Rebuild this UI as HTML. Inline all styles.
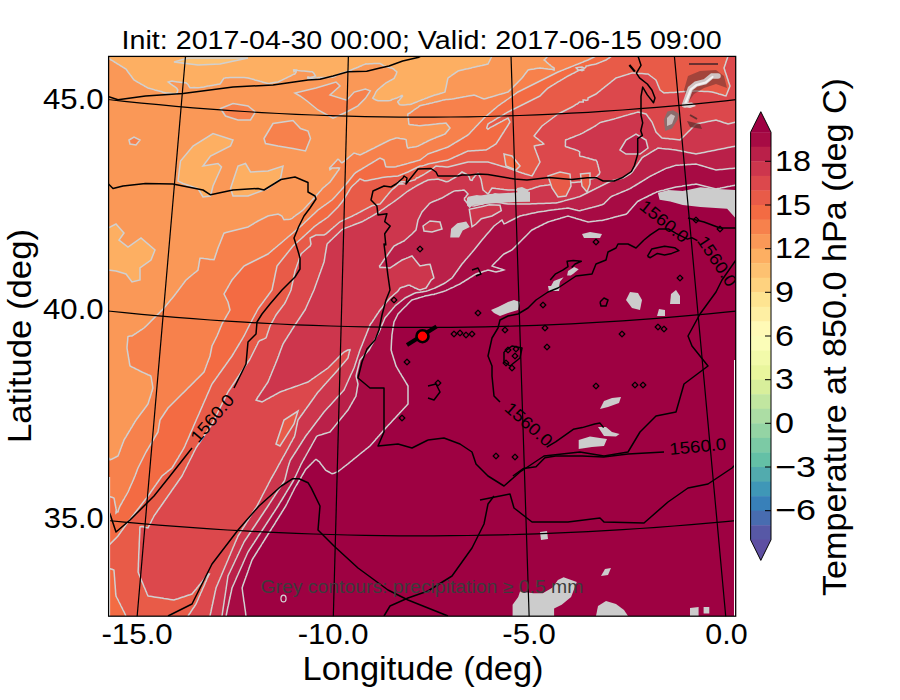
<!DOCTYPE html>
<html><head><meta charset="utf-8"><title>Temperature at 850 hPa</title>
<style>html,body{margin:0;padding:0;background:#fff;width:900px;height:700px;overflow:hidden}svg{display:block}</style>
</head><body>
<svg width="900" height="700" viewBox="0 0 900 700" font-family="Liberation Sans, sans-serif">
<rect width="900" height="700" fill="#fff"/>
<defs><clipPath id="c"><rect x="108" y="56.3" width="627.7" height="559.9"/></clipPath></defs>
<g clip-path="url(#c)">
<g shape-rendering="auto"><path fill="#fdaf62" fill-rule="evenodd" d="M110.0 56.0L112.0 56.0L114.0 56.0L116.0 56.0L118.0 56.0L120.0 56.0L122.0 56.0L124.0 56.0L126.0 56.0L128.0 56.0L130.0 56.0L132.0 56.0L134.0 56.0L136.0 56.0L138.0 56.0L140.0 56.0L142.0 56.0L144.0 56.0L146.0 56.0L148.0 56.0L150.0 56.0L152.0 56.0L154.0 56.0L156.0 56.0L158.0 56.0L160.0 56.0L162.0 56.0L164.0 56.0L166.0 56.0L168.0 56.0L170.0 56.0L172.0 56.0L174.0 56.0L176.0 56.0L178.0 56.0L180.0 56.0L182.0 56.0L184.0 56.0L186.0 56.0L188.0 56.0L190.0 56.0L192.0 56.0L194.0 56.0L196.0 56.0L198.0 56.0L200.0 56.0L202.0 56.0L204.0 56.0L206.0 56.0L208.0 56.0L210.0 56.0L212.0 56.0L214.0 56.0L216.0 56.0L218.0 56.0L220.0 56.0L222.0 56.0L224.0 56.0L226.0 56.0L228.0 56.0L230.0 56.0L232.0 56.0L234.0 56.0L236.0 56.0L238.0 56.0L240.0 56.0L242.0 56.0L244.0 56.0L246.0 56.0L248.0 56.0L250.0 56.0L252.0 56.0L254.0 56.0L256.0 56.0L258.0 56.0L260.0 56.0L262.0 56.0L264.0 56.0L266.0 56.0L268.0 56.0L270.0 56.0L272.0 56.0L274.0 56.0L276.0 56.0L278.0 56.0L280.0 56.0L282.0 56.0L284.0 56.0L286.0 56.0L288.0 56.0L290.0 56.0L292.0 56.0L294.0 56.0L296.0 56.0L298.0 56.0L300.0 56.0L302.0 56.0L304.0 56.0L306.0 56.0L308.0 56.0L310.0 56.0L312.0 56.0L314.0 56.0L316.0 56.0L318.0 56.0L320.0 56.0L322.0 56.0L324.0 56.0L326.0 56.0L328.0 56.0L330.0 56.0L332.0 56.0L334.0 56.0L336.0 56.0L338.0 56.0L340.0 56.0L342.0 56.0L344.0 56.0L346.0 56.0L348.0 56.0L350.0 56.0L352.0 56.0L354.0 56.0L356.0 56.0L358.0 56.0L360.0 56.0L362.0 56.0L364.0 56.0L366.0 56.0L368.0 56.0L370.0 56.0L372.0 56.0L374.0 56.0L376.0 56.0L378.0 56.0L380.0 56.0L382.0 56.0L384.0 56.0L386.0 56.0L388.0 56.0L390.0 56.0L392.0 56.0L394.0 56.0L396.0 56.0L398.0 56.0L400.0 56.0L402.0 56.0L404.0 56.0L406.0 56.0L408.0 56.0L410.0 56.0L412.0 56.0L414.0 56.0L416.0 56.0L418.0 56.0L420.0 56.0L422.0 56.0L424.0 56.0L426.0 56.0L428.0 56.0L430.0 56.0L432.0 56.0L434.0 56.0L436.0 56.0L438.0 56.0L440.0 56.0L442.0 56.0L444.0 56.0L446.0 56.0L448.0 56.0L450.0 56.0L452.0 56.0L454.0 56.0L456.0 56.0L458.0 56.0L460.0 56.0L462.0 56.0L464.0 56.0L466.0 56.0L468.0 56.0L470.0 56.0L472.0 56.0L474.0 56.0L476.0 56.0L478.0 56.0L480.0 56.0L482.0 56.0L484.0 56.0L486.0 56.0L488.0 56.0L490.0 56.0L491.9 56.0L491.0 58.0L490.0 60.0L490.0 60.1L489.0 62.0L488.0 64.0L487.9 64.0L486.0 64.5L484.0 64.9L482.0 65.4L480.0 65.8L479.7 66.0L478.0 66.3L476.0 66.8L474.0 67.2L472.0 67.6L471.2 68.0L470.0 68.2L468.0 68.7L466.0 69.1L464.0 69.5L462.5 70.0L462.0 70.1L460.0 70.5L458.0 71.0L456.7 72.0L456.0 72.4L454.0 73.9L453.9 74.0L452.0 75.2L450.9 76.0L450.0 76.6L448.1 78.0L448.0 78.3L447.5 80.0L447.1 82.0L446.7 84.0L446.3 86.0L446.0 87.6L445.8 88.0L445.4 90.0L445.0 92.0L444.0 92.4L442.0 93.0L440.0 93.5L438.9 94.0L438.0 94.2L436.0 94.8L434.0 95.3L432.3 96.0L432.0 96.0L430.0 96.8L428.0 97.5L427.1 98.0L426.0 98.3L424.0 99.1L422.0 99.7L421.7 100.0L420.0 100.6L418.0 101.4L416.8 102.0L416.0 102.2L414.0 103.0L412.0 103.8L411.7 104.0L410.0 104.5L408.0 104.6L406.0 104.8L404.0 104.9L402.0 105.1L400.0 104.9L399.0 104.0L398.0 102.3L397.7 102.0L398.0 101.2L399.5 100.0L400.0 99.1L401.0 98.0L402.0 96.7L402.5 96.0L402.0 95.4L401.0 96.0L400.0 96.7L398.0 97.4L396.9 98.0L396.0 98.2L394.0 98.9L392.0 99.5L391.5 100.0L390.0 100.4L388.0 100.8L386.0 100.8L384.0 100.8L382.0 100.8L380.0 100.8L378.0 100.8L376.0 100.0L376.0 100.0L374.0 99.0L372.7 98.0L374.0 96.0L374.1 96.0L375.0 94.0L375.9 92.0L376.0 91.8L377.5 90.0L378.0 89.5L379.8 88.0L380.0 87.8L382.0 86.1L382.2 86.0L384.0 84.4L384.6 84.0L386.0 82.9L387.8 82.0L388.0 81.8L390.0 80.7L391.3 80.0L392.0 79.6L394.0 78.4L394.3 78.0L395.2 76.0L396.0 74.6L396.2 74.0L396.9 72.0L396.0 71.1L394.5 70.0L394.0 69.3L392.0 68.1L391.7 68.0L390.0 67.7L388.0 67.1L386.0 66.6L384.0 66.0L384.0 66.0L382.0 64.6L380.9 64.0L380.0 63.4L378.0 63.6L376.0 63.6L374.0 63.6L372.0 63.7L370.0 63.7L368.0 64.0L366.0 63.9L366.0 64.0L364.0 64.6L362.0 65.4L361.1 66.0L360.0 66.3L358.0 67.2L356.1 68.0L356.0 68.0L354.0 68.8L352.0 69.6L351.5 70.0L350.0 70.5L348.0 71.3L346.0 71.6L345.5 72.0L344.0 72.4L342.0 73.0L340.0 73.5L339.5 74.0L338.0 74.7L336.0 75.6L335.6 76.0L334.0 76.7L332.0 77.3L330.0 77.3L328.0 77.4L326.0 77.5L324.0 77.5L322.0 77.6L320.0 77.6L318.0 77.5L317.5 78.0L316.0 78.1L314.0 78.2L312.0 78.2L310.0 78.2L308.0 78.4L307.6 78.0L308.0 76.9L310.0 77.4L312.0 77.1L314.0 76.4L315.5 76.0L314.2 74.0L314.0 73.5L312.5 72.0L312.0 71.8L310.0 71.7L308.0 71.5L306.0 71.3L304.0 71.1L302.0 70.9L300.0 70.7L298.0 70.4L296.0 70.0L296.0 70.0L294.0 69.8L293.6 70.0L294.0 71.5L296.0 70.1L296.2 72.0L296.0 72.3L294.8 74.0L294.0 74.2L292.0 75.2L290.6 76.0L290.0 76.2L288.0 77.1L286.4 78.0L286.0 78.1L284.0 79.1L282.3 80.0L282.0 80.1L280.0 81.0L278.0 82.0L278.0 82.0L276.0 82.3L274.0 82.6L272.0 82.9L270.0 83.2L268.0 83.4L266.0 82.9L264.0 82.4L262.3 82.0L262.0 81.8L260.0 81.3L258.0 80.7L256.0 80.2L254.9 80.0L254.0 79.5L252.0 79.1L250.0 78.5L248.0 78.0L248.0 77.9L246.0 77.7L244.0 77.6L242.0 77.5L240.0 77.5L238.0 77.4L236.0 77.4L234.0 77.4L232.0 77.5L230.0 77.6L228.0 77.7L226.0 77.8L225.1 78.0L224.0 78.1L222.7 80.0L222.0 81.0L221.5 82.0L220.0 84.0L220.0 84.0L218.0 84.3L216.0 84.7L214.0 85.1L212.0 85.4L210.0 85.7L209.3 86.0L208.0 86.1L206.0 86.5L204.0 86.9L202.0 87.2L200.0 87.6L198.0 87.8L196.0 87.7L194.0 87.6L192.0 87.7L190.0 87.8L188.7 86.0L188.0 84.4L187.5 84.0L186.0 82.8L184.0 82.7L182.0 82.5L180.0 82.3L178.0 82.1L177.1 82.0L176.0 81.8L174.0 81.4L172.0 81.1L170.0 81.4L168.2 82.0L170.0 83.4L170.6 84.0L172.0 84.8L173.6 86.0L174.0 86.2L176.0 87.6L176.6 88.0L177.8 90.0L177.4 92.0L176.1 94.0L176.0 94.0L175.6 94.0L174.0 93.5L172.0 93.5L170.0 93.3L168.0 93.1L166.0 93.0L164.0 92.4L162.2 92.0L162.0 91.8L160.0 91.3L158.0 90.8L156.0 90.2L154.9 90.0L154.0 89.6L152.0 89.1L150.0 88.5L148.0 88.0L148.0 88.0L146.0 86.9L144.4 86.0L144.0 85.7L142.0 84.6L140.9 84.0L140.0 83.4L138.0 82.3L137.4 82.0L136.0 81.2L134.0 80.0L134.0 80.0L132.5 78.0L132.0 77.3L131.1 76.0L130.0 74.6L129.6 74.0L128.0 72.0L128.0 72.0L126.7 70.0L126.0 69.1L124.2 68.0L124.0 67.9L122.0 66.6L121.0 66.0L120.0 65.3L118.0 64.2L117.6 64.0L116.0 62.9L114.4 62.0L114.0 61.7L112.0 60.4L111.1 60.0L110.0 59.2L108.0 58.0L108.0 58.0L108.0 56.0Z"/><path fill="#fa9857" fill-rule="evenodd" d="M492.0 56.0L494.0 56.0L496.0 56.0L498.0 56.0L500.0 56.0L502.0 56.0L504.0 56.0L506.0 56.0L508.0 56.0L510.0 56.0L512.0 56.0L514.0 56.0L516.0 56.0L518.0 56.0L520.0 56.0L522.0 56.0L524.0 56.0L526.0 56.0L528.0 56.0L530.0 56.0L532.0 56.0L534.0 56.0L536.0 56.0L538.0 56.0L540.0 56.0L542.0 56.0L544.0 56.0L546.0 56.0L547.9 56.0L546.1 58.0L546.0 58.2L544.1 60.0L546.0 61.4L546.4 62.0L548.0 63.3L548.7 64.0L550.0 64.9L551.1 66.0L552.0 66.7L554.0 67.9L554.1 68.0L554.2 70.0L554.0 70.0L553.8 70.0L552.0 69.3L550.0 69.2L548.0 69.0L546.0 68.7L544.0 68.5L542.0 68.2L540.1 68.0L540.0 67.9L539.9 68.0L538.0 68.3L536.0 68.6L534.0 69.0L532.0 69.3L530.0 69.6L528.3 70.0L528.0 70.1L526.6 72.0L526.0 72.7L525.0 74.0L524.0 75.4L523.6 76.0L522.0 78.0L522.0 78.0L520.1 80.0L520.0 80.1L518.2 82.0L518.0 82.1L516.1 84.0L516.0 84.1L514.1 86.0L514.0 86.1L512.2 88.0L512.0 88.2L510.2 90.0L510.0 90.1L508.0 92.0L508.0 92.0L506.0 92.6L504.0 93.2L502.0 93.7L501.3 94.0L500.0 94.3L498.0 94.9L496.0 95.5L494.4 96.0L494.0 96.1L492.0 96.7L490.0 97.3L488.0 97.8L487.6 98.0L486.0 98.4L484.0 98.9L482.0 98.2L481.4 98.0L480.0 97.4L478.0 96.6L476.5 96.0L476.0 95.8L474.0 95.1L472.0 95.4L470.0 95.7L468.4 96.0L468.0 96.1L466.0 96.5L464.0 96.8L462.0 97.2L460.0 97.6L458.0 97.9L457.3 98.0L456.0 98.3L454.0 98.7L452.0 99.0L450.0 99.2L448.0 99.4L446.0 99.5L444.0 99.9L443.0 100.0L442.0 100.4L440.0 100.9L438.0 101.4L436.0 101.9L435.0 102.0L434.0 102.4L432.0 102.9L430.0 103.3L428.0 103.9L427.0 104.0L426.0 104.4L424.0 104.8L422.0 105.3L420.0 105.8L419.6 106.0L418.0 107.3L416.8 108.0L416.0 108.7L414.0 109.9L413.9 110.0L412.0 111.5L411.1 112.0L410.0 113.0L408.0 113.9L407.9 114.0L407.8 116.0L408.0 117.4L408.4 118.0L408.4 120.0L408.7 122.0L408.8 124.0L410.0 124.7L412.0 124.7L414.0 125.0L416.0 125.2L418.0 125.5L420.0 125.7L422.0 125.5L424.0 125.3L426.0 125.1L428.0 124.9L430.0 124.7L432.0 124.5L434.0 124.3L436.0 124.1L436.4 124.0L438.0 123.8L440.0 123.6L442.0 123.4L444.0 123.2L446.0 123.1L446.8 124.0L448.0 125.4L448.4 126.0L450.0 128.0L448.4 130.0L448.0 130.5L446.7 132.0L446.0 132.9L444.9 134.0L444.0 134.4L442.0 135.2L440.2 136.0L440.0 136.0L438.0 136.8L436.0 137.5L435.3 138.0L434.0 138.4L432.0 139.2L430.1 140.0L430.0 140.0L428.0 141.0L426.2 142.0L426.0 142.1L424.0 143.0L422.3 144.0L422.0 144.1L420.0 145.1L418.3 146.0L418.0 146.1L416.0 146.8L414.0 147.0L412.0 147.3L410.0 147.4L408.7 148.0L408.0 148.1L407.7 148.0L407.0 146.0L406.7 144.0L406.4 142.0L406.2 140.0L406.0 139.6L404.0 139.0L402.0 138.7L400.0 138.5L398.0 138.1L396.0 138.1L394.0 138.8L392.0 139.4L390.0 140.0L390.0 140.0L388.0 141.0L386.1 142.0L386.0 142.0L384.0 143.0L382.1 144.0L382.0 144.0L380.0 145.0L378.1 146.0L378.0 146.0L376.0 147.0L374.1 148.0L374.0 148.1L372.0 149.0L370.1 150.0L370.0 150.0L368.0 151.0L366.2 152.0L366.0 152.1L364.0 153.0L362.1 154.0L362.0 154.0L360.0 154.9L358.0 154.3L356.8 154.0L356.0 153.6L354.0 153.1L352.8 154.0L352.0 154.7L350.5 156.0L350.0 156.3L348.2 158.0L348.0 158.1L346.0 159.7L345.7 160.0L344.0 161.5L343.2 162.0L342.0 162.8L340.8 162.0L340.0 160.9L339.1 160.0L338.0 159.2L337.0 160.0L336.0 161.2L335.2 162.0L334.0 163.4L333.4 164.0L332.0 165.5L331.5 166.0L330.0 167.6L329.6 168.0L330.0 169.7L332.0 168.1L333.3 168.0L334.0 168.0L335.4 168.0L336.0 168.0L336.1 168.0L338.0 167.8L339.5 168.0L338.7 170.0L338.0 170.9L337.1 172.0L336.0 173.8L335.8 174.0L334.3 176.0L334.0 176.5L332.9 178.0L332.0 179.3L331.5 180.0L330.0 182.0L330.0 182.1L328.0 183.8L327.8 184.0L326.0 185.4L325.4 186.0L324.0 187.2L323.0 188.0L322.0 189.1L321.3 190.0L320.0 191.4L319.4 192.0L318.0 193.7L317.7 194.0L316.0 195.9L316.0 196.0L314.1 198.0L314.0 198.1L312.3 200.0L312.0 200.3L310.4 202.0L310.0 202.5L308.5 204.0L308.0 204.6L306.7 206.0L306.0 206.8L304.9 208.0L304.0 209.0L303.0 210.0L302.0 210.8L300.5 212.0L300.0 212.3L298.0 213.9L297.9 214.0L296.0 215.2L295.0 216.0L294.0 216.7L292.5 218.0L292.0 218.4L290.0 219.2L288.0 219.4L286.0 219.6L284.0 219.8L282.9 218.0L282.0 216.1L281.9 216.0L280.0 215.0L278.0 214.0L276.0 214.4L274.0 214.8L272.0 215.2L270.0 215.6L268.1 216.0L268.0 216.0L266.0 217.0L264.1 218.0L264.0 218.0L262.0 219.0L260.1 220.0L260.0 220.0L258.0 221.0L256.4 222.0L256.0 222.2L254.0 223.4L253.1 224.0L252.0 224.6L250.0 225.8L249.8 226.0L248.0 227.0L246.0 227.5L244.0 228.0L244.0 228.0L242.0 228.5L240.0 229.0L238.0 229.5L236.0 230.0L236.0 230.0L234.0 230.5L232.0 231.0L230.0 231.5L228.0 232.0L228.0 232.0L226.0 232.5L224.0 233.2L223.6 234.0L222.8 236.0L222.0 238.0L222.0 238.1L221.2 240.0L220.4 242.0L220.0 243.1L219.6 244.0L218.8 246.0L218.0 248.0L218.0 248.1L217.3 250.0L216.7 252.0L216.0 254.0L216.0 254.0L215.3 256.0L214.7 258.0L214.0 259.8L212.0 259.6L210.0 259.4L208.0 259.1L206.0 258.8L204.0 258.6L202.0 258.3L200.0 258.3L199.7 260.0L199.3 262.0L199.0 264.0L198.7 266.0L198.3 268.0L198.0 270.0L198.0 270.0L196.0 271.8L195.7 272.0L194.0 273.3L193.2 274.0L192.0 275.0L190.8 276.0L190.0 276.7L188.4 278.0L188.0 278.4L186.1 280.0L186.0 280.1L184.5 282.0L184.0 282.7L183.0 284.0L182.0 285.4L181.5 286.0L180.0 288.0L180.0 288.1L178.5 290.0L178.0 290.7L177.0 292.0L176.0 293.4L175.5 294.0L174.0 296.0L174.0 296.1L172.4 298.0L172.0 298.5L170.6 300.0L170.0 300.8L169.0 302.0L168.0 303.2L167.3 304.0L166.0 305.7L165.7 306.0L164.0 308.0L164.0 308.1L162.1 310.0L162.0 310.1L160.1 312.0L160.0 312.2L158.1 314.0L158.0 314.2L156.1 316.0L156.0 316.1L154.1 318.0L154.0 318.1L152.1 320.0L152.0 320.1L150.1 322.0L150.0 322.2L148.1 324.0L148.0 324.2L146.1 326.0L146.0 326.1L144.0 328.0L144.0 328.0L142.0 329.4L141.0 330.0L140.0 330.7L138.1 332.0L138.0 332.0L136.0 333.4L135.0 334.0L134.0 334.7L132.0 336.0L130.0 336.0L130.0 336.0L128.0 336.6L127.8 338.0L127.7 340.0L127.5 342.0L127.3 344.0L127.1 346.0L127.0 348.0L127.3 350.0L127.6 352.0L128.0 354.0L128.0 354.1L128.3 356.0L128.6 358.0L129.0 360.0L129.3 362.0L129.6 364.0L130.0 365.7L130.1 366.0L132.0 367.0L134.0 367.9L134.2 368.0L136.0 369.0L138.0 369.9L138.2 370.0L140.0 371.0L142.0 372.0L142.1 372.0L144.0 372.9L146.0 373.8L146.6 374.0L148.0 374.7L150.0 375.5L150.8 376.0L151.3 378.0L151.6 380.0L151.9 382.0L152.0 382.1L152.3 384.0L152.6 386.0L152.9 388.0L152.3 390.0L152.0 391.5L151.6 392.0L151.1 394.0L150.5 396.0L150.0 397.8L149.8 398.0L149.2 400.0L148.6 402.0L148.0 404.0L148.0 404.0L146.5 406.0L146.0 406.8L145.0 408.0L144.0 409.5L143.5 410.0L142.1 412.0L142.0 412.1L140.5 414.0L140.0 414.8L139.0 416.0L138.0 417.5L137.5 418.0L136.1 420.0L136.0 420.1L134.8 422.0L134.0 423.5L133.6 424.0L132.4 426.0L132.0 426.8L131.2 428.0L130.1 430.0L130.0 430.2L128.8 432.0L128.0 433.5L127.6 434.0L126.4 436.0L126.0 436.8L125.2 438.0L124.0 440.0L124.0 440.1L123.3 442.0L122.5 444.0L122.0 445.5L121.7 446.0L121.0 448.0L120.2 450.0L120.0 450.9L119.5 452.0L118.8 454.0L118.0 456.0L118.0 456.0L116.0 457.0L114.1 458.0L114.0 458.0L112.0 459.0L110.0 459.8L108.8 458.0L108.0 456.7L108.0 456.0L108.0 454.0L108.0 452.0L108.0 450.0L108.0 448.0L108.0 446.0L108.0 444.0L108.0 442.0L108.0 440.0L108.0 438.0L108.0 436.0L108.0 434.0L108.0 432.0L108.0 430.0L108.0 428.0L108.0 426.0L108.0 424.0L108.0 422.0L108.0 420.0L108.0 418.0L108.0 416.0L108.0 414.0L108.0 412.0L108.0 410.0L108.0 408.0L108.0 406.0L108.0 404.0L108.0 402.0L108.0 400.0L108.0 398.0L108.0 396.0L108.0 394.0L108.0 392.0L108.0 390.0L108.0 388.0L108.0 386.0L108.0 384.0L108.0 382.0L108.0 380.0L108.0 378.0L108.0 376.0L108.0 374.0L108.0 372.0L108.0 370.0L108.0 368.0L108.0 366.0L108.0 364.0L108.0 362.0L108.0 360.0L108.0 358.0L108.0 356.0L108.0 354.0L108.0 352.0L108.0 350.0L108.0 348.0L108.0 346.0L108.0 344.0L108.0 342.0L108.0 340.0L108.0 338.0L108.0 336.0L108.0 334.0L108.0 332.0L108.0 330.0L108.0 328.0L108.0 326.0L108.0 324.0L108.0 322.0L108.0 320.0L108.0 318.0L108.0 316.0L108.0 314.0L108.0 312.0L108.0 310.0L108.0 308.0L108.0 306.0L108.0 304.0L108.0 302.0L108.0 300.0L108.0 298.0L108.0 296.0L108.0 294.0L108.0 292.0L108.0 290.0L108.0 288.0L108.0 286.0L108.0 284.0L108.0 282.0L108.0 280.0L108.0 278.0L108.0 276.0L108.0 274.0L108.0 272.0L108.0 270.0L108.0 268.0L108.0 266.0L108.0 264.0L108.0 262.0L108.0 260.0L108.0 258.0L108.0 256.0L108.0 254.0L108.0 252.0L108.0 250.0L108.0 248.0L108.0 246.0L108.0 244.0L108.0 242.0L108.0 240.0L108.0 238.0L108.0 236.0L108.0 234.0L108.0 232.0L108.0 230.0L108.0 228.0L108.0 226.0L108.0 224.0L108.0 222.0L108.0 220.0L108.0 218.0L108.0 216.0L108.0 214.0L108.0 212.0L108.0 210.0L108.0 208.0L108.0 206.0L108.0 204.0L108.0 202.0L108.0 200.0L108.0 198.0L108.0 196.0L108.0 194.0L108.0 192.0L108.0 190.0L108.0 188.0L108.0 186.0L108.0 184.0L108.0 182.0L108.0 180.0L108.0 178.0L108.0 176.0L108.0 174.0L108.0 172.0L108.0 170.0L108.0 168.0L108.0 166.0L108.0 164.0L108.0 162.0L108.0 160.0L108.0 158.0L108.0 156.0L108.0 154.0L108.0 152.0L108.0 150.0L108.0 148.0L108.0 146.0L108.0 144.0L108.0 142.0L108.0 140.0L108.0 138.0L108.0 136.0L108.0 134.0L108.0 132.0L108.0 130.0L108.0 128.0L108.0 126.0L108.0 124.0L108.0 122.0L108.0 120.0L108.0 118.0L108.0 116.0L108.0 114.0L108.0 112.0L108.0 110.0L108.0 108.0L108.0 106.0L108.0 104.0L108.0 102.0L108.0 100.0L108.0 98.0L108.0 96.0L108.0 94.0L108.0 92.0L108.0 90.0L108.0 88.0L108.0 86.0L108.0 84.0L108.0 82.0L108.0 80.0L108.0 78.0L108.0 76.0L108.0 74.0L108.0 72.0L108.0 70.0L108.0 68.0L108.0 66.0L108.0 64.0L108.0 62.0L108.0 60.0L108.0 58.0L110.0 59.2L111.1 60.0L112.0 60.4L114.0 61.7L114.4 62.0L116.0 62.9L117.6 64.0L118.0 64.2L120.0 65.3L121.0 66.0L122.0 66.6L124.0 67.9L124.2 68.0L126.0 69.1L126.7 70.0L128.0 72.0L128.0 72.0L129.6 74.0L130.0 74.6L131.1 76.0L132.0 77.3L132.5 78.0L134.0 80.0L134.0 80.0L136.0 81.2L137.4 82.0L138.0 82.3L140.0 83.4L140.9 84.0L142.0 84.6L144.0 85.7L144.4 86.0L146.0 86.9L148.0 88.0L148.0 88.0L150.0 88.5L152.0 89.1L154.0 89.6L154.9 90.0L156.0 90.2L158.0 90.8L160.0 91.3L162.0 91.8L162.2 92.0L164.0 92.4L166.0 93.0L168.0 93.1L170.0 93.3L172.0 93.5L174.0 93.5L175.6 94.0L176.0 94.0L176.1 94.0L177.4 92.0L177.8 90.0L176.6 88.0L176.0 87.6L174.0 86.2L173.6 86.0L172.0 84.8L170.6 84.0L170.0 83.4L168.2 82.0L170.0 81.4L172.0 81.1L174.0 81.4L176.0 81.8L177.1 82.0L178.0 82.1L180.0 82.3L182.0 82.5L184.0 82.7L186.0 82.8L187.5 84.0L188.0 84.4L188.7 86.0L190.0 87.8L192.0 87.7L194.0 87.6L196.0 87.7L198.0 87.8L200.0 87.6L202.0 87.2L204.0 86.9L206.0 86.5L208.0 86.1L209.3 86.0L210.0 85.7L212.0 85.4L214.0 85.1L216.0 84.7L218.0 84.3L220.0 84.0L220.0 84.0L221.5 82.0L222.0 81.0L222.7 80.0L224.0 78.1L225.1 78.0L226.0 77.8L228.0 77.7L230.0 77.6L232.0 77.5L234.0 77.4L236.0 77.4L238.0 77.4L240.0 77.5L242.0 77.5L244.0 77.6L246.0 77.7L248.0 77.9L248.0 78.0L250.0 78.5L252.0 79.1L254.0 79.5L254.9 80.0L256.0 80.2L258.0 80.7L260.0 81.3L262.0 81.8L262.3 82.0L264.0 82.4L266.0 82.9L268.0 83.4L270.0 83.2L272.0 82.9L274.0 82.6L276.0 82.3L278.0 82.0L278.0 82.0L280.0 81.0L282.0 80.1L282.3 80.0L284.0 79.1L286.0 78.1L286.4 78.0L288.0 77.1L290.0 76.2L290.6 76.0L292.0 75.2L294.0 74.2L294.8 74.0L296.0 72.3L296.2 72.0L296.0 70.1L294.0 71.5L293.6 70.0L294.0 69.8L296.0 70.0L296.0 70.0L298.0 70.4L300.0 70.7L302.0 70.9L304.0 71.1L306.0 71.3L308.0 71.5L310.0 71.7L312.0 71.8L312.5 72.0L314.0 73.5L314.2 74.0L315.5 76.0L314.0 76.4L312.0 77.1L310.0 77.4L308.0 76.9L307.6 78.0L308.0 78.4L310.0 78.2L312.0 78.2L314.0 78.2L316.0 78.1L317.5 78.0L318.0 77.5L320.0 77.6L322.0 77.6L324.0 77.5L326.0 77.5L328.0 77.4L330.0 77.3L332.0 77.3L334.0 76.7L335.6 76.0L336.0 75.6L338.0 74.7L339.5 74.0L340.0 73.5L342.0 73.0L344.0 72.4L345.5 72.0L346.0 71.6L348.0 71.3L350.0 70.5L351.5 70.0L352.0 69.6L354.0 68.8L356.0 68.0L356.1 68.0L358.0 67.2L360.0 66.3L361.1 66.0L362.0 65.4L364.0 64.6L366.0 64.0L366.0 63.9L368.0 64.0L370.0 63.7L372.0 63.7L374.0 63.6L376.0 63.6L378.0 63.6L380.0 63.4L380.9 64.0L382.0 64.6L384.0 66.0L384.0 66.0L386.0 66.6L388.0 67.1L390.0 67.7L391.7 68.0L392.0 68.1L394.0 69.3L394.5 70.0L396.0 71.1L396.9 72.0L396.2 74.0L396.0 74.6L395.2 76.0L394.3 78.0L394.0 78.4L392.0 79.6L391.3 80.0L390.0 80.7L388.0 81.8L387.8 82.0L386.0 82.9L384.6 84.0L384.0 84.4L382.2 86.0L382.0 86.1L380.0 87.8L379.8 88.0L378.0 89.5L377.5 90.0L376.0 91.8L375.9 92.0L375.0 94.0L374.1 96.0L374.0 96.0L372.7 98.0L374.0 99.0L376.0 100.0L376.0 100.0L378.0 100.8L380.0 100.8L382.0 100.8L384.0 100.8L386.0 100.8L388.0 100.8L390.0 100.4L391.5 100.0L392.0 99.5L394.0 98.9L396.0 98.2L396.9 98.0L398.0 97.4L400.0 96.7L401.0 96.0L402.0 95.4L402.5 96.0L402.0 96.7L401.0 98.0L400.0 99.1L399.5 100.0L398.0 101.2L397.7 102.0L398.0 102.3L399.0 104.0L400.0 104.9L402.0 105.1L404.0 104.9L406.0 104.8L408.0 104.6L410.0 104.5L411.7 104.0L412.0 103.8L414.0 103.0L416.0 102.2L416.8 102.0L418.0 101.4L420.0 100.6L421.7 100.0L422.0 99.7L424.0 99.1L426.0 98.3L427.1 98.0L428.0 97.5L430.0 96.8L432.0 96.0L432.3 96.0L434.0 95.3L436.0 94.8L438.0 94.2L438.9 94.0L440.0 93.5L442.0 93.0L444.0 92.4L445.0 92.0L445.4 90.0L445.8 88.0L446.0 87.6L446.3 86.0L446.7 84.0L447.1 82.0L447.5 80.0L448.0 78.3L448.1 78.0L450.0 76.6L450.9 76.0L452.0 75.2L453.9 74.0L454.0 73.9L456.0 72.4L456.7 72.0L458.0 71.0L460.0 70.5L462.0 70.1L462.5 70.0L464.0 69.5L466.0 69.1L468.0 68.7L470.0 68.2L471.2 68.0L472.0 67.6L474.0 67.2L476.0 66.8L478.0 66.3L479.7 66.0L480.0 65.8L482.0 65.4L484.0 64.9L486.0 64.5L487.9 64.0L488.0 64.0L489.0 62.0L490.0 60.1L490.0 60.0L491.0 58.0L491.9 56.0Z"/><path fill="#f7814c" fill-rule="evenodd" d="M548.0 56.0L550.0 56.0L552.0 56.0L554.0 56.0L556.0 56.0L558.0 56.0L560.0 56.0L562.0 56.0L564.0 56.0L566.0 56.0L568.0 56.0L570.0 56.0L572.0 56.0L574.0 56.0L576.0 56.0L578.0 56.0L580.0 56.0L582.0 56.0L584.0 56.0L586.0 56.0L588.0 56.0L590.0 56.0L592.0 56.0L594.0 56.0L595.9 56.0L594.0 57.0L592.1 58.0L592.0 58.0L590.0 59.0L588.0 60.0L588.0 60.0L586.0 60.8L584.0 61.5L583.2 62.0L582.0 62.4L580.0 63.2L578.1 64.0L578.0 64.0L576.0 64.8L574.0 65.6L573.1 66.0L572.0 66.4L570.0 67.2L568.1 68.0L568.0 68.0L566.0 68.8L564.0 69.6L563.1 70.0L562.0 70.4L560.0 71.2L558.0 72.0L558.0 72.0L556.0 73.0L554.0 74.0L553.9 74.0L552.0 75.0L550.0 76.0L550.0 76.0L548.0 77.0L546.0 78.0L546.0 78.0L544.0 79.0L542.0 80.0L542.0 80.0L540.0 81.0L538.0 82.0L538.0 82.0L536.0 83.0L534.0 84.0L534.0 84.0L532.0 85.0L530.0 86.0L530.0 86.0L528.0 87.0L526.0 88.0L526.0 88.0L524.0 89.0L522.0 90.0L521.9 90.0L520.0 91.0L518.0 92.0L518.0 92.0L516.0 93.4L515.1 94.0L514.0 94.8L512.2 96.0L512.0 96.2L510.0 97.6L509.4 98.0L508.0 99.0L506.5 100.0L506.0 100.4L504.0 101.8L503.7 102.0L502.0 103.2L500.8 104.0L500.0 104.6L498.0 106.0L498.0 106.0L496.0 107.7L495.7 108.0L494.0 109.4L493.3 110.0L492.0 111.1L491.0 112.0L490.0 112.9L488.7 114.0L488.0 114.6L486.4 116.0L486.0 116.3L484.1 118.0L484.0 118.1L482.2 120.0L482.0 120.2L480.3 122.0L480.0 122.3L478.4 124.0L478.0 124.5L476.5 126.0L476.0 126.6L474.6 128.0L474.0 128.7L472.7 130.0L472.0 130.8L470.8 132.0L470.0 132.9L469.0 134.0L468.0 135.0L466.4 136.0L466.0 136.2L464.0 137.4L463.0 138.0L462.0 138.6L460.0 139.8L459.7 140.0L458.0 141.0L456.4 142.0L456.0 142.2L454.0 143.4L453.0 144.0L452.0 144.6L450.0 145.8L449.7 146.0L448.0 147.0L446.0 147.7L445.2 148.0L444.0 148.4L442.0 149.1L440.0 149.8L439.4 150.0L438.0 150.5L436.0 151.2L434.0 151.9L433.7 152.0L432.0 152.6L430.0 153.3L428.0 154.0L428.0 154.0L426.0 155.5L425.4 156.0L424.0 157.0L422.7 158.0L422.0 158.5L420.0 160.0L420.0 160.0L418.0 160.6L416.0 161.1L414.0 161.7L413.0 162.0L412.0 162.2L410.0 162.8L408.0 163.4L406.0 163.9L405.8 164.0L404.0 164.5L402.0 165.0L400.0 165.6L398.7 166.0L398.0 166.1L396.0 166.7L394.0 167.0L392.0 167.0L390.0 167.0L388.0 167.0L386.0 166.7L385.6 166.0L385.1 164.0L384.6 162.0L384.0 160.1L384.0 160.0L382.0 159.0L380.0 158.0L378.0 159.2L376.6 160.0L376.0 160.4L374.0 161.6L373.3 162.0L372.0 162.8L370.0 164.0L369.9 164.0L368.0 165.2L366.7 166.0L366.0 166.4L364.0 167.6L363.3 168.0L362.0 168.8L360.0 170.0L360.0 170.0L358.0 171.2L356.7 172.0L356.0 172.4L354.2 174.0L354.0 174.3L352.6 176.0L352.0 176.8L351.0 178.0L350.0 179.3L349.4 180.0L348.0 181.8L347.9 182.0L346.2 184.0L346.0 184.3L344.6 186.0L344.0 186.8L343.0 188.0L342.0 189.1L341.2 190.0L340.0 191.3L339.3 192.0L338.0 193.5L337.5 194.0L336.0 195.7L335.7 196.0L334.0 197.9L333.9 198.0L332.0 200.0L332.0 200.0L330.0 201.4L329.2 202.0L328.0 202.9L326.4 204.0L326.0 204.3L324.0 205.7L323.6 206.0L322.0 207.1L320.8 208.0L320.0 208.6L318.0 210.0L318.0 210.0L316.0 211.9L315.9 212.0L314.0 213.8L313.7 214.0L312.0 215.6L311.6 216.0L310.0 217.5L309.5 218.0L308.0 219.4L307.4 220.0L306.0 221.3L305.2 222.0L304.0 223.2L303.1 224.0L302.0 225.1L301.0 226.0L300.0 226.9L298.6 228.0L298.0 228.6L296.3 230.0L296.0 230.3L294.0 232.0L294.0 232.0L292.0 233.7L291.6 234.0L290.0 235.4L289.2 236.0L288.0 237.0L286.9 238.0L286.0 238.8L284.5 240.0L284.0 240.5L282.2 242.0L282.0 242.2L280.0 243.9L279.9 244.0L278.0 245.5L277.5 246.0L276.0 247.2L275.1 248.0L274.0 248.9L272.7 250.0L272.0 250.6L270.4 252.0L270.0 252.3L268.0 254.0L268.0 254.0L266.0 255.0L264.1 256.0L264.0 256.0L262.0 257.0L260.0 258.0L260.0 258.0L258.0 259.0L256.0 260.0L256.0 260.0L254.0 261.0L252.0 262.0L252.0 262.0L250.0 263.0L248.0 264.0L248.0 264.0L246.0 265.0L244.0 266.0L244.0 266.0L242.3 268.0L242.0 268.3L240.6 270.0L240.0 270.7L238.9 272.0L238.0 273.0L237.1 274.0L236.0 275.3L235.4 276.0L234.0 277.6L233.7 278.0L232.0 280.0L232.0 280.0L230.8 282.0L230.0 283.5L229.7 284.0L228.6 286.0L228.0 287.0L227.4 288.0L226.3 290.0L226.0 290.5L225.1 292.0L224.0 294.0L225.0 296.0L226.0 298.0L226.0 298.0L227.0 300.0L228.0 302.0L228.0 302.0L228.5 304.0L229.0 306.0L229.5 308.0L230.0 310.0L228.9 312.0L228.0 313.6L227.7 314.0L226.6 316.0L226.0 317.0L225.4 318.0L224.3 320.0L224.0 320.6L223.1 322.0L222.0 324.0L222.0 324.0L221.2 326.0L220.3 328.0L220.0 328.9L219.5 330.0L218.7 332.0L218.0 333.7L217.8 334.0L217.0 336.0L216.0 338.0L216.0 338.1L215.0 340.0L214.0 342.0L214.0 342.1L213.0 344.0L212.0 346.0L212.0 346.1L211.6 348.0L211.2 350.0L210.8 352.0L210.4 354.0L210.0 356.0L210.0 356.0L209.3 358.0L208.5 360.0L208.0 361.5L207.7 362.0L207.0 364.0L206.2 366.0L206.0 366.8L205.5 368.0L204.8 370.0L204.0 372.0L204.0 372.0L202.1 374.0L202.0 374.1L200.1 376.0L200.0 376.1L198.1 378.0L198.0 378.1L196.0 380.0L196.0 380.0L194.1 382.0L194.0 382.1L192.1 384.0L192.0 384.1L190.1 386.0L190.0 386.1L188.0 388.0L188.0 388.0L186.1 390.0L186.0 390.1L184.1 392.0L184.0 392.1L182.0 394.0L182.0 394.0L180.0 396.0L180.0 396.0L178.0 398.0L178.0 398.0L176.0 400.0L176.0 400.0L174.0 402.0L174.0 402.0L172.0 404.0L172.0 404.0L170.0 406.0L170.0 406.0L168.0 408.0L168.0 408.0L166.7 410.0L166.0 411.0L165.3 412.0L164.0 414.0L164.0 414.0L162.7 416.0L162.0 417.0L161.3 418.0L160.0 420.0L160.0 420.0L159.7 422.0L159.3 424.0L159.0 426.0L158.7 428.0L158.3 430.0L158.0 431.9L158.0 432.0L156.8 434.0L156.0 435.3L155.6 436.0L154.4 438.0L154.0 438.7L153.2 440.0L152.0 442.0L152.0 442.0L150.8 444.0L150.0 445.3L149.6 446.0L148.4 448.0L148.0 448.7L147.2 450.0L146.0 452.0L146.0 452.0L145.0 454.0L144.0 456.0L144.0 456.0L143.0 458.0L142.0 460.0L142.0 460.0L141.0 462.0L140.0 464.0L140.0 464.0L139.0 466.0L138.0 468.0L138.0 468.0L137.2 470.0L136.5 472.0L136.0 473.4L135.7 474.0L135.0 476.0L134.1 478.0L134.0 478.4L133.3 480.0L132.4 482.0L132.0 483.0L131.5 484.0L130.6 486.0L130.0 487.5L129.7 488.0L128.9 490.0L128.0 492.0L128.0 492.0L126.9 494.0L126.0 495.6L125.7 496.0L124.6 498.0L124.0 499.1L123.4 500.0L122.3 502.0L122.0 502.6L121.2 504.0L120.0 506.0L120.0 506.1L119.2 508.0L118.4 510.0L118.0 511.9L117.0 512.0L116.0 513.0L116.0 512.0L116.0 511.5L116.3 510.0L116.0 508.7L115.9 508.0L115.5 506.0L115.1 504.0L114.7 502.0L114.4 500.0L114.0 498.2L113.9 498.0L112.0 497.3L110.0 496.7L108.0 496.1L108.0 496.0L108.0 494.0L108.0 492.0L108.0 490.0L108.0 488.0L108.0 486.0L108.0 484.0L108.0 482.0L108.0 480.0L108.0 478.0L108.0 476.0L108.0 474.0L108.0 472.0L108.0 470.0L108.0 468.0L108.0 466.0L108.0 464.0L108.0 462.0L108.0 460.0L108.0 458.0L108.0 456.7L108.8 458.0L110.0 459.8L112.0 459.0L114.0 458.0L114.1 458.0L116.0 457.0L118.0 456.0L118.0 456.0L118.8 454.0L119.5 452.0L120.0 450.9L120.2 450.0L121.0 448.0L121.7 446.0L122.0 445.5L122.5 444.0L123.3 442.0L124.0 440.1L124.0 440.0L125.2 438.0L126.0 436.8L126.4 436.0L127.6 434.0L128.0 433.5L128.8 432.0L130.0 430.2L130.1 430.0L131.2 428.0L132.0 426.8L132.4 426.0L133.6 424.0L134.0 423.5L134.8 422.0L136.0 420.1L136.1 420.0L137.5 418.0L138.0 417.5L139.0 416.0L140.0 414.8L140.5 414.0L142.0 412.1L142.1 412.0L143.5 410.0L144.0 409.5L145.0 408.0L146.0 406.8L146.5 406.0L148.0 404.0L148.0 404.0L148.6 402.0L149.2 400.0L149.8 398.0L150.0 397.8L150.5 396.0L151.1 394.0L151.6 392.0L152.0 391.5L152.3 390.0L152.9 388.0L152.6 386.0L152.3 384.0L152.0 382.1L151.9 382.0L151.6 380.0L151.3 378.0L150.8 376.0L150.0 375.5L148.0 374.7L146.6 374.0L146.0 373.8L144.0 372.9L142.1 372.0L142.0 372.0L140.0 371.0L138.2 370.0L138.0 369.9L136.0 369.0L134.2 368.0L134.0 367.9L132.0 367.0L130.1 366.0L130.0 365.7L129.6 364.0L129.3 362.0L129.0 360.0L128.6 358.0L128.3 356.0L128.0 354.1L128.0 354.0L127.6 352.0L127.3 350.0L127.0 348.0L127.1 346.0L127.3 344.0L127.5 342.0L127.7 340.0L127.8 338.0L128.0 336.6L130.0 336.0L130.0 336.0L132.0 336.0L134.0 334.7L135.0 334.0L136.0 333.4L138.0 332.0L138.1 332.0L140.0 330.7L141.0 330.0L142.0 329.4L144.0 328.0L144.0 328.0L146.0 326.1L146.1 326.0L148.0 324.2L148.1 324.0L150.0 322.2L150.1 322.0L152.0 320.1L152.1 320.0L154.0 318.1L154.1 318.0L156.0 316.1L156.1 316.0L158.0 314.2L158.1 314.0L160.0 312.2L160.1 312.0L162.0 310.1L162.1 310.0L164.0 308.1L164.0 308.0L165.7 306.0L166.0 305.7L167.3 304.0L168.0 303.2L169.0 302.0L170.0 300.8L170.6 300.0L172.0 298.5L172.4 298.0L174.0 296.1L174.0 296.0L175.5 294.0L176.0 293.4L177.0 292.0L178.0 290.7L178.5 290.0L180.0 288.1L180.0 288.0L181.5 286.0L182.0 285.4L183.0 284.0L184.0 282.7L184.5 282.0L186.0 280.1L186.1 280.0L188.0 278.4L188.4 278.0L190.0 276.7L190.8 276.0L192.0 275.0L193.2 274.0L194.0 273.3L195.7 272.0L196.0 271.8L198.0 270.0L198.0 270.0L198.3 268.0L198.7 266.0L199.0 264.0L199.3 262.0L199.7 260.0L200.0 258.3L202.0 258.3L204.0 258.6L206.0 258.8L208.0 259.1L210.0 259.4L212.0 259.6L214.0 259.8L214.7 258.0L215.3 256.0L216.0 254.0L216.0 254.0L216.7 252.0L217.3 250.0L218.0 248.1L218.0 248.0L218.8 246.0L219.6 244.0L220.0 243.1L220.4 242.0L221.2 240.0L222.0 238.1L222.0 238.0L222.8 236.0L223.6 234.0L224.0 233.2L226.0 232.5L228.0 232.0L228.0 232.0L230.0 231.5L232.0 231.0L234.0 230.5L236.0 230.0L236.0 230.0L238.0 229.5L240.0 229.0L242.0 228.5L244.0 228.0L244.0 228.0L246.0 227.5L248.0 227.0L249.8 226.0L250.0 225.8L252.0 224.6L253.1 224.0L254.0 223.4L256.0 222.2L256.4 222.0L258.0 221.0L260.0 220.0L260.1 220.0L262.0 219.0L264.0 218.0L264.1 218.0L266.0 217.0L268.0 216.0L268.1 216.0L270.0 215.6L272.0 215.2L274.0 214.8L276.0 214.4L278.0 214.0L280.0 215.0L281.9 216.0L282.0 216.1L282.9 218.0L284.0 219.8L286.0 219.6L288.0 219.4L290.0 219.2L292.0 218.4L292.5 218.0L294.0 216.7L295.0 216.0L296.0 215.2L297.9 214.0L298.0 213.9L300.0 212.3L300.5 212.0L302.0 210.8L303.0 210.0L304.0 209.0L304.9 208.0L306.0 206.8L306.7 206.0L308.0 204.6L308.5 204.0L310.0 202.5L310.4 202.0L312.0 200.3L312.3 200.0L314.0 198.1L314.1 198.0L316.0 196.0L316.0 195.9L317.7 194.0L318.0 193.7L319.4 192.0L320.0 191.4L321.3 190.0L322.0 189.1L323.0 188.0L324.0 187.2L325.4 186.0L326.0 185.4L327.8 184.0L328.0 183.8L330.0 182.1L330.0 182.0L331.5 180.0L332.0 179.3L332.9 178.0L334.0 176.5L334.3 176.0L335.8 174.0L336.0 173.8L337.1 172.0L338.0 170.9L338.7 170.0L339.5 168.0L338.0 167.8L336.1 168.0L336.0 168.0L335.4 168.0L334.0 168.0L333.3 168.0L332.0 168.1L330.0 169.7L329.6 168.0L330.0 167.6L331.5 166.0L332.0 165.5L333.4 164.0L334.0 163.4L335.2 162.0L336.0 161.2L337.0 160.0L338.0 159.2L339.1 160.0L340.0 160.9L340.8 162.0L342.0 162.8L343.2 162.0L344.0 161.5L345.7 160.0L346.0 159.7L348.0 158.1L348.2 158.0L350.0 156.3L350.5 156.0L352.0 154.7L352.8 154.0L354.0 153.1L356.0 153.6L356.8 154.0L358.0 154.3L360.0 154.9L362.0 154.0L362.1 154.0L364.0 153.0L366.0 152.1L366.2 152.0L368.0 151.0L370.0 150.0L370.1 150.0L372.0 149.0L374.0 148.1L374.1 148.0L376.0 147.0L378.0 146.0L378.1 146.0L380.0 145.0L382.0 144.0L382.1 144.0L384.0 143.0L386.0 142.0L386.1 142.0L388.0 141.0L390.0 140.0L390.0 140.0L392.0 139.4L394.0 138.8L396.0 138.1L398.0 138.1L400.0 138.5L402.0 138.7L404.0 139.0L406.0 139.6L406.2 140.0L406.4 142.0L406.7 144.0L407.0 146.0L407.7 148.0L408.0 148.1L408.7 148.0L410.0 147.4L412.0 147.3L414.0 147.0L416.0 146.8L418.0 146.1L418.3 146.0L420.0 145.1L422.0 144.1L422.3 144.0L424.0 143.0L426.0 142.1L426.2 142.0L428.0 141.0L430.0 140.0L430.1 140.0L432.0 139.2L434.0 138.4L435.3 138.0L436.0 137.5L438.0 136.8L440.0 136.0L440.2 136.0L442.0 135.2L444.0 134.4L444.9 134.0L446.0 132.9L446.7 132.0L448.0 130.5L448.4 130.0L450.0 128.0L448.4 126.0L448.0 125.4L446.8 124.0L446.0 123.1L444.0 123.2L442.0 123.4L440.0 123.6L438.0 123.8L436.4 124.0L436.0 124.1L434.0 124.3L432.0 124.5L430.0 124.7L428.0 124.9L426.0 125.1L424.0 125.3L422.0 125.5L420.0 125.7L418.0 125.5L416.0 125.2L414.0 125.0L412.0 124.7L410.0 124.7L408.8 124.0L408.7 122.0L408.4 120.0L408.4 118.0L408.0 117.4L407.8 116.0L407.9 114.0L408.0 113.9L410.0 113.0L411.1 112.0L412.0 111.5L413.9 110.0L414.0 109.9L416.0 108.7L416.8 108.0L418.0 107.3L419.6 106.0L420.0 105.8L422.0 105.3L424.0 104.8L426.0 104.4L427.0 104.0L428.0 103.9L430.0 103.3L432.0 102.9L434.0 102.4L435.0 102.0L436.0 101.9L438.0 101.4L440.0 100.9L442.0 100.4L443.0 100.0L444.0 99.9L446.0 99.5L448.0 99.4L450.0 99.2L452.0 99.0L454.0 98.7L456.0 98.3L457.3 98.0L458.0 97.9L460.0 97.6L462.0 97.2L464.0 96.8L466.0 96.5L468.0 96.1L468.4 96.0L470.0 95.7L472.0 95.4L474.0 95.1L476.0 95.8L476.5 96.0L478.0 96.6L480.0 97.4L481.4 98.0L482.0 98.2L484.0 98.9L486.0 98.4L487.6 98.0L488.0 97.8L490.0 97.3L492.0 96.7L494.0 96.1L494.4 96.0L496.0 95.5L498.0 94.9L500.0 94.3L501.3 94.0L502.0 93.7L504.0 93.2L506.0 92.6L508.0 92.0L508.0 92.0L510.0 90.1L510.2 90.0L512.0 88.2L512.2 88.0L514.0 86.1L514.1 86.0L516.0 84.1L516.1 84.0L518.0 82.1L518.2 82.0L520.0 80.1L520.1 80.0L522.0 78.0L522.0 78.0L523.6 76.0L524.0 75.4L525.0 74.0L526.0 72.7L526.6 72.0L528.0 70.1L528.3 70.0L530.0 69.6L532.0 69.3L534.0 69.0L536.0 68.6L538.0 68.3L539.9 68.0L540.0 67.9L540.1 68.0L542.0 68.2L544.0 68.5L546.0 68.7L548.0 69.0L550.0 69.2L552.0 69.3L553.8 70.0L554.0 70.0L554.2 70.0L554.1 68.0L554.0 67.9L552.0 66.7L551.1 66.0L550.0 64.9L548.7 64.0L548.0 63.3L546.4 62.0L546.0 61.4L544.1 60.0L546.0 58.2L546.1 58.0L547.9 56.0Z"/><path fill="#f36b43" fill-rule="evenodd" d="M594.0 57.0L595.9 56.0L596.0 56.0L598.0 56.0L600.0 56.0L602.0 56.0L604.0 56.0L606.0 56.0L608.0 56.0L610.0 56.0L611.9 56.0L610.0 57.4L609.1 58.0L608.0 58.7L606.0 60.0L606.0 60.0L604.0 60.8L602.0 61.6L601.0 62.0L600.0 62.4L598.0 63.2L596.0 64.0L595.9 64.0L594.0 64.4L592.0 64.8L590.0 65.2L588.0 65.8L586.2 66.0L586.0 66.8L585.0 68.0L584.0 68.5L583.9 68.0L582.0 67.0L580.0 67.2L578.0 67.6L576.2 68.0L578.0 69.8L580.0 70.0L582.0 69.0L583.7 70.0L582.0 70.8L580.0 70.1L578.0 70.8L576.0 71.9L575.9 72.0L574.0 73.0L572.0 73.9L571.8 74.0L570.0 75.0L568.0 76.0L567.9 76.0L566.0 77.2L564.6 78.0L564.0 78.4L562.0 79.6L561.2 80.0L560.0 80.8L558.0 81.9L557.9 82.0L556.0 83.2L554.6 84.0L554.0 84.4L552.0 85.6L551.3 86.0L550.0 86.8L548.0 88.0L548.0 88.0L546.0 89.9L545.9 90.0L544.0 91.9L543.9 92.0L542.0 93.9L541.9 94.0L540.0 96.0L539.9 96.0L538.0 97.0L536.0 98.0L535.9 98.0L534.0 99.0L532.0 100.0L531.9 100.0L530.0 101.0L528.0 102.0L528.0 102.0L526.0 103.0L524.0 104.0L523.9 104.0L522.0 105.0L520.0 106.0L519.9 106.0L518.0 107.0L516.0 108.0L515.9 108.0L514.0 109.0L512.0 109.9L511.8 110.0L510.0 111.0L508.0 112.0L507.9 112.0L506.0 113.2L504.5 114.0L504.0 114.4L502.0 115.6L501.2 116.0L500.0 116.8L498.0 117.9L497.7 118.0L496.0 119.2L494.5 120.0L494.0 120.4L492.0 121.6L491.2 122.0L490.0 122.7L488.0 124.0L488.0 124.0L487.3 126.0L486.7 128.0L488.0 129.2L489.6 128.0L490.0 127.7L492.0 126.7L493.3 126.0L494.0 125.6L496.0 124.5L496.9 124.0L498.0 123.4L500.0 122.4L500.6 122.0L502.0 121.3L504.0 120.2L504.2 120.0L506.0 119.1L508.0 118.1L509.0 120.0L510.0 122.0L508.7 124.0L508.0 125.3L507.5 126.0L506.2 128.0L506.0 128.5L504.9 130.0L504.0 131.6L503.7 132.0L502.4 134.0L502.0 134.7L501.1 136.0L500.0 137.9L499.9 138.0L498.6 140.0L498.0 140.9L497.3 142.0L496.0 144.0L496.0 144.0L494.0 145.2L492.8 146.0L492.0 146.4L490.0 147.6L489.5 148.0L488.0 148.8L486.0 150.0L485.8 150.0L484.0 150.1L482.0 150.2L480.0 150.3L478.0 150.4L476.0 150.5L474.0 150.7L472.0 150.8L470.0 150.9L468.0 151.0L466.0 151.9L465.8 152.0L464.0 152.8L462.0 153.7L461.4 154.0L460.0 154.6L458.0 155.5L456.9 156.0L456.0 156.4L454.0 157.3L452.5 158.0L452.0 158.2L450.0 159.1L448.0 160.0L448.0 160.0L446.0 160.4L444.0 160.8L442.0 161.2L440.0 161.6L438.0 162.0L438.0 162.0L436.0 162.4L434.0 162.8L432.0 163.2L430.0 163.6L428.0 164.0L428.0 164.0L426.0 164.7L424.0 165.4L422.0 165.9L420.3 166.0L420.0 166.0L418.0 167.0L416.0 168.0L416.0 168.0L414.0 169.0L412.0 170.0L412.0 170.0L410.0 171.0L408.0 172.0L408.0 172.0L406.0 172.8L404.0 173.6L403.0 174.0L402.0 174.4L400.0 175.2L398.0 176.0L397.9 176.0L396.0 176.2L394.0 176.3L392.0 176.5L390.0 176.7L388.0 176.8L386.0 177.0L384.0 177.2L382.0 177.6L380.1 178.0L380.0 178.0L378.0 178.4L376.0 178.8L374.0 179.2L372.0 179.6L370.0 180.0L369.8 180.0L368.0 180.4L366.0 180.8L364.0 180.8L362.9 180.0L362.0 179.7L360.0 178.9L358.8 180.0L358.0 180.9L356.7 182.0L356.0 182.7L354.6 184.0L354.0 184.5L352.4 186.0L352.0 186.4L350.7 188.0L350.0 189.1L349.5 190.0L348.3 192.0L348.0 192.4L347.1 194.0L346.0 195.7L345.8 196.0L344.6 198.0L344.0 199.0L343.4 200.0L342.0 202.0L342.0 202.0L340.4 204.0L340.0 204.5L338.8 206.0L338.0 207.0L337.0 208.0L336.0 209.0L335.0 210.0L334.0 211.0L333.0 212.0L332.0 213.0L331.0 214.0L330.0 215.0L329.0 216.0L328.0 217.0L326.6 218.0L326.0 218.4L324.0 219.8L323.7 220.0L322.0 221.2L320.8 222.0L320.0 222.5L318.0 223.9L317.9 224.0L316.0 225.3L315.1 226.0L314.0 226.9L312.8 228.0L312.0 228.7L310.7 230.0L310.0 230.6L308.5 232.0L308.0 232.4L306.3 234.0L306.0 234.3L304.1 236.0L304.0 236.1L302.0 237.9L301.9 238.0L300.0 239.7L299.7 240.0L298.0 241.5L297.4 242.0L296.0 243.3L295.2 244.0L294.0 245.1L293.0 246.0L292.0 247.2L291.4 248.0L290.0 249.7L289.8 250.0L288.2 252.0L288.0 252.2L286.6 254.0L286.0 254.8L285.0 256.0L284.0 257.3L283.4 258.0L282.0 259.7L281.8 260.0L280.2 262.0L280.0 262.2L278.6 264.0L278.0 264.7L277.0 266.0L276.6 268.0L276.2 270.0L276.0 270.8L275.7 272.0L275.3 274.0L274.9 276.0L274.5 278.0L274.1 280.0L274.0 280.5L273.7 282.0L273.2 284.0L272.8 286.0L272.4 288.0L272.0 290.0L272.0 290.0L270.5 292.0L270.0 292.8L269.0 294.0L268.0 295.5L267.6 296.0L266.1 298.0L266.0 298.2L264.6 300.0L264.0 300.9L263.2 302.0L262.0 303.6L261.7 304.0L260.2 306.0L260.0 306.3L258.7 308.0L258.0 309.1L257.5 310.0L256.4 312.0L256.0 312.8L255.3 314.0L254.3 316.0L254.0 316.5L253.2 318.0L252.1 320.0L252.0 320.3L251.1 322.0L250.0 324.0L250.0 324.0L249.0 326.0L248.0 328.0L248.0 328.0L247.0 330.0L246.0 332.0L246.0 332.0L245.0 334.0L244.0 336.0L244.0 336.0L242.8 338.0L242.0 339.4L241.6 340.0L240.4 342.0L240.0 342.7L239.2 344.0L238.0 346.0L238.0 346.1L236.8 348.0L236.0 349.4L235.6 350.0L234.4 352.0L234.0 352.7L233.2 354.0L232.0 356.0L232.0 356.0L230.6 358.0L230.0 358.8L229.1 360.0L228.0 361.6L227.7 362.0L226.3 364.0L226.0 364.4L224.9 366.0L224.0 367.2L223.4 368.0L222.0 370.0L222.0 370.0L220.6 372.0L220.0 372.8L219.1 374.0L218.0 375.6L217.7 376.0L216.3 378.0L216.0 378.4L214.9 380.0L214.0 381.2L213.4 382.0L212.0 384.0L212.0 384.0L211.1 386.0L210.2 388.0L210.0 388.6L209.4 390.0L208.5 392.0L208.0 393.2L207.6 394.0L206.7 396.0L206.0 397.7L205.9 398.0L205.0 400.0L204.1 402.0L204.0 402.3L203.2 404.0L202.4 406.0L202.0 406.9L201.5 408.0L200.6 410.0L200.0 411.5L199.7 412.0L198.9 414.0L198.0 416.0L198.0 416.0L197.1 418.0L196.2 420.0L196.0 420.6L195.4 422.0L194.5 424.0L194.0 425.2L193.6 426.0L192.8 428.0L192.0 429.8L191.9 430.0L191.0 432.0L190.1 434.0L190.0 434.4L189.3 436.0L188.4 438.0L188.0 439.0L187.5 440.0L186.6 442.0L186.0 443.5L185.7 444.0L184.9 446.0L184.0 448.0L184.0 448.0L182.8 450.0L182.0 451.4L181.6 452.0L180.4 454.0L180.0 454.7L179.2 456.0L178.1 458.0L178.0 458.1L176.8 460.0L176.0 461.4L175.6 462.0L174.4 464.0L174.0 464.7L173.2 466.0L172.0 468.0L172.0 468.0L170.0 469.6L169.5 470.0L168.0 471.2L167.0 472.0L166.0 472.8L164.5 474.0L164.0 474.4L162.0 476.0L162.0 476.0L160.6 478.0L160.0 478.9L159.2 480.0L158.0 481.7L157.8 482.0L156.4 484.0L156.0 484.6L155.0 486.0L154.0 487.4L153.6 488.0L152.2 490.0L152.0 490.3L150.8 492.0L150.0 493.2L149.4 494.0L148.0 496.0L148.0 496.0L146.5 498.0L146.0 498.6L144.9 500.0L144.0 501.2L143.4 502.0L142.0 503.8L141.9 504.0L140.3 506.0L140.0 506.4L138.8 508.0L138.0 509.0L137.2 510.0L136.0 511.6L135.7 512.0L134.2 514.0L134.0 514.2L132.6 516.0L132.0 516.8L131.1 518.0L130.0 519.4L129.5 520.0L128.0 522.0L128.0 522.0L126.6 524.0L126.0 524.8L125.1 526.0L124.0 527.6L123.7 528.0L122.3 530.0L122.0 530.4L120.8 532.0L120.0 533.3L119.4 534.0L118.0 536.0L118.0 536.0L116.1 538.0L116.0 538.1L114.1 540.0L114.0 540.1L112.1 542.0L112.0 542.1L110.1 544.0L110.0 544.1L108.0 546.0L108.0 544.0L108.0 542.0L108.0 540.0L108.0 538.0L108.0 536.0L108.0 534.0L108.0 532.0L108.0 530.0L108.0 528.0L108.0 526.0L108.0 524.0L108.0 522.0L108.0 520.0L108.0 518.0L108.0 516.0L108.0 514.0L108.0 512.0L108.0 510.0L108.0 508.0L108.0 506.0L108.0 504.0L108.0 502.0L108.0 500.0L108.0 498.0L108.0 496.1L110.0 496.7L112.0 497.3L113.9 498.0L114.0 498.2L114.4 500.0L114.7 502.0L115.1 504.0L115.5 506.0L115.9 508.0L116.0 508.7L116.3 510.0L116.0 511.5L116.0 512.0L116.0 513.0L117.0 512.0L118.0 511.9L118.4 510.0L119.2 508.0L120.0 506.1L120.0 506.0L121.2 504.0L122.0 502.6L122.3 502.0L123.4 500.0L124.0 499.1L124.6 498.0L125.7 496.0L126.0 495.6L126.9 494.0L128.0 492.0L128.0 492.0L128.9 490.0L129.7 488.0L130.0 487.5L130.6 486.0L131.5 484.0L132.0 483.0L132.4 482.0L133.3 480.0L134.0 478.4L134.1 478.0L135.0 476.0L135.7 474.0L136.0 473.4L136.5 472.0L137.2 470.0L138.0 468.0L138.0 468.0L139.0 466.0L140.0 464.0L140.0 464.0L141.0 462.0L142.0 460.0L142.0 460.0L143.0 458.0L144.0 456.0L144.0 456.0L145.0 454.0L146.0 452.0L146.0 452.0L147.2 450.0L148.0 448.7L148.4 448.0L149.6 446.0L150.0 445.3L150.8 444.0L152.0 442.0L152.0 442.0L153.2 440.0L154.0 438.7L154.4 438.0L155.6 436.0L156.0 435.3L156.8 434.0L158.0 432.0L158.0 431.9L158.3 430.0L158.7 428.0L159.0 426.0L159.3 424.0L159.7 422.0L160.0 420.0L160.0 420.0L161.3 418.0L162.0 417.0L162.7 416.0L164.0 414.0L164.0 414.0L165.3 412.0L166.0 411.0L166.7 410.0L168.0 408.0L168.0 408.0L170.0 406.0L170.0 406.0L172.0 404.0L172.0 404.0L174.0 402.0L174.0 402.0L176.0 400.0L176.0 400.0L178.0 398.0L178.0 398.0L180.0 396.0L180.0 396.0L182.0 394.0L182.0 394.0L184.0 392.1L184.1 392.0L186.0 390.1L186.1 390.0L188.0 388.0L188.0 388.0L190.0 386.1L190.1 386.0L192.0 384.1L192.1 384.0L194.0 382.1L194.1 382.0L196.0 380.0L196.0 380.0L198.0 378.1L198.1 378.0L200.0 376.1L200.1 376.0L202.0 374.1L202.1 374.0L204.0 372.0L204.0 372.0L204.8 370.0L205.5 368.0L206.0 366.8L206.2 366.0L207.0 364.0L207.7 362.0L208.0 361.5L208.5 360.0L209.3 358.0L210.0 356.0L210.0 356.0L210.4 354.0L210.8 352.0L211.2 350.0L211.6 348.0L212.0 346.1L212.0 346.0L213.0 344.0L214.0 342.1L214.0 342.0L215.0 340.0L216.0 338.1L216.0 338.0L217.0 336.0L217.8 334.0L218.0 333.7L218.7 332.0L219.5 330.0L220.0 328.9L220.3 328.0L221.2 326.0L222.0 324.0L222.0 324.0L223.1 322.0L224.0 320.6L224.3 320.0L225.4 318.0L226.0 317.0L226.6 316.0L227.7 314.0L228.0 313.6L228.9 312.0L230.0 310.0L229.5 308.0L229.0 306.0L228.5 304.0L228.0 302.0L228.0 302.0L227.0 300.0L226.0 298.0L226.0 298.0L225.0 296.0L224.0 294.0L225.1 292.0L226.0 290.5L226.3 290.0L227.4 288.0L228.0 287.0L228.6 286.0L229.7 284.0L230.0 283.5L230.8 282.0L232.0 280.0L232.0 280.0L233.7 278.0L234.0 277.6L235.4 276.0L236.0 275.3L237.1 274.0L238.0 273.0L238.9 272.0L240.0 270.7L240.6 270.0L242.0 268.3L242.3 268.0L244.0 266.0L244.0 266.0L246.0 265.0L248.0 264.0L248.0 264.0L250.0 263.0L252.0 262.0L252.0 262.0L254.0 261.0L256.0 260.0L256.0 260.0L258.0 259.0L260.0 258.0L260.0 258.0L262.0 257.0L264.0 256.0L264.1 256.0L266.0 255.0L268.0 254.0L268.0 254.0L270.0 252.3L270.4 252.0L272.0 250.6L272.7 250.0L274.0 248.9L275.1 248.0L276.0 247.2L277.5 246.0L278.0 245.5L279.9 244.0L280.0 243.9L282.0 242.2L282.2 242.0L284.0 240.5L284.5 240.0L286.0 238.8L286.9 238.0L288.0 237.0L289.2 236.0L290.0 235.4L291.6 234.0L292.0 233.7L294.0 232.0L294.0 232.0L296.0 230.3L296.3 230.0L298.0 228.6L298.6 228.0L300.0 226.9L301.0 226.0L302.0 225.1L303.1 224.0L304.0 223.2L305.2 222.0L306.0 221.3L307.4 220.0L308.0 219.4L309.5 218.0L310.0 217.5L311.6 216.0L312.0 215.6L313.7 214.0L314.0 213.8L315.9 212.0L316.0 211.9L318.0 210.0L318.0 210.0L320.0 208.6L320.8 208.0L322.0 207.1L323.6 206.0L324.0 205.7L326.0 204.3L326.4 204.0L328.0 202.9L329.2 202.0L330.0 201.4L332.0 200.0L332.0 200.0L333.9 198.0L334.0 197.9L335.7 196.0L336.0 195.7L337.5 194.0L338.0 193.5L339.3 192.0L340.0 191.3L341.2 190.0L342.0 189.1L343.0 188.0L344.0 186.8L344.6 186.0L346.0 184.3L346.2 184.0L347.9 182.0L348.0 181.8L349.4 180.0L350.0 179.3L351.0 178.0L352.0 176.8L352.6 176.0L354.0 174.3L354.2 174.0L356.0 172.4L356.7 172.0L358.0 171.2L360.0 170.0L360.0 170.0L362.0 168.8L363.3 168.0L364.0 167.6L366.0 166.4L366.7 166.0L368.0 165.2L369.9 164.0L370.0 164.0L372.0 162.8L373.3 162.0L374.0 161.6L376.0 160.4L376.6 160.0L378.0 159.2L380.0 158.0L382.0 159.0L384.0 160.0L384.0 160.1L384.6 162.0L385.1 164.0L385.6 166.0L386.0 166.7L388.0 167.0L390.0 167.0L392.0 167.0L394.0 167.0L396.0 166.7L398.0 166.1L398.7 166.0L400.0 165.6L402.0 165.0L404.0 164.5L405.8 164.0L406.0 163.9L408.0 163.4L410.0 162.8L412.0 162.2L413.0 162.0L414.0 161.7L416.0 161.1L418.0 160.6L420.0 160.0L420.0 160.0L422.0 158.5L422.7 158.0L424.0 157.0L425.4 156.0L426.0 155.5L428.0 154.0L428.0 154.0L430.0 153.3L432.0 152.6L433.7 152.0L434.0 151.9L436.0 151.2L438.0 150.5L439.4 150.0L440.0 149.8L442.0 149.1L444.0 148.4L445.2 148.0L446.0 147.7L448.0 147.0L449.7 146.0L450.0 145.8L452.0 144.6L453.0 144.0L454.0 143.4L456.0 142.2L456.4 142.0L458.0 141.0L459.7 140.0L460.0 139.8L462.0 138.6L463.0 138.0L464.0 137.4L466.0 136.2L466.4 136.0L468.0 135.0L469.0 134.0L470.0 132.9L470.8 132.0L472.0 130.8L472.7 130.0L474.0 128.7L474.6 128.0L476.0 126.6L476.5 126.0L478.0 124.5L478.4 124.0L480.0 122.3L480.3 122.0L482.0 120.2L482.2 120.0L484.0 118.1L484.1 118.0L486.0 116.3L486.4 116.0L488.0 114.6L488.7 114.0L490.0 112.9L491.0 112.0L492.0 111.1L493.3 110.0L494.0 109.4L495.7 108.0L496.0 107.7L498.0 106.0L498.0 106.0L500.0 104.6L500.8 104.0L502.0 103.2L503.7 102.0L504.0 101.8L506.0 100.4L506.5 100.0L508.0 99.0L509.4 98.0L510.0 97.6L512.0 96.2L512.2 96.0L514.0 94.8L515.1 94.0L516.0 93.4L518.0 92.0L518.0 92.0L520.0 91.0L521.9 90.0L522.0 90.0L524.0 89.0L526.0 88.0L526.0 88.0L528.0 87.0L530.0 86.0L530.0 86.0L532.0 85.0L534.0 84.0L534.0 84.0L536.0 83.0L538.0 82.0L538.0 82.0L540.0 81.0L542.0 80.0L542.0 80.0L544.0 79.0L546.0 78.0L546.0 78.0L548.0 77.0L550.0 76.0L550.0 76.0L552.0 75.0L553.9 74.0L554.0 74.0L556.0 73.0L558.0 72.0L558.0 72.0L560.0 71.2L562.0 70.4L563.1 70.0L564.0 69.6L566.0 68.8L568.0 68.0L568.1 68.0L570.0 67.2L572.0 66.4L573.1 66.0L574.0 65.6L576.0 64.8L578.0 64.0L578.1 64.0L580.0 63.2L582.0 62.4L583.2 62.0L584.0 61.5L586.0 60.8L588.0 60.0L588.0 60.0L590.0 59.0L592.0 58.0L592.1 58.0ZM110.0 568.7L112.0 569.3L113.9 570.0L114.0 570.4L114.1 572.0L114.3 574.0L114.4 576.0L114.6 578.0L114.7 580.0L114.9 582.0L115.0 584.0L115.2 586.0L115.3 588.0L115.5 590.0L115.6 592.0L115.7 594.0L116.0 595.7L116.0 596.0L117.0 598.0L118.0 599.8L118.1 600.0L119.0 602.0L120.0 603.8L120.1 604.0L121.0 606.0L122.0 607.8L122.1 608.0L123.0 610.0L124.0 611.8L124.1 612.0L125.0 614.0L125.9 616.0L124.0 616.0L122.0 616.0L120.0 616.0L118.0 616.0L116.0 616.0L114.0 616.0L112.0 616.0L110.0 616.0L108.0 616.0L108.0 614.0L108.0 612.0L108.0 610.0L108.0 608.0L108.0 606.0L108.0 604.0L108.0 602.0L108.0 600.0L108.0 598.0L108.0 596.0L108.0 594.0L108.0 592.0L108.0 590.0L108.0 588.0L108.0 586.0L108.0 584.0L108.0 582.0L108.0 580.0L108.0 578.0L108.0 576.0L108.0 574.0L108.0 572.0L108.0 570.0L108.0 568.1Z"/><path fill="#e85b48" fill-rule="evenodd" d="M610.0 57.4L611.9 56.0L612.0 56.0L614.0 56.0L616.0 56.0L618.0 56.0L620.0 56.0L622.0 56.0L624.0 56.0L626.0 56.0L628.0 56.0L630.0 56.0L632.0 56.0L634.0 56.0L636.0 56.0L638.0 56.0L640.0 56.0L642.0 56.0L644.0 56.0L646.0 56.0L648.0 56.0L650.0 56.0L652.0 56.0L654.0 56.0L656.0 56.0L658.0 56.0L660.0 56.0L662.0 56.0L664.0 56.0L666.0 56.0L668.0 56.0L670.0 56.0L672.0 56.0L674.0 56.0L676.0 56.0L678.0 56.0L680.0 56.0L682.0 56.0L684.0 56.0L686.0 56.0L688.0 56.0L690.0 56.0L692.0 56.0L694.0 56.0L696.0 56.0L698.0 56.0L700.0 56.0L702.0 56.0L704.0 56.0L706.0 56.0L708.0 56.0L710.0 56.0L712.0 56.0L714.0 56.0L716.0 56.0L718.0 56.0L720.0 56.0L722.0 56.0L724.0 56.0L726.0 56.0L728.0 56.0L728.0 56.0L728.0 56.0L727.4 58.0L726.7 60.0L726.0 62.0L726.0 62.0L725.4 64.0L724.7 66.0L724.0 68.0L724.7 70.0L725.3 72.0L726.0 74.0L726.0 74.0L726.7 76.0L727.3 78.0L728.0 80.0L728.0 80.0L728.6 82.0L729.3 84.0L730.0 86.0L729.2 88.0L728.4 90.0L728.0 91.0L727.6 92.0L726.8 94.0L726.0 95.8L724.0 95.4L722.0 94.8L720.0 94.2L718.7 94.0L718.0 93.6L716.0 93.1L714.0 92.5L712.0 92.0L712.0 92.0L710.0 91.7L708.0 91.6L706.0 91.5L704.0 91.4L702.0 91.3L700.0 91.2L698.0 91.1L696.0 91.0L694.0 91.1L692.0 91.2L690.0 91.3L688.0 91.4L686.0 91.5L684.0 91.6L682.0 91.7L680.0 91.8L679.7 92.0L678.0 92.1L676.0 92.2L674.0 92.4L672.0 92.5L670.0 92.6L668.0 92.7L666.0 92.8L664.0 92.9L662.5 92.0L662.0 91.5L660.0 90.0L660.0 90.0L659.2 88.0L658.4 86.0L658.0 85.1L657.6 84.0L656.8 82.0L656.0 80.1L655.9 80.0L654.0 78.5L653.3 78.0L652.0 77.0L650.6 76.0L650.0 75.5L648.0 74.0L647.6 74.0L646.0 73.9L644.0 73.7L642.0 73.6L640.0 73.5L638.0 73.4L636.0 73.2L634.0 73.1L632.0 73.0L630.0 73.6L628.8 74.0L628.0 74.3L626.0 74.9L624.0 75.5L622.3 76.0L622.0 76.1L620.0 76.8L618.0 77.4L616.0 78.0L616.0 78.0L614.0 79.6L613.5 80.0L612.0 81.2L611.0 82.0L610.0 82.8L608.5 84.0L608.0 84.4L606.0 86.0L605.9 86.0L604.0 87.6L603.5 88.0L602.0 89.2L601.0 90.0L600.0 90.8L598.5 92.0L598.0 92.4L596.0 94.0L596.0 94.0L594.0 95.0L592.0 96.0L592.0 96.0L590.0 97.0L588.0 98.0L588.0 98.4L587.9 100.0L586.0 100.5L584.7 100.0L584.0 99.9L583.1 100.0L583.3 102.0L582.0 102.1L580.9 102.0L580.0 101.9L579.5 102.0L578.0 103.4L577.2 104.0L576.0 104.4L574.0 105.9L573.9 106.0L572.0 107.0L570.0 108.0L570.0 108.0L568.0 109.0L566.0 110.0L566.0 110.0L564.0 111.0L562.0 112.0L562.0 112.0L560.0 113.0L558.0 114.0L558.0 114.0L556.0 115.5L555.3 116.0L554.0 117.0L552.6 118.0L552.0 118.5L550.0 120.0L550.0 120.0L548.0 121.5L547.3 122.0L546.0 123.0L544.6 124.0L544.0 124.5L542.0 126.0L542.0 126.0L540.4 128.0L540.0 128.5L538.8 130.0L538.0 131.0L537.2 132.0L536.0 133.4L535.6 134.0L534.1 136.0L536.0 137.7L536.5 138.0L538.0 139.2L539.0 140.0L540.0 140.8L541.8 142.0L542.0 142.2L543.7 144.0L542.0 144.5L540.0 144.8L538.0 145.2L536.0 145.6L534.3 146.0L534.7 148.0L535.5 150.0L536.0 151.3L536.2 152.0L537.0 154.0L537.7 156.0L538.0 156.5L538.5 158.0L539.2 160.0L540.0 162.0L538.9 164.0L538.0 165.6L537.7 166.0L536.6 168.0L536.0 169.0L535.4 170.0L534.3 172.0L534.0 172.6L533.2 174.0L532.0 175.9L530.0 175.4L528.0 174.8L526.0 174.2L525.0 174.0L524.0 173.5L522.0 173.0L520.0 172.3L519.0 172.0L518.0 171.5L516.0 170.9L514.0 170.1L513.5 170.0L512.0 169.4L510.0 168.7L508.0 168.0L508.0 168.0L506.0 167.4L504.0 166.8L502.0 166.2L501.3 166.0L500.0 165.6L498.0 165.0L496.0 164.4L494.7 164.0L494.0 163.8L492.0 163.2L490.0 162.6L488.0 162.0L486.0 162.0L484.0 162.0L482.0 162.0L480.0 162.0L478.0 162.0L476.0 162.0L474.0 162.0L472.0 162.0L470.0 162.0L468.0 162.0L466.0 162.5L464.0 163.0L462.0 163.5L460.0 164.0L460.0 164.0L458.0 164.5L456.0 165.0L454.0 165.5L452.0 166.0L452.0 166.0L450.0 166.5L448.0 167.0L446.0 166.9L444.0 166.7L442.0 166.5L440.0 166.4L438.0 166.2L436.0 166.0L434.0 167.6L433.4 168.0L432.0 169.2L430.9 170.0L430.0 170.6L428.0 171.9L427.8 172.0L426.0 173.1L424.6 174.0L424.0 174.4L422.0 175.5L421.0 176.0L420.0 176.5L418.0 177.8L416.5 178.0L416.0 178.9L414.8 180.0L414.0 180.0L412.0 180.6L410.0 181.2L408.0 181.5L406.1 182.0L406.0 182.0L405.8 182.0L404.0 181.8L402.0 181.7L400.0 181.9L398.6 182.0L399.8 184.0L398.0 184.5L396.6 186.0L396.0 186.4L394.2 188.0L394.0 188.1L392.0 189.8L391.8 190.0L390.0 192.0L390.0 192.0L388.3 194.0L388.0 194.4L386.7 196.0L386.0 196.8L385.0 198.0L384.0 199.2L383.4 200.0L382.0 201.8L381.8 202.0L380.0 204.0L379.9 204.0L378.0 204.3L376.0 204.8L374.0 205.3L372.0 205.7L371.5 206.0L370.0 206.7L368.0 207.8L367.6 208.0L366.0 208.8L364.0 209.9L363.9 210.0L362.0 211.0L360.2 212.0L360.0 212.1L358.0 213.1L356.5 214.0L356.0 214.2L354.0 215.2L352.4 216.0L352.0 216.2L350.0 217.1L348.0 218.0L348.0 218.0L346.0 218.9L344.0 219.8L343.7 220.0L342.0 220.8L340.0 221.8L339.7 222.0L338.0 223.5L337.4 224.0L336.0 225.2L335.1 226.0L334.0 226.9L332.8 228.0L332.0 228.7L330.4 230.0L330.0 230.4L328.2 232.0L328.0 232.1L326.0 233.9L325.9 234.0L324.0 235.0L322.0 234.9L320.0 235.0L318.0 235.0L316.0 235.0L314.0 236.0L313.9 236.0L312.0 237.0L310.1 238.0L310.3 240.0L310.6 242.0L311.0 244.0L310.1 246.0L310.0 246.1L308.0 247.7L307.7 248.0L306.0 249.5L305.4 250.0L304.0 251.3L303.2 252.0L302.0 253.0L301.1 254.0L300.3 256.0L300.0 256.7L299.6 258.0L298.9 260.0L298.2 262.0L298.0 262.5L297.5 264.0L296.8 266.0L296.1 268.0L296.0 268.2L295.3 270.0L294.8 272.0L294.4 274.0L294.0 275.7L294.0 276.0L293.5 278.0L293.1 280.0L292.7 282.0L292.3 284.0L292.0 285.2L291.8 286.0L291.4 288.0L291.0 290.0L290.1 292.0L290.0 292.2L289.2 294.0L288.2 296.0L288.0 296.5L287.3 298.0L286.4 300.0L286.0 300.8L285.5 302.0L284.3 304.0L284.0 304.4L282.7 306.0L282.0 307.0L281.2 308.0L280.0 309.7L279.7 310.0L278.2 312.0L278.0 312.3L276.7 314.0L276.0 315.0L275.4 316.0L274.4 318.0L274.0 318.7L273.3 320.0L272.2 322.0L272.0 322.3L271.1 324.0L270.0 326.0L270.0 326.0L269.3 328.0L268.7 330.0L268.0 332.0L268.0 332.0L267.3 334.0L266.7 336.0L266.0 337.9L265.9 338.0L264.0 338.9L262.0 339.7L261.3 340.0L260.0 340.5L258.4 342.0L258.0 342.9L257.5 344.0L256.5 346.0L256.0 346.9L255.5 348.0L254.5 350.0L254.0 351.0L253.5 352.0L252.5 354.0L252.0 355.0L251.5 356.0L250.5 358.0L250.0 358.9L249.4 360.0L248.0 362.0L248.0 362.0L246.7 364.0L246.0 365.0L245.3 366.0L244.0 367.9L244.0 368.0L242.7 370.0L242.0 371.0L241.3 372.0L240.0 373.9L240.0 374.0L238.7 376.0L238.0 377.0L237.3 378.0L236.0 379.9L236.0 380.0L234.7 382.0L234.0 383.0L233.3 384.0L232.0 385.9L232.0 386.0L230.7 388.0L230.0 389.0L229.3 390.0L228.0 392.0L228.0 392.0L227.0 394.0L226.0 395.9L226.0 396.0L225.0 398.0L224.0 399.9L224.0 400.0L223.0 402.0L222.0 403.9L222.0 404.0L221.0 406.0L220.0 407.9L220.0 408.0L219.0 410.0L218.0 411.9L218.0 412.0L217.0 414.0L216.0 415.9L216.0 416.0L215.0 418.0L214.0 419.9L214.0 420.0L213.0 422.0L212.0 423.9L212.0 424.0L210.7 426.0L210.0 426.9L209.3 428.0L208.0 429.9L208.0 430.0L206.7 432.0L206.0 432.9L205.3 434.0L204.0 435.9L204.0 436.0L202.7 438.0L202.0 438.9L201.3 440.0L200.0 441.9L200.0 442.0L198.7 444.0L198.0 444.9L197.3 446.0L196.0 447.9L196.0 448.0L195.0 450.0L194.0 451.8L193.9 452.0L193.0 454.0L192.0 455.9L192.0 456.0L191.0 458.0L190.0 459.8L189.9 460.0L189.0 462.0L188.0 463.8L187.9 464.0L187.0 466.0L186.0 467.9L186.0 468.0L185.0 470.0L184.0 471.8L183.9 472.0L183.0 474.0L182.0 475.9L182.0 476.0L180.6 478.0L180.0 478.8L179.2 480.0L178.0 481.6L177.8 482.0L176.4 484.0L176.0 484.5L175.0 486.0L174.0 487.3L173.6 488.0L172.1 490.0L172.0 490.2L170.8 492.0L170.0 493.1L169.4 494.0L168.0 495.9L168.0 496.0L166.6 498.0L166.0 498.8L165.2 500.0L164.0 501.6L163.8 502.0L162.4 504.0L162.0 504.5L161.0 506.0L160.0 507.3L159.6 508.0L158.1 510.0L158.0 510.2L156.8 512.0L156.0 513.1L155.4 514.0L154.0 515.9L154.0 516.0L153.0 518.0L152.0 519.8L151.9 520.0L151.0 522.0L150.0 523.8L149.9 524.0L148.9 526.0L148.0 527.9L146.0 527.6L144.0 527.1L142.0 526.6L140.0 526.9L139.9 528.0L139.8 530.0L139.8 532.0L139.7 534.0L139.6 536.0L139.5 538.0L139.4 540.0L139.3 542.0L139.2 544.0L139.2 546.0L139.1 548.0L139.0 550.0L138.9 552.0L138.8 554.0L138.7 556.0L138.7 558.0L138.6 560.0L138.5 562.0L138.4 564.0L138.4 566.0L138.3 568.0L138.2 570.0L138.1 572.0L138.8 574.0L139.7 576.0L140.0 577.0L140.5 578.0L141.3 580.0L142.0 581.8L142.2 582.0L143.0 584.0L143.8 586.0L144.0 586.6L144.7 588.0L145.5 590.0L146.0 591.4L146.4 592.0L147.1 594.0L148.0 595.9L148.2 596.0L150.0 596.3L152.0 596.6L154.0 596.9L156.0 597.2L158.0 597.5L160.0 597.8L160.9 598.0L162.0 598.1L164.0 598.5L166.0 598.8L168.0 599.1L170.0 599.4L172.0 599.7L174.0 600.0L176.0 599.3L178.0 598.7L180.0 598.0L180.0 598.0L182.0 597.3L184.0 596.7L186.0 596.0L186.0 596.0L188.0 595.3L190.0 594.7L192.0 594.0L192.0 594.0L193.6 592.0L194.0 591.6L195.2 590.0L196.0 589.2L196.9 588.0L198.0 586.7L198.5 586.0L200.0 584.2L200.2 584.0L201.8 582.0L202.0 581.8L203.4 580.0L204.0 579.4L205.0 578.0L206.0 576.7L206.9 576.0L207.7 574.0L208.0 573.7L209.4 574.0L208.2 576.0L208.0 577.0L207.2 578.0L206.5 580.0L206.0 581.4L205.5 582.0L204.8 584.0L204.0 586.0L204.0 586.0L203.0 588.0L202.1 590.0L202.0 590.5L201.3 592.0L200.3 594.0L200.0 595.1L199.5 596.0L198.6 598.0L198.0 599.6L197.7 600.0L196.9 602.0L196.0 604.0L196.0 604.1L194.7 606.0L194.0 607.2L193.3 608.0L192.0 610.0L192.0 610.1L190.7 612.0L190.0 613.2L189.3 614.0L188.0 616.0L188.0 616.0L186.0 616.0L184.0 616.0L182.0 616.0L180.0 616.0L178.0 616.0L176.0 616.0L174.0 616.0L172.0 616.0L170.0 616.0L168.0 616.0L166.0 616.0L164.0 616.0L162.0 616.0L160.0 616.0L158.0 616.0L156.0 616.0L154.0 616.0L152.0 616.0L150.0 616.0L148.0 616.0L146.0 616.0L144.0 616.0L142.0 616.0L140.0 616.0L138.0 616.0L136.0 616.0L134.0 616.0L132.0 616.0L130.0 616.0L128.0 616.0L126.0 616.0L125.9 616.0L125.0 614.0L124.1 612.0L124.0 611.8L123.0 610.0L122.1 608.0L122.0 607.8L121.0 606.0L120.1 604.0L120.0 603.8L119.0 602.0L118.1 600.0L118.0 599.8L117.0 598.0L116.0 596.0L116.0 595.7L115.7 594.0L115.6 592.0L115.5 590.0L115.3 588.0L115.2 586.0L115.0 584.0L114.9 582.0L114.7 580.0L114.6 578.0L114.4 576.0L114.3 574.0L114.1 572.0L114.0 570.4L113.9 570.0L112.0 569.3L110.0 568.7L108.0 568.1L108.0 568.0L108.0 566.0L108.0 564.0L108.0 562.0L108.0 560.0L108.0 558.0L108.0 556.0L108.0 554.0L108.0 552.0L108.0 550.0L108.0 548.0L108.0 546.0L108.0 546.0L110.0 544.1L110.1 544.0L112.0 542.1L112.1 542.0L114.0 540.1L114.1 540.0L116.0 538.1L116.1 538.0L118.0 536.0L118.0 536.0L119.4 534.0L120.0 533.3L120.8 532.0L122.0 530.4L122.3 530.0L123.7 528.0L124.0 527.6L125.1 526.0L126.0 524.8L126.6 524.0L128.0 522.0L128.0 522.0L129.5 520.0L130.0 519.4L131.1 518.0L132.0 516.8L132.6 516.0L134.0 514.2L134.2 514.0L135.7 512.0L136.0 511.6L137.2 510.0L138.0 509.0L138.8 508.0L140.0 506.4L140.3 506.0L141.9 504.0L142.0 503.8L143.4 502.0L144.0 501.2L144.9 500.0L146.0 498.6L146.5 498.0L148.0 496.0L148.0 496.0L149.4 494.0L150.0 493.2L150.8 492.0L152.0 490.3L152.2 490.0L153.6 488.0L154.0 487.4L155.0 486.0L156.0 484.6L156.4 484.0L157.8 482.0L158.0 481.7L159.2 480.0L160.0 478.9L160.6 478.0L162.0 476.0L162.0 476.0L164.0 474.4L164.5 474.0L166.0 472.8L167.0 472.0L168.0 471.2L169.5 470.0L170.0 469.6L172.0 468.0L172.0 468.0L173.2 466.0L174.0 464.7L174.4 464.0L175.6 462.0L176.0 461.4L176.8 460.0L178.0 458.1L178.1 458.0L179.2 456.0L180.0 454.7L180.4 454.0L181.6 452.0L182.0 451.4L182.8 450.0L184.0 448.0L184.0 448.0L184.9 446.0L185.7 444.0L186.0 443.5L186.6 442.0L187.5 440.0L188.0 439.0L188.4 438.0L189.3 436.0L190.0 434.4L190.1 434.0L191.0 432.0L191.9 430.0L192.0 429.8L192.8 428.0L193.6 426.0L194.0 425.2L194.5 424.0L195.4 422.0L196.0 420.6L196.2 420.0L197.1 418.0L198.0 416.0L198.0 416.0L198.9 414.0L199.7 412.0L200.0 411.5L200.6 410.0L201.5 408.0L202.0 406.9L202.4 406.0L203.2 404.0L204.0 402.3L204.1 402.0L205.0 400.0L205.9 398.0L206.0 397.7L206.7 396.0L207.6 394.0L208.0 393.2L208.5 392.0L209.4 390.0L210.0 388.6L210.2 388.0L211.1 386.0L212.0 384.0L212.0 384.0L213.4 382.0L214.0 381.2L214.9 380.0L216.0 378.4L216.3 378.0L217.7 376.0L218.0 375.6L219.1 374.0L220.0 372.8L220.6 372.0L222.0 370.0L222.0 370.0L223.4 368.0L224.0 367.2L224.9 366.0L226.0 364.4L226.3 364.0L227.7 362.0L228.0 361.6L229.1 360.0L230.0 358.8L230.6 358.0L232.0 356.0L232.0 356.0L233.2 354.0L234.0 352.7L234.4 352.0L235.6 350.0L236.0 349.4L236.8 348.0L238.0 346.1L238.0 346.0L239.2 344.0L240.0 342.7L240.4 342.0L241.6 340.0L242.0 339.4L242.8 338.0L244.0 336.0L244.0 336.0L245.0 334.0L246.0 332.0L246.0 332.0L247.0 330.0L248.0 328.0L248.0 328.0L249.0 326.0L250.0 324.0L250.0 324.0L251.1 322.0L252.0 320.3L252.1 320.0L253.2 318.0L254.0 316.5L254.3 316.0L255.3 314.0L256.0 312.8L256.4 312.0L257.5 310.0L258.0 309.1L258.7 308.0L260.0 306.3L260.2 306.0L261.7 304.0L262.0 303.6L263.2 302.0L264.0 300.9L264.6 300.0L266.0 298.2L266.1 298.0L267.6 296.0L268.0 295.5L269.0 294.0L270.0 292.8L270.5 292.0L272.0 290.0L272.0 290.0L272.4 288.0L272.8 286.0L273.2 284.0L273.7 282.0L274.0 280.5L274.1 280.0L274.5 278.0L274.9 276.0L275.3 274.0L275.7 272.0L276.0 270.8L276.2 270.0L276.6 268.0L277.0 266.0L278.0 264.7L278.6 264.0L280.0 262.2L280.2 262.0L281.8 260.0L282.0 259.7L283.4 258.0L284.0 257.3L285.0 256.0L286.0 254.8L286.6 254.0L288.0 252.2L288.2 252.0L289.8 250.0L290.0 249.7L291.4 248.0L292.0 247.2L293.0 246.0L294.0 245.1L295.2 244.0L296.0 243.3L297.4 242.0L298.0 241.5L299.7 240.0L300.0 239.7L301.9 238.0L302.0 237.9L304.0 236.1L304.1 236.0L306.0 234.3L306.3 234.0L308.0 232.4L308.5 232.0L310.0 230.6L310.7 230.0L312.0 228.7L312.8 228.0L314.0 226.9L315.1 226.0L316.0 225.3L317.9 224.0L318.0 223.9L320.0 222.5L320.8 222.0L322.0 221.2L323.7 220.0L324.0 219.8L326.0 218.4L326.6 218.0L328.0 217.0L329.0 216.0L330.0 215.0L331.0 214.0L332.0 213.0L333.0 212.0L334.0 211.0L335.0 210.0L336.0 209.0L337.0 208.0L338.0 207.0L338.8 206.0L340.0 204.5L340.4 204.0L342.0 202.0L342.0 202.0L343.4 200.0L344.0 199.0L344.6 198.0L345.8 196.0L346.0 195.7L347.1 194.0L348.0 192.4L348.3 192.0L349.5 190.0L350.0 189.1L350.7 188.0L352.0 186.4L352.4 186.0L354.0 184.5L354.6 184.0L356.0 182.7L356.7 182.0L358.0 180.9L358.8 180.0L360.0 178.9L362.0 179.7L362.9 180.0L364.0 180.8L366.0 180.8L368.0 180.4L369.8 180.0L370.0 180.0L372.0 179.6L374.0 179.2L376.0 178.8L378.0 178.4L380.0 178.0L380.1 178.0L382.0 177.6L384.0 177.2L386.0 177.0L388.0 176.8L390.0 176.7L392.0 176.5L394.0 176.3L396.0 176.2L397.9 176.0L398.0 176.0L400.0 175.2L402.0 174.4L403.0 174.0L404.0 173.6L406.0 172.8L408.0 172.0L408.0 172.0L410.0 171.0L412.0 170.0L412.0 170.0L414.0 169.0L416.0 168.0L416.0 168.0L418.0 167.0L420.0 166.0L420.3 166.0L422.0 165.9L424.0 165.4L426.0 164.7L428.0 164.0L428.0 164.0L430.0 163.6L432.0 163.2L434.0 162.8L436.0 162.4L438.0 162.0L438.0 162.0L440.0 161.6L442.0 161.2L444.0 160.8L446.0 160.4L448.0 160.0L448.0 160.0L450.0 159.1L452.0 158.2L452.5 158.0L454.0 157.3L456.0 156.4L456.9 156.0L458.0 155.5L460.0 154.6L461.4 154.0L462.0 153.7L464.0 152.8L465.8 152.0L466.0 151.9L468.0 151.0L470.0 150.9L472.0 150.8L474.0 150.7L476.0 150.5L478.0 150.4L480.0 150.3L482.0 150.2L484.0 150.1L485.8 150.0L486.0 150.0L488.0 148.8L489.5 148.0L490.0 147.6L492.0 146.4L492.8 146.0L494.0 145.2L496.0 144.0L496.0 144.0L497.3 142.0L498.0 140.9L498.6 140.0L499.9 138.0L500.0 137.9L501.1 136.0L502.0 134.7L502.4 134.0L503.7 132.0L504.0 131.6L504.9 130.0L506.0 128.5L506.2 128.0L507.5 126.0L508.0 125.3L508.7 124.0L510.0 122.0L509.0 120.0L508.0 118.1L506.0 119.1L504.2 120.0L504.0 120.2L502.0 121.3L500.6 122.0L500.0 122.4L498.0 123.4L496.9 124.0L496.0 124.5L494.0 125.6L493.3 126.0L492.0 126.7L490.0 127.7L489.6 128.0L488.0 129.2L486.7 128.0L487.3 126.0L488.0 124.0L488.0 124.0L490.0 122.7L491.2 122.0L492.0 121.6L494.0 120.4L494.5 120.0L496.0 119.2L497.7 118.0L498.0 117.9L500.0 116.8L501.2 116.0L502.0 115.6L504.0 114.4L504.5 114.0L506.0 113.2L507.9 112.0L508.0 112.0L510.0 111.0L511.8 110.0L512.0 109.9L514.0 109.0L515.9 108.0L516.0 108.0L518.0 107.0L519.9 106.0L520.0 106.0L522.0 105.0L523.9 104.0L524.0 104.0L526.0 103.0L528.0 102.0L528.0 102.0L530.0 101.0L531.9 100.0L532.0 100.0L534.0 99.0L535.9 98.0L536.0 98.0L538.0 97.0L539.9 96.0L540.0 96.0L541.9 94.0L542.0 93.9L543.9 92.0L544.0 91.9L545.9 90.0L546.0 89.9L548.0 88.0L548.0 88.0L550.0 86.8L551.3 86.0L552.0 85.6L554.0 84.4L554.6 84.0L556.0 83.2L557.9 82.0L558.0 81.9L560.0 80.8L561.2 80.0L562.0 79.6L564.0 78.4L564.6 78.0L566.0 77.2L567.9 76.0L568.0 76.0L570.0 75.0L571.8 74.0L572.0 73.9L574.0 73.0L575.9 72.0L576.0 71.9L578.0 70.8L580.0 70.1L582.0 70.8L583.7 70.0L582.0 69.0L580.0 70.0L578.0 69.8L576.2 68.0L578.0 67.6L580.0 67.2L582.0 67.0L583.9 68.0L584.0 68.5L585.0 68.0L586.0 66.8L586.2 66.0L588.0 65.8L590.0 65.2L592.0 64.8L594.0 64.4L595.9 64.0L596.0 64.0L598.0 63.2L600.0 62.4L601.0 62.0L602.0 61.6L604.0 60.8L606.0 60.0L606.0 60.0L608.0 58.7L609.1 58.0ZM402.0 183.3L403.2 184.0L402.0 184.1L400.3 184.0Z"/><path fill="#dc484c" fill-rule="evenodd" d="M728.0 56.0L728.0 56.0L730.0 56.0L732.0 56.0L734.0 56.0L736.0 56.0L736.0 58.0L736.0 60.0L736.0 62.0L736.0 64.0L736.0 66.0L736.0 68.0L736.0 70.0L736.0 72.0L736.0 74.0L736.0 76.0L736.0 78.0L736.0 80.0L736.0 82.0L736.0 84.0L736.0 86.0L736.0 88.0L736.0 90.0L736.0 92.0L736.0 94.0L736.0 96.0L736.0 98.0L736.0 100.0L736.0 102.0L736.0 104.0L736.0 106.0L736.0 108.0L736.0 110.0L736.0 112.0L736.0 114.0L736.0 116.0L736.0 118.0L736.0 120.0L736.0 122.0L736.0 122.0L734.0 122.5L732.0 123.0L730.0 123.5L728.0 124.0L726.0 123.3L724.0 122.7L722.0 122.0L722.0 122.0L720.0 121.3L718.0 120.7L716.0 120.0L714.0 120.4L712.0 120.8L710.0 121.2L708.0 121.6L706.0 122.0L706.0 122.0L704.0 122.4L702.0 122.8L700.0 123.2L698.0 123.6L696.1 124.0L696.0 124.0L694.0 126.0L694.0 126.0L692.0 128.0L692.0 128.0L690.1 130.0L690.0 130.1L688.0 132.0L688.0 132.0L686.1 134.0L686.0 134.1L684.2 136.0L684.0 136.1L682.2 138.0L682.0 138.1L680.0 139.9L678.0 139.7L676.0 139.5L674.0 139.3L672.0 139.1L670.0 138.9L668.0 138.6L666.0 138.4L664.0 138.2L662.1 138.0L662.0 138.0L660.0 136.1L659.8 136.0L658.0 134.1L657.8 134.0L656.0 132.0L656.0 132.0L655.2 130.0L654.4 128.0L654.0 127.0L653.6 126.0L652.8 124.0L652.0 122.0L652.0 122.0L650.5 120.0L650.0 119.3L649.0 118.0L648.0 116.6L647.6 116.0L646.0 114.0L646.0 114.0L644.0 113.5L642.0 113.0L640.0 112.5L638.0 112.1L636.0 112.6L634.0 113.2L632.0 113.7L630.9 114.0L630.0 114.3L628.0 114.9L626.0 115.4L624.0 116.0L624.0 116.0L622.0 116.6L620.0 117.2L618.0 117.8L617.2 118.0L616.0 118.4L614.0 119.0L612.0 119.5L610.1 120.0L610.0 120.0L608.0 120.6L606.0 121.1L604.0 121.6L602.2 122.0L602.0 122.1L600.0 122.6L598.0 124.0L598.0 124.0L596.0 125.5L595.2 126.0L594.0 126.7L592.0 127.8L591.6 128.0L590.0 129.0L588.0 130.0L588.0 130.0L586.0 131.2L584.4 132.0L584.0 132.3L582.0 133.4L580.6 134.0L580.0 134.4L578.0 135.1L576.0 135.9L575.6 136.0L574.0 136.7L572.0 137.5L570.5 138.0L570.0 138.3L568.0 139.1L566.0 139.7L565.6 140.0L565.4 142.0L565.5 144.0L565.3 146.0L566.0 146.8L568.0 147.2L570.0 148.0L570.0 148.0L572.0 148.6L574.0 149.3L576.0 150.0L576.1 150.0L578.0 150.6L579.8 152.0L579.5 154.0L579.8 156.0L580.0 156.2L582.0 156.4L584.0 157.0L586.0 157.6L587.5 158.0L588.0 158.1L590.0 158.7L592.0 159.2L594.0 159.9L595.1 160.0L596.0 160.1L597.2 162.0L597.5 164.0L598.0 164.9L598.1 166.0L598.7 168.0L599.1 170.0L599.9 172.0L599.3 174.0L598.0 175.1L597.2 176.0L596.0 177.1L594.7 178.0L594.0 178.2L592.0 178.7L590.0 179.3L588.0 179.7L587.5 180.0L586.0 180.3L584.0 180.9L582.0 181.4L580.0 181.9L579.8 182.0L578.0 182.1L576.0 182.3L574.0 182.5L572.0 182.6L570.0 182.8L568.0 183.0L566.0 183.1L564.0 183.3L562.0 183.5L560.0 183.6L558.0 183.8L556.0 184.0L555.9 184.0L554.0 184.2L552.0 184.5L550.0 184.7L548.0 185.0L546.0 185.2L544.0 185.5L542.0 185.7L540.0 186.0L540.0 186.0L538.0 186.7L536.0 187.3L534.0 188.0L534.0 188.0L532.0 188.7L530.0 189.3L528.0 190.0L526.0 190.0L524.0 190.0L522.0 190.0L520.0 190.0L518.0 190.0L516.0 190.0L514.0 190.0L512.0 190.0L510.0 190.0L508.0 190.0L506.0 189.7L504.0 189.5L502.0 189.2L500.0 189.0L498.0 188.7L496.0 188.5L494.0 188.2L492.0 188.1L490.7 190.0L490.0 190.9L489.5 192.0L488.0 194.0L486.0 192.4L485.4 192.0L484.0 190.8L483.1 190.0L482.6 188.0L482.3 186.0L482.0 184.6L481.9 184.0L481.5 182.0L481.2 180.0L480.5 178.0L480.0 177.0L479.5 176.0L478.6 174.0L478.0 173.3L476.8 174.0L476.0 175.1L474.9 176.0L474.0 177.4L473.2 178.0L472.3 180.0L472.0 180.4L470.5 180.0L470.0 179.6L469.6 178.0L468.6 176.0L468.0 175.2L466.0 174.0L466.0 174.0L464.0 173.0L462.0 172.0L460.0 173.6L459.5 174.0L458.0 175.3L457.2 176.0L456.0 177.0L454.2 178.0L454.0 178.1L452.0 179.2L450.6 180.0L450.0 180.4L448.0 181.6L446.0 181.8L444.0 181.0L442.0 180.3L441.0 180.0L440.0 179.7L438.0 179.0L436.0 179.2L434.0 179.4L432.0 179.6L430.0 179.8L428.0 180.0L428.0 180.0L426.0 181.0L424.0 181.9L423.9 182.0L422.0 183.0L420.0 184.0L419.9 184.0L418.0 185.0L416.2 186.0L416.0 186.2L414.0 187.4L412.9 188.0L412.0 188.6L410.0 189.8L409.6 190.0L408.0 191.0L406.6 192.0L406.0 192.5L404.0 194.0L404.0 194.0L402.0 195.6L401.5 196.0L400.0 197.2L398.9 198.0L398.0 198.7L396.2 200.0L396.0 200.2L394.0 201.6L393.4 202.0L392.0 203.0L390.5 204.0L390.0 204.4L388.0 205.7L387.6 206.0L386.0 207.2L384.8 208.0L384.0 208.6L382.0 209.9L381.7 210.0L380.0 211.3L378.9 212.0L378.0 212.7L376.0 213.8L375.6 214.0L374.0 215.0L372.1 216.0L372.0 216.1L370.0 217.3L368.6 218.0L368.0 218.4L366.0 219.6L365.1 220.0L364.0 220.7L362.0 221.8L361.3 222.0L360.0 222.5L358.0 223.3L356.0 224.0L356.0 224.0L354.0 224.8L352.0 225.6L350.8 226.0L350.0 226.4L348.0 227.1L346.0 227.9L345.6 228.0L344.0 228.6L342.0 229.6L341.6 230.0L340.0 231.5L339.5 232.0L338.0 233.5L337.4 234.0L336.0 235.4L335.3 236.0L334.0 237.3L333.2 238.0L332.0 239.2L331.1 240.0L330.0 241.1L329.1 242.0L328.0 243.0L327.1 244.0L326.7 246.0L326.4 248.0L326.0 250.0L326.0 250.0L325.7 252.0L325.3 254.0L325.0 256.0L324.7 258.0L324.4 260.0L324.0 262.0L324.0 262.0L323.3 264.0L322.6 266.0L322.0 267.5L321.9 268.0L321.1 270.0L320.5 272.0L320.0 273.1L319.7 274.0L319.0 276.0L318.3 278.0L318.0 278.7L317.6 280.0L316.8 282.0L316.2 284.0L316.0 284.3L315.4 286.0L314.7 288.0L314.0 290.0L314.0 290.0L313.1 292.0L312.2 294.0L312.0 294.3L311.3 296.0L310.4 298.0L310.0 298.7L309.5 300.0L308.6 302.0L308.0 303.2L307.7 304.0L306.8 306.0L306.0 307.7L305.9 308.0L305.0 310.0L304.0 311.4L303.6 312.0L302.3 314.0L302.0 314.4L301.0 316.0L300.0 317.4L299.7 318.0L298.3 320.0L298.0 320.4L297.0 322.0L296.0 323.4L295.6 324.0L294.3 326.0L294.0 326.5L293.1 328.0L292.0 329.6L291.8 330.0L290.6 332.0L290.0 332.8L289.3 334.0L288.0 335.9L288.0 336.0L286.8 338.0L286.0 339.1L285.5 340.0L284.2 342.0L284.0 342.3L283.0 344.0L282.3 346.0L282.0 346.5L281.5 348.0L280.7 350.0L280.0 351.8L280.0 352.0L279.2 354.0L278.6 356.0L278.0 357.1L277.8 358.0L277.0 360.0L276.2 362.0L276.0 362.2L275.4 364.0L274.6 366.0L274.0 367.1L273.8 368.0L272.9 370.0L272.1 372.0L272.0 372.1L271.3 374.0L270.5 376.0L270.0 376.9L269.7 378.0L268.8 380.0L268.0 381.9L268.0 382.0L266.7 384.0L266.0 384.9L265.3 386.0L264.0 387.9L263.9 388.0L262.7 390.0L262.0 390.9L261.3 392.0L260.0 393.9L260.0 394.0L258.7 396.0L258.0 396.8L257.3 398.0L256.1 400.0L258.0 400.7L260.0 401.3L262.0 402.0L264.0 400.9L265.7 400.0L266.0 399.7L268.0 398.6L269.3 398.0L270.0 397.5L272.0 396.4L272.9 396.0L274.0 395.3L276.0 394.2L276.5 394.0L278.0 393.1L280.0 392.0L280.1 392.0L282.0 391.3L284.0 390.6L285.7 390.0L286.0 389.8L288.0 389.1L290.0 388.4L291.3 388.0L292.0 387.7L294.0 387.0L296.0 386.3L296.9 386.0L298.0 385.6L300.0 384.9L302.0 384.1L302.4 384.0L304.0 383.4L306.0 382.7L308.0 382.0L308.0 382.0L310.0 380.6L310.9 380.0L312.0 379.2L313.7 378.0L314.0 377.8L316.0 376.4L316.6 376.0L318.0 375.0L319.4 374.0L320.0 373.6L322.0 372.2L322.3 372.0L324.0 370.8L325.1 370.0L326.0 369.4L328.0 368.0L328.0 368.0L330.0 366.0L330.0 366.0L332.0 364.0L332.0 364.0L334.0 362.0L334.0 362.0L336.0 360.0L336.0 360.0L337.9 358.0L338.0 358.0L339.9 356.0L340.0 355.9L341.9 354.0L342.0 353.9L344.0 352.0L344.0 352.0L346.0 351.0L347.8 350.0L348.0 349.9L350.0 349.7L350.0 350.0L350.0 350.4L349.3 352.0L348.9 354.0L348.4 356.0L348.0 358.0L348.0 358.0L346.3 360.0L346.0 360.4L344.6 362.0L344.0 362.7L342.8 364.0L342.0 365.0L341.1 366.0L340.0 367.4L339.4 368.0L338.0 369.8L337.8 370.0L336.1 372.0L336.0 372.1L334.3 374.0L334.0 374.3L332.5 376.0L332.0 376.6L330.6 378.0L330.0 378.7L328.8 380.0L328.0 381.0L327.0 382.0L326.0 383.2L325.2 384.0L324.0 385.4L323.4 386.0L322.0 387.7L321.7 388.0L320.0 390.0L320.0 390.0L318.1 392.0L318.0 392.1L316.6 394.0L316.0 394.9L315.1 396.0L314.0 397.8L313.8 398.0L312.3 400.0L312.0 400.5L310.9 402.0L310.0 403.3L309.5 404.0L308.1 406.0L308.0 406.1L306.6 408.0L306.0 408.9L305.1 410.0L304.0 411.7L303.8 412.0L302.3 414.0L302.0 414.5L300.8 416.0L300.0 417.3L299.4 418.0L298.0 420.0L298.0 420.2L297.5 422.0L297.2 424.0L296.7 426.0L296.3 428.0L296.0 429.8L295.9 430.0L295.5 432.0L295.1 434.0L294.6 436.0L294.0 437.5L293.6 438.0L292.5 440.0L292.0 441.1L291.4 442.0L290.3 444.0L290.0 444.7L289.2 446.0L288.2 448.0L288.0 448.4L287.0 450.0L286.0 452.0L286.0 452.1L284.8 454.0L284.0 455.7L283.7 456.0L282.6 458.0L282.0 459.3L281.5 460.0L280.4 462.0L280.0 462.9L279.3 464.0L278.2 466.0L278.0 466.5L277.1 468.0L276.1 470.0L276.0 470.1L274.9 472.0L274.0 473.7L273.8 474.0L272.6 476.0L272.0 477.3L271.5 478.0L270.4 480.0L270.0 480.9L269.4 482.0L268.3 484.0L268.0 484.8L267.3 486.0L266.3 488.0L266.0 488.6L265.2 490.0L264.2 492.0L264.0 492.4L263.1 494.0L262.1 496.0L262.0 496.3L261.1 498.0L260.1 500.0L260.0 500.2L259.0 502.0L258.0 504.0L258.0 504.1L256.9 506.0L256.0 507.6L255.7 508.0L254.4 510.0L254.0 510.7L253.1 512.0L252.0 513.9L251.9 514.0L250.6 516.0L250.0 517.0L249.3 518.0L248.2 520.0L248.0 520.3L246.8 522.0L246.0 523.4L245.6 524.0L244.3 526.0L244.0 526.6L243.0 528.0L242.0 529.8L241.8 530.0L240.5 532.0L240.0 532.9L239.3 534.0L238.0 536.0L238.0 536.1L237.2 538.0L236.3 540.0L236.0 540.9L235.4 542.0L234.6 544.0L234.0 545.6L233.7 546.0L232.9 548.0L232.1 550.0L232.0 550.3L231.2 552.0L230.4 554.0L230.0 555.1L229.5 556.0L228.7 558.0L228.0 559.8L227.9 560.0L227.0 562.0L226.2 564.0L226.0 564.5L225.3 566.0L224.5 568.0L224.0 569.2L223.6 570.0L222.8 572.0L222.0 573.9L221.9 574.0L221.1 576.0L220.2 578.0L220.0 578.6L219.4 580.0L218.5 582.0L218.0 583.3L217.7 584.0L216.8 586.0L216.0 588.0L216.0 588.0L215.6 590.0L215.1 592.0L214.7 594.0L214.3 596.0L214.0 597.4L213.9 598.0L213.4 600.0L213.0 602.0L212.6 604.0L212.1 606.0L212.0 606.7L211.7 608.0L211.3 610.0L210.9 612.0L210.4 614.0L210.0 616.0L210.0 616.0L208.0 616.0L206.0 616.0L204.0 616.0L202.0 616.0L200.0 616.0L198.0 616.0L196.0 616.0L194.0 616.0L192.0 616.0L190.0 616.0L188.0 616.0L189.3 614.0L190.0 613.2L190.7 612.0L192.0 610.1L192.0 610.0L193.3 608.0L194.0 607.2L194.7 606.0L196.0 604.1L196.0 604.0L196.9 602.0L197.7 600.0L198.0 599.6L198.6 598.0L199.5 596.0L200.0 595.1L200.3 594.0L201.3 592.0L202.0 590.5L202.1 590.0L203.0 588.0L204.0 586.0L204.0 586.0L204.8 584.0L205.5 582.0L206.0 581.4L206.5 580.0L207.2 578.0L208.0 577.0L208.2 576.0L209.4 574.0L208.0 573.7L207.7 574.0L206.9 576.0L206.0 576.7L205.0 578.0L204.0 579.4L203.4 580.0L202.0 581.8L201.8 582.0L200.2 584.0L200.0 584.2L198.5 586.0L198.0 586.7L196.9 588.0L196.0 589.2L195.2 590.0L194.0 591.6L193.6 592.0L192.0 594.0L192.0 594.0L190.0 594.7L188.0 595.3L186.0 596.0L186.0 596.0L184.0 596.7L182.0 597.3L180.0 598.0L180.0 598.0L178.0 598.7L176.0 599.3L174.0 600.0L172.0 599.7L170.0 599.4L168.0 599.1L166.0 598.8L164.0 598.5L162.0 598.1L160.9 598.0L160.0 597.8L158.0 597.5L156.0 597.2L154.0 596.9L152.0 596.6L150.0 596.3L148.2 596.0L148.0 595.9L147.1 594.0L146.4 592.0L146.0 591.4L145.5 590.0L144.7 588.0L144.0 586.6L143.8 586.0L143.0 584.0L142.2 582.0L142.0 581.8L141.3 580.0L140.5 578.0L140.0 577.0L139.7 576.0L138.8 574.0L138.1 572.0L138.2 570.0L138.3 568.0L138.4 566.0L138.4 564.0L138.5 562.0L138.6 560.0L138.7 558.0L138.7 556.0L138.8 554.0L138.9 552.0L139.0 550.0L139.1 548.0L139.2 546.0L139.2 544.0L139.3 542.0L139.4 540.0L139.5 538.0L139.6 536.0L139.7 534.0L139.8 532.0L139.8 530.0L139.9 528.0L140.0 526.9L142.0 526.6L144.0 527.1L146.0 527.6L148.0 527.9L148.9 526.0L149.9 524.0L150.0 523.8L151.0 522.0L151.9 520.0L152.0 519.8L153.0 518.0L154.0 516.0L154.0 515.9L155.4 514.0L156.0 513.1L156.8 512.0L158.0 510.2L158.1 510.0L159.6 508.0L160.0 507.3L161.0 506.0L162.0 504.5L162.4 504.0L163.8 502.0L164.0 501.6L165.2 500.0L166.0 498.8L166.6 498.0L168.0 496.0L168.0 495.9L169.4 494.0L170.0 493.1L170.8 492.0L172.0 490.2L172.1 490.0L173.6 488.0L174.0 487.3L175.0 486.0L176.0 484.5L176.4 484.0L177.8 482.0L178.0 481.6L179.2 480.0L180.0 478.8L180.6 478.0L182.0 476.0L182.0 475.9L183.0 474.0L183.9 472.0L184.0 471.8L185.0 470.0L186.0 468.0L186.0 467.9L187.0 466.0L187.9 464.0L188.0 463.8L189.0 462.0L189.9 460.0L190.0 459.8L191.0 458.0L192.0 456.0L192.0 455.9L193.0 454.0L193.9 452.0L194.0 451.8L195.0 450.0L196.0 448.0L196.0 447.9L197.3 446.0L198.0 444.9L198.7 444.0L200.0 442.0L200.0 441.9L201.3 440.0L202.0 438.9L202.7 438.0L204.0 436.0L204.0 435.9L205.3 434.0L206.0 432.9L206.7 432.0L208.0 430.0L208.0 429.9L209.3 428.0L210.0 426.9L210.7 426.0L212.0 424.0L212.0 423.9L213.0 422.0L214.0 420.0L214.0 419.9L215.0 418.0L216.0 416.0L216.0 415.9L217.0 414.0L218.0 412.0L218.0 411.9L219.0 410.0L220.0 408.0L220.0 407.9L221.0 406.0L222.0 404.0L222.0 403.9L223.0 402.0L224.0 400.0L224.0 399.9L225.0 398.0L226.0 396.0L226.0 395.9L227.0 394.0L228.0 392.0L228.0 392.0L229.3 390.0L230.0 389.0L230.7 388.0L232.0 386.0L232.0 385.9L233.3 384.0L234.0 383.0L234.7 382.0L236.0 380.0L236.0 379.9L237.3 378.0L238.0 377.0L238.7 376.0L240.0 374.0L240.0 373.9L241.3 372.0L242.0 371.0L242.7 370.0L244.0 368.0L244.0 367.9L245.3 366.0L246.0 365.0L246.7 364.0L248.0 362.0L248.0 362.0L249.4 360.0L250.0 358.9L250.5 358.0L251.5 356.0L252.0 355.0L252.5 354.0L253.5 352.0L254.0 351.0L254.5 350.0L255.5 348.0L256.0 346.9L256.5 346.0L257.5 344.0L258.0 342.9L258.4 342.0L260.0 340.5L261.3 340.0L262.0 339.7L264.0 338.9L265.9 338.0L266.0 337.9L266.7 336.0L267.3 334.0L268.0 332.0L268.0 332.0L268.7 330.0L269.3 328.0L270.0 326.0L270.0 326.0L271.1 324.0L272.0 322.3L272.2 322.0L273.3 320.0L274.0 318.7L274.4 318.0L275.4 316.0L276.0 315.0L276.7 314.0L278.0 312.3L278.2 312.0L279.7 310.0L280.0 309.7L281.2 308.0L282.0 307.0L282.7 306.0L284.0 304.4L284.3 304.0L285.5 302.0L286.0 300.8L286.4 300.0L287.3 298.0L288.0 296.5L288.2 296.0L289.2 294.0L290.0 292.2L290.1 292.0L291.0 290.0L291.4 288.0L291.8 286.0L292.0 285.2L292.3 284.0L292.7 282.0L293.1 280.0L293.5 278.0L294.0 276.0L294.0 275.7L294.4 274.0L294.8 272.0L295.3 270.0L296.0 268.2L296.1 268.0L296.8 266.0L297.5 264.0L298.0 262.5L298.2 262.0L298.9 260.0L299.6 258.0L300.0 256.7L300.3 256.0L301.1 254.0L302.0 253.0L303.2 252.0L304.0 251.3L305.4 250.0L306.0 249.5L307.7 248.0L308.0 247.7L310.0 246.1L310.1 246.0L311.0 244.0L310.6 242.0L310.3 240.0L310.1 238.0L312.0 237.0L313.9 236.0L314.0 236.0L316.0 235.0L318.0 235.0L320.0 235.0L322.0 234.9L324.0 235.0L325.9 234.0L326.0 233.9L328.0 232.1L328.2 232.0L330.0 230.4L330.4 230.0L332.0 228.7L332.8 228.0L334.0 226.9L335.1 226.0L336.0 225.2L337.4 224.0L338.0 223.5L339.7 222.0L340.0 221.8L342.0 220.8L343.7 220.0L344.0 219.8L346.0 218.9L348.0 218.0L348.0 218.0L350.0 217.1L352.0 216.2L352.4 216.0L354.0 215.2L356.0 214.2L356.5 214.0L358.0 213.1L360.0 212.1L360.2 212.0L362.0 211.0L363.9 210.0L364.0 209.9L366.0 208.8L367.6 208.0L368.0 207.8L370.0 206.7L371.5 206.0L372.0 205.7L374.0 205.3L376.0 204.8L378.0 204.3L379.9 204.0L380.0 204.0L381.8 202.0L382.0 201.8L383.4 200.0L384.0 199.2L385.0 198.0L386.0 196.8L386.7 196.0L388.0 194.4L388.3 194.0L390.0 192.0L390.0 192.0L391.8 190.0L392.0 189.8L394.0 188.1L394.2 188.0L396.0 186.4L396.6 186.0L398.0 184.5L399.8 184.0L398.6 182.0L400.0 181.9L402.0 181.7L404.0 181.8L405.8 182.0L406.0 182.0L406.1 182.0L408.0 181.5L410.0 181.2L412.0 180.6L414.0 180.0L414.8 180.0L416.0 178.9L416.5 178.0L418.0 177.8L420.0 176.5L421.0 176.0L422.0 175.5L424.0 174.4L424.6 174.0L426.0 173.1L427.8 172.0L428.0 171.9L430.0 170.6L430.9 170.0L432.0 169.2L433.4 168.0L434.0 167.6L436.0 166.0L438.0 166.2L440.0 166.4L442.0 166.5L444.0 166.7L446.0 166.9L448.0 167.0L450.0 166.5L452.0 166.0L452.0 166.0L454.0 165.5L456.0 165.0L458.0 164.5L460.0 164.0L460.0 164.0L462.0 163.5L464.0 163.0L466.0 162.5L468.0 162.0L470.0 162.0L472.0 162.0L474.0 162.0L476.0 162.0L478.0 162.0L480.0 162.0L482.0 162.0L484.0 162.0L486.0 162.0L488.0 162.0L490.0 162.6L492.0 163.2L494.0 163.8L494.7 164.0L496.0 164.4L498.0 165.0L500.0 165.6L501.3 166.0L502.0 166.2L504.0 166.8L506.0 167.4L508.0 168.0L508.0 168.0L510.0 168.7L512.0 169.4L513.5 170.0L514.0 170.1L516.0 170.9L518.0 171.5L519.0 172.0L520.0 172.3L522.0 173.0L524.0 173.5L525.0 174.0L526.0 174.2L528.0 174.8L530.0 175.4L532.0 175.9L533.2 174.0L534.0 172.6L534.3 172.0L535.4 170.0L536.0 169.0L536.6 168.0L537.7 166.0L538.0 165.6L538.9 164.0L540.0 162.0L539.2 160.0L538.5 158.0L538.0 156.5L537.7 156.0L537.0 154.0L536.2 152.0L536.0 151.3L535.5 150.0L534.7 148.0L534.3 146.0L536.0 145.6L538.0 145.2L540.0 144.8L542.0 144.5L543.7 144.0L542.0 142.2L541.8 142.0L540.0 140.8L539.0 140.0L538.0 139.2L536.5 138.0L536.0 137.7L534.1 136.0L535.6 134.0L536.0 133.4L537.2 132.0L538.0 131.0L538.8 130.0L540.0 128.5L540.4 128.0L542.0 126.0L542.0 126.0L544.0 124.5L544.6 124.0L546.0 123.0L547.3 122.0L548.0 121.5L550.0 120.0L550.0 120.0L552.0 118.5L552.6 118.0L554.0 117.0L555.3 116.0L556.0 115.5L558.0 114.0L558.0 114.0L560.0 113.0L562.0 112.0L562.0 112.0L564.0 111.0L566.0 110.0L566.0 110.0L568.0 109.0L570.0 108.0L570.0 108.0L572.0 107.0L573.9 106.0L574.0 105.9L576.0 104.4L577.2 104.0L578.0 103.4L579.5 102.0L580.0 101.9L580.9 102.0L582.0 102.1L583.3 102.0L583.1 100.0L584.0 99.9L584.7 100.0L586.0 100.5L587.9 100.0L588.0 98.4L588.0 98.0L590.0 97.0L592.0 96.0L592.0 96.0L594.0 95.0L596.0 94.0L596.0 94.0L598.0 92.4L598.5 92.0L600.0 90.8L601.0 90.0L602.0 89.2L603.5 88.0L604.0 87.6L605.9 86.0L606.0 86.0L608.0 84.4L608.5 84.0L610.0 82.8L611.0 82.0L612.0 81.2L613.5 80.0L614.0 79.6L616.0 78.0L616.0 78.0L618.0 77.4L620.0 76.8L622.0 76.1L622.3 76.0L624.0 75.5L626.0 74.9L628.0 74.3L628.8 74.0L630.0 73.6L632.0 73.0L634.0 73.1L636.0 73.2L638.0 73.4L640.0 73.5L642.0 73.6L644.0 73.7L646.0 73.9L647.6 74.0L648.0 74.0L650.0 75.5L650.6 76.0L652.0 77.0L653.3 78.0L654.0 78.5L655.9 80.0L656.0 80.1L656.8 82.0L657.6 84.0L658.0 85.1L658.4 86.0L659.2 88.0L660.0 90.0L660.0 90.0L662.0 91.5L662.5 92.0L664.0 92.9L666.0 92.8L668.0 92.7L670.0 92.6L672.0 92.5L674.0 92.4L676.0 92.2L678.0 92.1L679.7 92.0L680.0 91.8L682.0 91.7L684.0 91.6L686.0 91.5L688.0 91.4L690.0 91.3L692.0 91.2L694.0 91.1L696.0 91.0L698.0 91.1L700.0 91.2L702.0 91.3L704.0 91.4L706.0 91.5L708.0 91.6L710.0 91.7L712.0 92.0L712.0 92.0L714.0 92.5L716.0 93.1L718.0 93.6L718.7 94.0L720.0 94.2L722.0 94.8L724.0 95.4L726.0 95.8L726.8 94.0L727.6 92.0L728.0 91.0L728.4 90.0L729.2 88.0L730.0 86.0L729.3 84.0L728.6 82.0L728.0 80.0L728.0 80.0L727.3 78.0L726.7 76.0L726.0 74.0L726.0 74.0L725.3 72.0L724.7 70.0L724.0 68.0L724.7 66.0L725.4 64.0L726.0 62.0L726.0 62.0L726.7 60.0L727.4 58.0ZM400.3 184.0L402.0 184.1L403.2 184.0L402.0 183.3Z"/><path fill="#cd364d" fill-rule="evenodd" d="M632.0 113.7L634.0 113.2L636.0 112.6L638.0 112.1L640.0 112.5L642.0 113.0L644.0 113.5L646.0 114.0L646.0 114.0L647.6 116.0L648.0 116.6L649.0 118.0L650.0 119.3L650.5 120.0L652.0 122.0L652.0 122.0L652.8 124.0L653.6 126.0L654.0 127.0L654.4 128.0L655.2 130.0L656.0 132.0L656.0 132.0L657.8 134.0L658.0 134.1L659.8 136.0L660.0 136.1L662.0 138.0L662.1 138.0L664.0 138.2L666.0 138.4L668.0 138.6L670.0 138.9L672.0 139.1L674.0 139.3L676.0 139.5L678.0 139.7L680.0 139.9L682.0 138.1L682.2 138.0L684.0 136.1L684.2 136.0L686.0 134.1L686.1 134.0L688.0 132.0L688.0 132.0L690.0 130.1L690.1 130.0L692.0 128.0L692.0 128.0L694.0 126.0L694.0 126.0L696.0 124.0L696.1 124.0L698.0 123.6L700.0 123.2L702.0 122.8L704.0 122.4L706.0 122.0L706.0 122.0L708.0 121.6L710.0 121.2L712.0 120.8L714.0 120.4L716.0 120.0L718.0 120.7L720.0 121.3L722.0 122.0L722.0 122.0L724.0 122.7L726.0 123.3L728.0 124.0L730.0 123.5L732.0 123.0L734.0 122.5L736.0 122.0L736.0 124.0L736.0 126.0L736.0 128.0L736.0 130.0L736.0 132.0L736.0 134.0L736.0 136.0L736.0 138.0L736.0 140.0L736.0 142.0L736.0 144.0L736.0 146.0L736.0 146.0L734.0 146.4L732.0 146.8L730.0 147.2L728.0 147.6L726.0 148.0L726.0 148.0L724.0 148.4L722.0 148.8L720.0 149.2L718.0 149.6L716.0 150.0L716.0 150.0L714.0 150.4L712.0 150.8L710.0 151.2L708.0 151.6L706.0 152.0L706.0 152.0L704.0 152.4L702.0 152.8L700.0 153.2L698.0 153.6L696.0 154.0L694.0 153.6L692.0 153.2L690.0 152.8L688.0 152.4L686.0 152.0L686.0 152.0L684.0 151.6L682.0 151.2L680.0 150.8L678.0 150.4L676.0 150.0L675.9 150.0L674.0 149.8L672.0 149.6L670.0 149.3L668.0 149.1L666.0 148.9L664.0 148.7L662.0 148.5L660.0 148.2L658.0 148.0L656.0 149.3L654.7 150.0L654.0 150.5L652.0 151.7L651.4 152.0L650.0 152.9L648.1 154.0L648.0 154.1L646.0 155.3L644.7 156.0L644.0 156.4L642.0 157.9L641.9 158.0L640.6 160.0L640.0 160.8L639.2 162.0L638.0 163.7L637.8 164.0L636.4 166.0L636.0 166.6L635.0 168.0L634.0 169.4L633.6 170.0L632.2 172.0L632.0 172.4L630.1 174.0L630.0 174.0L628.0 175.1L626.6 176.0L626.0 176.3L624.0 177.6L622.8 178.0L622.0 178.2L620.0 178.7L618.0 179.2L616.0 179.7L615.0 180.0L614.0 180.2L612.0 180.7L610.0 181.5L609.0 182.0L608.0 182.5L606.0 183.5L605.0 184.0L604.0 184.5L602.0 185.5L600.9 186.0L600.0 186.5L598.0 187.5L596.9 188.0L596.0 188.5L594.0 189.5L592.9 190.0L592.0 190.5L590.0 191.5L588.9 192.0L588.0 192.5L586.0 193.5L585.0 194.0L584.0 194.5L582.0 195.5L581.0 196.0L580.0 196.5L578.0 197.1L576.0 197.6L574.8 198.0L574.0 198.2L572.0 198.7L570.0 199.3L568.0 199.8L567.3 200.0L566.0 200.3L564.0 200.9L562.0 201.4L560.0 201.9L559.8 202.0L558.0 202.5L556.0 203.0L554.0 203.1L552.0 203.1L550.0 203.2L548.0 203.3L546.0 203.3L544.0 203.4L542.0 203.5L540.0 203.6L538.0 203.6L536.0 203.7L534.0 203.8L532.0 203.8L530.0 203.9L528.0 204.0L526.0 204.0L524.0 204.0L522.0 204.0L520.0 204.0L518.0 204.0L516.0 204.0L514.0 204.0L512.0 204.0L511.2 204.0L510.0 204.0L509.8 204.0L508.0 204.0L506.0 203.7L504.0 203.4L502.0 203.1L500.0 202.8L498.0 202.5L496.0 202.2L494.8 202.0L494.0 201.9L492.0 201.6L490.0 201.3L488.0 201.1L486.2 202.0L486.0 202.2L484.0 203.5L482.7 204.0L482.0 204.3L480.0 204.6L478.0 205.0L476.0 205.4L474.0 205.9L472.0 205.7L470.0 204.8L468.0 204.0L468.0 204.0L466.3 202.0L466.0 201.4L464.5 200.0L464.5 198.0L466.0 196.7L466.3 196.0L468.0 194.0L466.2 192.0L466.0 191.8L464.0 190.0L462.0 190.3L460.0 190.5L458.0 190.7L456.0 190.8L454.0 191.1L452.2 192.0L452.0 192.2L450.0 193.3L448.7 194.0L448.0 194.5L446.0 195.7L445.3 196.0L444.0 196.8L442.0 198.0L441.9 198.0L440.0 198.8L438.0 199.7L437.0 200.0L436.0 200.5L434.0 201.3L432.2 202.0L432.0 202.1L430.0 203.1L429.0 204.0L428.0 205.3L427.3 206.0L426.0 207.5L425.5 208.0L424.0 209.7L423.7 210.0L422.0 212.0L422.0 212.0L421.0 214.0L420.0 215.9L420.0 216.0L419.0 218.0L418.0 220.0L418.0 220.0L417.6 222.0L417.2 224.0L416.8 226.0L416.4 228.0L416.0 229.9L416.0 230.0L414.0 231.9L413.9 232.0L412.0 234.0L412.0 234.0L410.0 235.7L409.6 236.0L408.0 237.5L407.4 238.0L406.0 239.2L405.1 240.0L404.0 241.0L402.0 241.9L401.8 242.0L400.0 243.0L398.0 243.9L397.8 244.0L396.0 245.0L394.0 246.0L394.0 246.0L392.5 248.0L392.0 248.7L391.1 250.0L390.0 251.5L389.7 252.0L388.2 254.0L388.0 254.3L386.9 256.0L386.0 257.1L385.4 258.0L384.0 259.8L383.9 260.0L382.6 262.0L382.0 262.7L381.2 264.0L380.0 265.4L379.5 266.0L380.0 267.5L382.0 267.2L384.0 267.4L386.0 267.6L388.0 267.8L390.0 267.9L392.0 266.7L393.1 266.0L394.0 265.3L396.0 264.0L396.0 264.0L398.0 262.7L399.1 262.0L400.0 261.3L402.0 260.0L402.0 260.0L404.0 259.2L406.0 258.4L406.9 258.0L408.0 257.6L410.0 256.8L412.0 256.0L413.6 258.0L414.0 258.4L415.2 260.0L416.0 261.0L416.8 262.0L418.0 263.5L418.4 264.0L420.0 265.9L422.0 265.6L424.0 265.2L426.0 264.8L428.0 264.4L430.0 264.2L430.6 266.0L431.1 268.0L431.6 270.0L432.0 270.7L432.2 272.0L432.8 274.0L433.4 276.0L433.9 278.0L432.0 279.3L431.1 280.0L430.0 281.8L429.9 282.0L428.6 284.0L428.0 284.8L427.3 286.0L426.0 288.0L426.0 288.0L424.0 288.6L422.0 289.3L420.0 289.9L418.0 289.2L416.0 288.3L414.8 288.0L414.0 287.4L412.0 286.4L410.8 286.0L410.0 285.2L408.0 285.2L406.0 286.0L406.0 286.0L404.0 286.7L402.0 287.3L400.2 288.0L400.0 288.1L398.7 290.0L398.0 290.9L397.0 292.0L396.0 292.8L394.6 294.0L394.0 294.5L392.4 296.0L392.0 296.3L390.1 298.0L390.0 298.1L388.4 300.0L388.0 300.5L386.6 302.0L386.0 302.8L385.0 304.0L384.0 305.2L383.3 306.0L382.0 307.7L381.7 308.0L380.1 310.0L380.0 310.1L378.7 312.0L378.0 313.1L377.3 314.0L376.1 316.0L376.0 316.1L374.7 318.0L374.0 319.1L373.3 320.0L372.1 322.0L372.0 322.2L370.6 324.0L370.0 325.2L369.6 326.0L368.8 328.0L368.0 330.0L368.0 330.1L367.2 332.0L366.4 334.0L366.0 335.1L365.6 336.0L364.8 338.0L364.0 340.0L364.0 340.1L363.2 342.0L362.4 344.0L362.0 345.1L361.6 346.0L360.8 348.0L360.0 350.0L360.0 350.0L359.3 352.0L358.7 354.0L358.0 356.0L358.0 356.0L357.3 358.0L356.7 360.0L356.0 362.0L356.0 362.0L355.3 364.0L354.7 366.0L354.0 368.0L354.0 368.0L353.1 370.0L352.2 372.0L352.0 372.5L351.2 374.0L350.3 376.0L350.0 376.9L349.4 378.0L348.5 380.0L348.0 381.3L347.6 382.0L346.7 384.0L346.0 385.6L345.8 386.0L344.9 388.0L344.0 390.0L344.0 390.0L342.2 392.0L342.0 392.2L340.4 394.0L340.0 394.4L338.5 396.0L338.0 396.6L336.7 398.0L336.0 398.8L334.9 400.0L334.0 401.0L333.1 402.0L332.0 403.2L331.3 404.0L330.0 405.4L329.5 406.0L328.0 407.6L327.6 408.0L326.0 409.8L325.8 410.0L324.0 412.0L324.0 412.0L322.5 414.0L322.0 414.6L321.0 416.0L320.0 417.3L319.5 418.0L318.0 419.9L317.9 420.0L316.4 422.0L316.0 422.5L314.9 424.0L314.0 425.2L313.4 426.0L312.0 427.8L311.9 428.0L310.4 430.0L310.0 430.5L308.8 432.0L308.0 433.1L307.3 434.0L306.0 435.7L305.8 436.0L304.5 438.0L304.0 438.8L303.2 440.0L302.0 441.9L302.0 442.0L300.7 444.0L300.0 445.1L299.4 446.0L298.1 448.0L298.0 448.2L296.9 450.0L296.0 451.3L295.6 452.0L294.3 454.0L294.0 454.4L293.0 456.0L292.0 457.5L291.7 458.0L290.4 460.0L290.0 461.0L289.7 462.0L289.0 464.0L288.4 466.0L288.0 467.1L287.8 468.0L287.3 470.0L286.8 472.0L286.3 474.0L286.0 475.2L285.8 476.0L285.3 478.0L284.8 480.0L284.0 481.5L283.7 482.0L282.4 484.0L282.0 484.6L281.0 486.0L280.0 487.6L279.8 488.0L278.4 490.0L278.0 490.7L277.1 492.0L276.0 493.8L275.8 494.0L274.5 496.0L274.0 496.8L273.2 498.0L272.0 499.9L271.9 500.0L270.6 502.0L270.0 502.9L269.3 504.0L268.0 506.0L268.0 506.0L266.7 508.0L266.0 509.0L265.3 510.0L264.0 512.0L264.0 512.0L262.7 514.0L262.0 515.0L261.3 516.0L260.0 518.0L260.0 518.0L258.7 520.0L258.0 521.0L257.3 522.0L256.0 524.0L256.0 524.0L254.7 526.0L254.0 527.0L253.3 528.0L252.0 530.0L252.0 530.0L250.7 532.0L250.0 533.0L249.3 534.0L248.0 536.0L248.0 536.0L246.7 538.0L246.0 539.0L245.3 540.0L244.0 542.0L244.0 542.0L243.1 544.0L242.1 546.0L242.0 546.2L241.2 548.0L240.2 550.0L240.0 550.5L239.3 552.0L238.4 554.0L238.0 554.7L237.4 556.0L236.5 558.0L236.0 559.0L235.5 560.0L234.6 562.0L234.0 563.2L233.7 564.0L232.7 566.0L232.0 567.5L231.8 568.0L230.8 570.0L230.0 571.7L229.9 572.0L228.9 574.0L228.0 576.0L228.0 576.0L227.7 578.0L227.4 580.0L227.1 582.0L226.8 584.0L226.5 586.0L226.2 588.0L226.0 589.4L225.9 590.0L225.6 592.0L225.3 594.0L225.0 596.0L224.7 598.0L224.4 600.0L224.1 602.0L224.0 602.8L223.8 604.0L223.5 606.0L223.2 608.0L222.9 610.0L222.6 612.0L222.3 614.0L222.0 615.9L222.0 616.0L220.0 616.0L218.0 616.0L216.0 616.0L214.0 616.0L212.0 616.0L210.0 616.0L210.4 614.0L210.9 612.0L211.3 610.0L211.7 608.0L212.0 606.7L212.1 606.0L212.6 604.0L213.0 602.0L213.4 600.0L213.9 598.0L214.0 597.4L214.3 596.0L214.7 594.0L215.1 592.0L215.6 590.0L216.0 588.0L216.0 588.0L216.8 586.0L217.7 584.0L218.0 583.3L218.5 582.0L219.4 580.0L220.0 578.6L220.2 578.0L221.1 576.0L221.9 574.0L222.0 573.9L222.8 572.0L223.6 570.0L224.0 569.2L224.5 568.0L225.3 566.0L226.0 564.5L226.2 564.0L227.0 562.0L227.9 560.0L228.0 559.8L228.7 558.0L229.5 556.0L230.0 555.1L230.4 554.0L231.2 552.0L232.0 550.3L232.1 550.0L232.9 548.0L233.7 546.0L234.0 545.6L234.6 544.0L235.4 542.0L236.0 540.9L236.3 540.0L237.2 538.0L238.0 536.1L238.0 536.0L239.3 534.0L240.0 532.9L240.5 532.0L241.8 530.0L242.0 529.8L243.0 528.0L244.0 526.6L244.3 526.0L245.6 524.0L246.0 523.4L246.8 522.0L248.0 520.3L248.2 520.0L249.3 518.0L250.0 517.0L250.6 516.0L251.9 514.0L252.0 513.9L253.1 512.0L254.0 510.7L254.4 510.0L255.7 508.0L256.0 507.6L256.9 506.0L258.0 504.1L258.0 504.0L259.0 502.0L260.0 500.2L260.1 500.0L261.1 498.0L262.0 496.3L262.1 496.0L263.1 494.0L264.0 492.4L264.2 492.0L265.2 490.0L266.0 488.6L266.3 488.0L267.3 486.0L268.0 484.8L268.3 484.0L269.4 482.0L270.0 480.9L270.4 480.0L271.5 478.0L272.0 477.3L272.6 476.0L273.8 474.0L274.0 473.7L274.9 472.0L276.0 470.1L276.1 470.0L277.1 468.0L278.0 466.5L278.2 466.0L279.3 464.0L280.0 462.9L280.4 462.0L281.5 460.0L282.0 459.3L282.6 458.0L283.7 456.0L284.0 455.7L284.8 454.0L286.0 452.1L286.0 452.0L287.0 450.0L288.0 448.4L288.2 448.0L289.2 446.0L290.0 444.7L290.3 444.0L291.4 442.0L292.0 441.1L292.5 440.0L293.6 438.0L294.0 437.5L294.6 436.0L295.1 434.0L295.5 432.0L295.9 430.0L296.0 429.8L296.3 428.0L296.7 426.0L297.2 424.0L297.5 422.0L298.0 420.2L298.0 420.0L299.4 418.0L300.0 417.3L300.8 416.0L302.0 414.5L302.3 414.0L303.8 412.0L304.0 411.7L305.1 410.0L306.0 408.9L306.6 408.0L308.0 406.1L308.1 406.0L309.5 404.0L310.0 403.3L310.9 402.0L312.0 400.5L312.3 400.0L313.8 398.0L314.0 397.8L315.1 396.0L316.0 394.9L316.6 394.0L318.0 392.1L318.1 392.0L320.0 390.0L320.0 390.0L321.7 388.0L322.0 387.7L323.4 386.0L324.0 385.4L325.2 384.0L326.0 383.2L327.0 382.0L328.0 381.0L328.8 380.0L330.0 378.7L330.6 378.0L332.0 376.6L332.5 376.0L334.0 374.3L334.3 374.0L336.0 372.1L336.1 372.0L337.8 370.0L338.0 369.8L339.4 368.0L340.0 367.4L341.1 366.0L342.0 365.0L342.8 364.0L344.0 362.7L344.6 362.0L346.0 360.4L346.3 360.0L348.0 358.0L348.0 358.0L348.4 356.0L348.9 354.0L349.3 352.0L350.0 350.4L350.0 350.0L350.0 349.7L348.0 349.9L347.8 350.0L346.0 351.0L344.0 352.0L344.0 352.0L342.0 353.9L341.9 354.0L340.0 355.9L339.9 356.0L338.0 358.0L337.9 358.0L336.0 360.0L336.0 360.0L334.0 362.0L334.0 362.0L332.0 364.0L332.0 364.0L330.0 366.0L330.0 366.0L328.0 368.0L328.0 368.0L326.0 369.4L325.1 370.0L324.0 370.8L322.3 372.0L322.0 372.2L320.0 373.6L319.4 374.0L318.0 375.0L316.6 376.0L316.0 376.4L314.0 377.8L313.7 378.0L312.0 379.2L310.9 380.0L310.0 380.6L308.0 382.0L308.0 382.0L306.0 382.7L304.0 383.4L302.4 384.0L302.0 384.1L300.0 384.9L298.0 385.6L296.9 386.0L296.0 386.3L294.0 387.0L292.0 387.7L291.3 388.0L290.0 388.4L288.0 389.1L286.0 389.8L285.7 390.0L284.0 390.6L282.0 391.3L280.1 392.0L280.0 392.0L278.0 393.1L276.5 394.0L276.0 394.2L274.0 395.3L272.9 396.0L272.0 396.4L270.0 397.5L269.3 398.0L268.0 398.6L266.0 399.7L265.7 400.0L264.0 400.9L262.0 402.0L260.0 401.3L258.0 400.7L256.1 400.0L257.3 398.0L258.0 396.8L258.7 396.0L260.0 394.0L260.0 393.9L261.3 392.0L262.0 390.9L262.7 390.0L263.9 388.0L264.0 387.9L265.3 386.0L266.0 384.9L266.7 384.0L268.0 382.0L268.0 381.9L268.8 380.0L269.7 378.0L270.0 376.9L270.5 376.0L271.3 374.0L272.0 372.1L272.1 372.0L272.9 370.0L273.8 368.0L274.0 367.1L274.6 366.0L275.4 364.0L276.0 362.2L276.2 362.0L277.0 360.0L277.8 358.0L278.0 357.1L278.6 356.0L279.2 354.0L280.0 352.0L280.0 351.8L280.7 350.0L281.5 348.0L282.0 346.5L282.3 346.0L283.0 344.0L284.0 342.3L284.2 342.0L285.5 340.0L286.0 339.1L286.8 338.0L288.0 336.0L288.0 335.9L289.3 334.0L290.0 332.8L290.6 332.0L291.8 330.0L292.0 329.6L293.1 328.0L294.0 326.5L294.3 326.0L295.6 324.0L296.0 323.4L297.0 322.0L298.0 320.4L298.3 320.0L299.7 318.0L300.0 317.4L301.0 316.0L302.0 314.4L302.3 314.0L303.6 312.0L304.0 311.4L305.0 310.0L305.9 308.0L306.0 307.7L306.8 306.0L307.7 304.0L308.0 303.2L308.6 302.0L309.5 300.0L310.0 298.7L310.4 298.0L311.3 296.0L312.0 294.3L312.2 294.0L313.1 292.0L314.0 290.0L314.0 290.0L314.7 288.0L315.4 286.0L316.0 284.3L316.2 284.0L316.8 282.0L317.6 280.0L318.0 278.7L318.3 278.0L319.0 276.0L319.7 274.0L320.0 273.1L320.5 272.0L321.1 270.0L321.9 268.0L322.0 267.5L322.6 266.0L323.3 264.0L324.0 262.0L324.0 262.0L324.4 260.0L324.7 258.0L325.0 256.0L325.3 254.0L325.7 252.0L326.0 250.0L326.0 250.0L326.4 248.0L326.7 246.0L327.1 244.0L328.0 243.0L329.1 242.0L330.0 241.1L331.1 240.0L332.0 239.2L333.2 238.0L334.0 237.3L335.3 236.0L336.0 235.4L337.4 234.0L338.0 233.5L339.5 232.0L340.0 231.5L341.6 230.0L342.0 229.6L344.0 228.6L345.6 228.0L346.0 227.9L348.0 227.1L350.0 226.4L350.8 226.0L352.0 225.6L354.0 224.8L356.0 224.0L356.0 224.0L358.0 223.3L360.0 222.5L361.3 222.0L362.0 221.8L364.0 220.7L365.1 220.0L366.0 219.6L368.0 218.4L368.6 218.0L370.0 217.3L372.0 216.1L372.1 216.0L374.0 215.0L375.6 214.0L376.0 213.8L378.0 212.7L378.9 212.0L380.0 211.3L381.7 210.0L382.0 209.9L384.0 208.6L384.8 208.0L386.0 207.2L387.6 206.0L388.0 205.7L390.0 204.4L390.5 204.0L392.0 203.0L393.4 202.0L394.0 201.6L396.0 200.2L396.2 200.0L398.0 198.7L398.9 198.0L400.0 197.2L401.5 196.0L402.0 195.6L404.0 194.0L404.0 194.0L406.0 192.5L406.6 192.0L408.0 191.0L409.6 190.0L410.0 189.8L412.0 188.6L412.9 188.0L414.0 187.4L416.0 186.2L416.2 186.0L418.0 185.0L419.9 184.0L420.0 184.0L422.0 183.0L423.9 182.0L424.0 181.9L426.0 181.0L428.0 180.0L428.0 180.0L430.0 179.8L432.0 179.6L434.0 179.4L436.0 179.2L438.0 179.0L440.0 179.7L441.0 180.0L442.0 180.3L444.0 181.0L446.0 181.8L448.0 181.6L450.0 180.4L450.6 180.0L452.0 179.2L454.0 178.1L454.2 178.0L456.0 177.0L457.2 176.0L458.0 175.3L459.5 174.0L460.0 173.6L462.0 172.0L464.0 173.0L466.0 174.0L466.0 174.0L468.0 175.2L468.6 176.0L469.6 178.0L470.0 179.6L470.5 180.0L472.0 180.4L472.3 180.0L473.2 178.0L474.0 177.4L474.9 176.0L476.0 175.1L476.8 174.0L478.0 173.3L478.6 174.0L479.5 176.0L480.0 177.0L480.5 178.0L481.2 180.0L481.5 182.0L481.9 184.0L482.0 184.6L482.3 186.0L482.6 188.0L483.1 190.0L484.0 190.8L485.4 192.0L486.0 192.4L488.0 194.0L489.5 192.0L490.0 190.9L490.7 190.0L492.0 188.1L494.0 188.2L496.0 188.5L498.0 188.7L500.0 189.0L502.0 189.2L504.0 189.5L506.0 189.7L508.0 190.0L510.0 190.0L512.0 190.0L514.0 190.0L516.0 190.0L518.0 190.0L520.0 190.0L522.0 190.0L524.0 190.0L526.0 190.0L528.0 190.0L530.0 189.3L532.0 188.7L534.0 188.0L534.0 188.0L536.0 187.3L538.0 186.7L540.0 186.0L540.0 186.0L542.0 185.7L544.0 185.5L546.0 185.2L548.0 185.0L550.0 184.7L552.0 184.5L554.0 184.2L555.9 184.0L556.0 184.0L558.0 183.8L560.0 183.6L562.0 183.5L564.0 183.3L566.0 183.1L568.0 183.0L570.0 182.8L572.0 182.6L574.0 182.5L576.0 182.3L578.0 182.1L579.8 182.0L580.0 181.9L582.0 181.4L584.0 180.9L586.0 180.3L587.5 180.0L588.0 179.7L590.0 179.3L592.0 178.7L594.0 178.2L594.7 178.0L596.0 177.1L597.2 176.0L598.0 175.1L599.3 174.0L599.9 172.0L599.1 170.0L598.7 168.0L598.1 166.0L598.0 164.9L597.5 164.0L597.2 162.0L596.0 160.1L595.1 160.0L594.0 159.9L592.0 159.2L590.0 158.7L588.0 158.1L587.5 158.0L586.0 157.6L584.0 157.0L582.0 156.4L580.0 156.2L579.8 156.0L579.5 154.0L579.8 152.0L578.0 150.6L576.1 150.0L576.0 150.0L574.0 149.3L572.0 148.6L570.0 148.0L570.0 148.0L568.0 147.2L566.0 146.8L565.3 146.0L565.5 144.0L565.4 142.0L565.6 140.0L566.0 139.7L568.0 139.1L570.0 138.3L570.5 138.0L572.0 137.5L574.0 136.7L575.6 136.0L576.0 135.9L578.0 135.1L580.0 134.4L580.6 134.0L582.0 133.4L584.0 132.3L584.4 132.0L586.0 131.2L588.0 130.0L588.0 130.0L590.0 129.0L591.6 128.0L592.0 127.8L594.0 126.7L595.2 126.0L596.0 125.5L598.0 124.0L598.0 124.0L600.0 122.6L602.0 122.1L602.2 122.0L604.0 121.6L606.0 121.1L608.0 120.6L610.0 120.0L610.1 120.0L612.0 119.5L614.0 119.0L616.0 118.4L617.2 118.0L618.0 117.8L620.0 117.2L622.0 116.6L624.0 116.0L624.0 116.0L626.0 115.4L628.0 114.9L630.0 114.3L630.9 114.0Z"/><path fill="#ba2049" fill-rule="evenodd" d="M726.0 148.0L728.0 147.6L730.0 147.2L732.0 146.8L734.0 146.4L736.0 146.0L736.0 148.0L736.0 150.0L736.0 152.0L736.0 154.0L736.0 156.0L736.0 158.0L736.0 160.0L736.0 162.0L736.0 164.0L736.0 166.0L736.0 168.0L736.0 168.0L734.0 168.2L732.0 168.4L730.0 168.6L728.0 168.8L726.0 169.0L724.0 169.2L722.0 169.4L720.0 169.6L718.0 169.8L716.0 170.0L714.0 169.4L712.0 168.8L710.0 168.2L709.3 168.0L708.0 167.6L706.0 167.0L704.0 166.4L702.7 166.0L702.0 165.8L700.0 165.2L698.0 164.6L696.0 164.0L694.0 164.2L692.0 164.3L690.0 164.4L688.0 164.5L686.0 164.7L684.0 164.8L682.0 164.9L680.0 165.1L678.0 165.2L676.0 165.3L674.0 165.9L673.7 166.0L672.0 166.5L670.0 167.2L668.0 167.8L667.2 168.0L666.0 168.4L664.0 169.4L662.8 170.0L662.0 170.4L660.0 171.4L658.8 172.0L658.0 172.4L656.0 173.4L654.8 174.0L654.0 174.4L652.0 175.4L650.8 176.0L650.0 176.4L648.0 177.6L647.4 178.0L646.0 178.9L644.2 180.0L644.0 180.1L642.0 181.3L640.9 182.0L640.0 182.5L638.0 183.8L637.6 184.0L636.0 185.0L634.4 186.0L634.0 186.2L632.0 187.4L631.1 188.0L630.0 188.7L628.0 189.5L626.9 190.0L626.0 190.4L624.0 191.2L622.0 192.0L622.0 192.0L620.0 192.9L618.0 193.7L617.3 194.0L616.0 194.6L614.0 195.4L612.5 196.0L612.0 196.2L610.0 197.6L609.6 198.0L608.0 199.7L607.6 200.0L606.0 201.7L605.6 202.0L604.0 203.7L603.7 204.0L602.0 204.8L600.0 205.3L598.0 205.9L597.5 206.0L596.0 206.4L594.0 206.9L592.0 207.5L590.0 208.0L590.0 208.0L588.0 208.5L586.0 209.1L584.0 209.6L582.6 210.0L582.0 210.1L580.0 210.8L578.0 210.4L576.3 210.0L576.0 209.9L574.0 209.5L572.0 209.0L570.0 208.5L568.0 208.0L566.0 208.3L564.0 208.5L562.0 208.8L560.0 209.0L558.0 209.3L556.0 209.5L554.0 209.8L552.0 210.0L552.0 210.0L550.0 210.3L548.0 210.6L546.0 210.9L544.0 211.2L542.0 211.4L540.0 211.7L538.0 212.0L538.0 212.0L536.0 212.5L534.0 212.9L532.0 213.3L530.0 213.8L528.9 214.0L528.0 214.2L526.0 214.7L524.0 215.1L522.0 215.6L520.0 216.0L520.0 216.0L518.0 217.0L516.0 218.0L516.0 218.0L514.0 219.0L512.0 220.0L512.0 220.0L510.0 221.0L508.1 222.0L508.0 222.0L506.0 223.1L504.0 223.9L503.0 222.0L502.0 220.1L500.0 221.4L499.3 222.0L498.0 223.0L496.6 224.0L496.0 224.5L494.0 226.0L494.0 226.0L492.3 228.0L492.0 228.3L490.6 230.0L490.0 230.7L488.9 232.0L488.0 233.0L487.1 234.0L486.0 235.3L485.4 236.0L484.0 237.7L483.7 238.0L482.0 240.0L482.0 240.0L480.4 242.0L480.0 242.5L478.8 244.0L478.0 245.0L477.2 246.0L476.0 247.5L475.6 248.0L474.0 250.0L474.0 250.0L472.3 252.0L472.0 252.4L470.6 254.0L470.0 254.7L468.9 256.0L468.0 257.0L467.2 258.0L466.0 259.3L465.4 260.0L464.0 261.7L463.8 262.0L462.0 264.0L462.0 264.0L460.6 266.0L460.0 266.8L459.2 268.0L458.0 269.6L457.8 270.0L456.3 272.0L456.0 272.4L454.9 274.0L454.0 275.2L453.5 276.0L452.0 278.0L452.0 278.0L450.0 279.4L449.3 280.0L448.0 280.8L446.5 282.0L446.0 282.3L444.0 283.5L443.1 284.0L442.0 284.5L440.0 285.5L439.1 286.0L438.0 286.5L436.0 287.5L435.0 288.0L434.0 288.4L432.0 289.1L430.0 289.9L429.7 290.0L428.0 290.6L426.0 291.2L424.0 291.5L422.0 291.9L420.8 292.0L420.0 292.2L418.0 292.5L416.0 292.8L414.0 293.5L413.0 294.0L412.0 294.5L410.0 295.5L409.0 296.0L408.0 296.5L406.0 297.5L405.1 298.0L404.0 298.8L402.5 300.0L402.0 300.4L400.0 302.0L400.0 302.0L398.0 303.6L397.5 304.0L396.0 305.2L395.0 306.0L394.0 307.2L393.3 308.0L392.0 309.6L391.7 310.0L390.0 312.0L390.0 312.0L388.3 314.0L388.0 314.4L386.7 316.0L386.0 316.8L385.0 318.0L384.1 320.0L384.0 320.3L383.3 322.0L382.4 324.0L382.0 325.0L381.6 326.0L380.7 328.0L380.0 329.7L379.9 330.0L379.0 332.0L378.0 333.8L377.9 334.0L376.8 336.0L376.0 337.4L375.7 338.0L374.6 340.0L374.0 341.0L373.5 342.0L372.3 344.0L372.0 344.6L371.2 346.0L370.1 348.0L370.0 348.1L369.0 350.0L368.0 351.1L367.2 352.0L366.0 353.3L365.4 354.0L364.0 355.4L363.6 356.0L362.0 357.6L361.7 358.0L360.0 360.0L360.0 360.0L359.5 362.0L359.0 364.0L358.5 366.0L358.0 368.0L358.0 368.0L357.5 370.0L357.0 372.0L356.5 374.0L356.1 376.0L356.5 378.0L357.0 380.0L357.5 382.0L358.0 384.0L357.7 386.0L357.3 388.0L357.0 390.0L356.7 392.0L356.3 394.0L356.0 395.9L356.0 396.0L354.9 398.0L354.0 399.5L353.7 400.0L352.6 402.0L352.0 403.0L351.4 404.0L350.3 406.0L350.0 406.5L349.1 408.0L348.0 410.0L348.0 410.0L346.3 412.0L346.0 412.4L344.7 414.0L344.0 414.9L343.1 416.0L342.0 417.3L341.4 418.0L340.0 419.7L339.8 420.0L338.1 422.0L338.0 422.1L336.5 424.0L336.0 424.6L334.9 426.0L334.0 427.1L333.3 428.0L332.0 429.6L331.6 430.0L330.0 432.0L329.9 432.0L328.0 432.6L326.0 433.2L324.0 433.8L323.4 434.0L322.0 434.5L320.0 435.1L318.0 435.6L317.1 436.0L316.0 437.4L315.8 438.0L314.6 440.0L314.0 441.1L313.5 442.0L312.4 444.0L312.0 444.7L311.3 446.0L310.2 448.0L310.0 448.2L309.1 450.0L308.0 451.8L307.9 452.0L306.8 454.0L306.0 455.4L305.7 456.0L304.6 458.0L304.0 459.0L303.4 460.0L302.3 462.0L302.0 462.6L301.2 464.0L300.3 466.0L300.0 466.6L299.4 468.0L298.4 470.0L298.0 471.0L297.5 472.0L296.6 474.0L296.0 475.3L295.6 476.0L294.7 478.0L294.0 479.6L293.8 480.0L292.6 482.0L292.0 483.0L291.4 484.0L290.2 486.0L290.0 486.4L289.0 488.0L288.0 489.6L287.8 490.0L286.5 492.0L286.0 492.9L285.3 494.0L284.1 496.0L284.0 496.2L282.9 498.0L282.0 499.5L281.7 500.0L280.4 502.0L280.0 502.7L279.2 504.0L278.0 506.0L278.0 506.0L276.7 508.0L276.0 509.1L275.4 510.0L274.1 512.0L274.0 512.2L272.8 514.0L272.0 515.2L271.5 516.0L270.2 518.0L270.0 518.3L268.9 520.0L268.0 521.3L267.6 522.0L266.3 524.0L266.0 524.4L265.0 526.0L264.0 527.5L263.7 528.0L262.4 530.0L262.0 530.6L261.0 532.0L260.0 533.6L259.7 534.0L258.4 536.0L258.0 536.7L257.1 538.0L256.0 539.8L255.8 540.0L254.5 542.0L254.0 542.8L253.2 544.0L252.0 545.9L251.9 546.0L250.6 548.0L250.0 548.9L249.3 550.0L248.0 552.0L248.0 552.0L247.1 554.0L246.2 556.0L246.0 556.5L245.3 558.0L244.4 560.0L244.0 561.0L243.5 562.0L242.7 564.0L242.0 565.5L241.8 566.0L240.9 568.0L240.0 570.0L240.0 570.0L239.1 572.0L238.2 574.0L238.0 574.5L237.3 576.0L236.4 578.0L236.0 579.0L235.6 580.0L234.7 582.0L234.0 583.5L233.8 584.0L232.9 586.0L232.0 588.0L232.0 588.0L231.6 590.0L231.2 592.0L230.7 594.0L230.3 596.0L230.0 597.2L229.9 598.0L229.4 600.0L229.0 602.0L228.6 604.0L228.2 606.0L228.0 606.5L227.7 608.0L227.3 610.0L226.9 612.0L226.5 614.0L226.1 616.0L226.0 616.0L224.0 616.0L222.0 616.0L222.0 616.0L222.0 615.9L222.3 614.0L222.6 612.0L222.9 610.0L223.2 608.0L223.5 606.0L223.8 604.0L224.0 602.8L224.1 602.0L224.4 600.0L224.7 598.0L225.0 596.0L225.3 594.0L225.6 592.0L225.9 590.0L226.0 589.4L226.2 588.0L226.5 586.0L226.8 584.0L227.1 582.0L227.4 580.0L227.7 578.0L228.0 576.0L228.0 576.0L228.9 574.0L229.9 572.0L230.0 571.7L230.8 570.0L231.8 568.0L232.0 567.5L232.7 566.0L233.7 564.0L234.0 563.2L234.6 562.0L235.5 560.0L236.0 559.0L236.5 558.0L237.4 556.0L238.0 554.7L238.4 554.0L239.3 552.0L240.0 550.5L240.2 550.0L241.2 548.0L242.0 546.2L242.1 546.0L243.1 544.0L244.0 542.0L244.0 542.0L245.3 540.0L246.0 539.0L246.7 538.0L248.0 536.0L248.0 536.0L249.3 534.0L250.0 533.0L250.7 532.0L252.0 530.0L252.0 530.0L253.3 528.0L254.0 527.0L254.7 526.0L256.0 524.0L256.0 524.0L257.3 522.0L258.0 521.0L258.7 520.0L260.0 518.0L260.0 518.0L261.3 516.0L262.0 515.0L262.7 514.0L264.0 512.0L264.0 512.0L265.3 510.0L266.0 509.0L266.7 508.0L268.0 506.0L268.0 506.0L269.3 504.0L270.0 502.9L270.6 502.0L271.9 500.0L272.0 499.9L273.2 498.0L274.0 496.8L274.5 496.0L275.8 494.0L276.0 493.8L277.1 492.0L278.0 490.7L278.4 490.0L279.8 488.0L280.0 487.6L281.0 486.0L282.0 484.6L282.4 484.0L283.7 482.0L284.0 481.5L284.8 480.0L285.3 478.0L285.8 476.0L286.0 475.2L286.3 474.0L286.8 472.0L287.3 470.0L287.8 468.0L288.0 467.1L288.4 466.0L289.0 464.0L289.7 462.0L290.0 461.0L290.4 460.0L291.7 458.0L292.0 457.5L293.0 456.0L294.0 454.4L294.3 454.0L295.6 452.0L296.0 451.3L296.9 450.0L298.0 448.2L298.1 448.0L299.4 446.0L300.0 445.1L300.7 444.0L302.0 442.0L302.0 441.9L303.2 440.0L304.0 438.8L304.5 438.0L305.8 436.0L306.0 435.7L307.3 434.0L308.0 433.1L308.8 432.0L310.0 430.5L310.4 430.0L311.9 428.0L312.0 427.8L313.4 426.0L314.0 425.2L314.9 424.0L316.0 422.5L316.4 422.0L317.9 420.0L318.0 419.9L319.5 418.0L320.0 417.3L321.0 416.0L322.0 414.6L322.5 414.0L324.0 412.0L324.0 412.0L325.8 410.0L326.0 409.8L327.6 408.0L328.0 407.6L329.5 406.0L330.0 405.4L331.3 404.0L332.0 403.2L333.1 402.0L334.0 401.0L334.9 400.0L336.0 398.8L336.7 398.0L338.0 396.6L338.5 396.0L340.0 394.4L340.4 394.0L342.0 392.2L342.2 392.0L344.0 390.0L344.0 390.0L344.9 388.0L345.8 386.0L346.0 385.6L346.7 384.0L347.6 382.0L348.0 381.3L348.5 380.0L349.4 378.0L350.0 376.9L350.3 376.0L351.2 374.0L352.0 372.5L352.2 372.0L353.1 370.0L354.0 368.0L354.0 368.0L354.7 366.0L355.3 364.0L356.0 362.0L356.0 362.0L356.7 360.0L357.3 358.0L358.0 356.0L358.0 356.0L358.7 354.0L359.3 352.0L360.0 350.0L360.0 350.0L360.8 348.0L361.6 346.0L362.0 345.1L362.4 344.0L363.2 342.0L364.0 340.1L364.0 340.0L364.8 338.0L365.6 336.0L366.0 335.1L366.4 334.0L367.2 332.0L368.0 330.1L368.0 330.0L368.8 328.0L369.6 326.0L370.0 325.2L370.6 324.0L372.0 322.2L372.1 322.0L373.3 320.0L374.0 319.1L374.7 318.0L376.0 316.1L376.1 316.0L377.3 314.0L378.0 313.1L378.7 312.0L380.0 310.1L380.1 310.0L381.7 308.0L382.0 307.7L383.3 306.0L384.0 305.2L385.0 304.0L386.0 302.8L386.6 302.0L388.0 300.5L388.4 300.0L390.0 298.1L390.1 298.0L392.0 296.3L392.4 296.0L394.0 294.5L394.6 294.0L396.0 292.8L397.0 292.0L398.0 290.9L398.7 290.0L400.0 288.1L400.2 288.0L402.0 287.3L404.0 286.7L406.0 286.0L406.0 286.0L408.0 285.2L410.0 285.2L410.8 286.0L412.0 286.4L414.0 287.4L414.8 288.0L416.0 288.3L418.0 289.2L420.0 289.9L422.0 289.3L424.0 288.6L426.0 288.0L426.0 288.0L427.3 286.0L428.0 284.8L428.6 284.0L429.9 282.0L430.0 281.8L431.1 280.0L432.0 279.3L433.9 278.0L433.4 276.0L432.8 274.0L432.2 272.0L432.0 270.7L431.6 270.0L431.1 268.0L430.6 266.0L430.0 264.2L428.0 264.4L426.0 264.8L424.0 265.2L422.0 265.6L420.0 265.9L418.4 264.0L418.0 263.5L416.8 262.0L416.0 261.0L415.2 260.0L414.0 258.4L413.6 258.0L412.0 256.0L410.0 256.8L408.0 257.6L406.9 258.0L406.0 258.4L404.0 259.2L402.0 260.0L402.0 260.0L400.0 261.3L399.1 262.0L398.0 262.7L396.0 264.0L396.0 264.0L394.0 265.3L393.1 266.0L392.0 266.7L390.0 267.9L388.0 267.8L386.0 267.6L384.0 267.4L382.0 267.2L380.0 267.5L379.5 266.0L380.0 265.4L381.2 264.0L382.0 262.7L382.6 262.0L383.9 260.0L384.0 259.8L385.4 258.0L386.0 257.1L386.9 256.0L388.0 254.3L388.2 254.0L389.7 252.0L390.0 251.5L391.1 250.0L392.0 248.7L392.5 248.0L394.0 246.0L394.0 246.0L396.0 245.0L397.8 244.0L398.0 243.9L400.0 243.0L401.8 242.0L402.0 241.9L404.0 241.0L405.1 240.0L406.0 239.2L407.4 238.0L408.0 237.5L409.6 236.0L410.0 235.7L412.0 234.0L412.0 234.0L413.9 232.0L414.0 231.9L416.0 230.0L416.0 229.9L416.4 228.0L416.8 226.0L417.2 224.0L417.6 222.0L418.0 220.0L418.0 220.0L419.0 218.0L420.0 216.0L420.0 215.9L421.0 214.0L422.0 212.0L422.0 212.0L423.7 210.0L424.0 209.7L425.5 208.0L426.0 207.5L427.3 206.0L428.0 205.3L429.0 204.0L430.0 203.1L432.0 202.1L432.2 202.0L434.0 201.3L436.0 200.5L437.0 200.0L438.0 199.7L440.0 198.8L441.9 198.0L442.0 198.0L444.0 196.8L445.3 196.0L446.0 195.7L448.0 194.5L448.7 194.0L450.0 193.3L452.0 192.2L452.2 192.0L454.0 191.1L456.0 190.8L458.0 190.7L460.0 190.5L462.0 190.3L464.0 190.0L466.0 191.8L466.2 192.0L468.0 194.0L466.3 196.0L466.0 196.7L464.5 198.0L464.5 200.0L466.0 201.4L466.3 202.0L468.0 204.0L468.0 204.0L470.0 204.8L472.0 205.7L474.0 205.9L476.0 205.4L478.0 205.0L480.0 204.6L482.0 204.3L482.7 204.0L484.0 203.5L486.0 202.2L486.2 202.0L488.0 201.1L490.0 201.3L492.0 201.6L494.0 201.9L494.8 202.0L496.0 202.2L498.0 202.5L500.0 202.8L502.0 203.1L504.0 203.4L506.0 203.7L508.0 204.0L509.8 204.0L510.0 204.0L511.2 204.0L512.0 204.0L514.0 204.0L516.0 204.0L518.0 204.0L520.0 204.0L522.0 204.0L524.0 204.0L526.0 204.0L528.0 204.0L530.0 203.9L532.0 203.8L534.0 203.8L536.0 203.7L538.0 203.6L540.0 203.6L542.0 203.5L544.0 203.4L546.0 203.3L548.0 203.3L550.0 203.2L552.0 203.1L554.0 203.1L556.0 203.0L558.0 202.5L559.8 202.0L560.0 201.9L562.0 201.4L564.0 200.9L566.0 200.3L567.3 200.0L568.0 199.8L570.0 199.3L572.0 198.7L574.0 198.2L574.8 198.0L576.0 197.6L578.0 197.1L580.0 196.5L581.0 196.0L582.0 195.5L584.0 194.5L585.0 194.0L586.0 193.5L588.0 192.5L588.9 192.0L590.0 191.5L592.0 190.5L592.9 190.0L594.0 189.5L596.0 188.5L596.9 188.0L598.0 187.5L600.0 186.5L600.9 186.0L602.0 185.5L604.0 184.5L605.0 184.0L606.0 183.5L608.0 182.5L609.0 182.0L610.0 181.5L612.0 180.7L614.0 180.2L615.0 180.0L616.0 179.7L618.0 179.2L620.0 178.7L622.0 178.2L622.8 178.0L624.0 177.6L626.0 176.3L626.6 176.0L628.0 175.1L630.0 174.0L630.1 174.0L632.0 172.4L632.2 172.0L633.6 170.0L634.0 169.4L635.0 168.0L636.0 166.6L636.4 166.0L637.8 164.0L638.0 163.7L639.2 162.0L640.0 160.8L640.6 160.0L641.9 158.0L642.0 157.9L644.0 156.4L644.7 156.0L646.0 155.3L648.0 154.1L648.1 154.0L650.0 152.9L651.4 152.0L652.0 151.7L654.0 150.5L654.7 150.0L656.0 149.3L658.0 148.0L660.0 148.2L662.0 148.5L664.0 148.7L666.0 148.9L668.0 149.1L670.0 149.3L672.0 149.6L674.0 149.8L675.9 150.0L676.0 150.0L678.0 150.4L680.0 150.8L682.0 151.2L684.0 151.6L686.0 152.0L686.0 152.0L688.0 152.4L690.0 152.8L692.0 153.2L694.0 153.6L696.0 154.0L698.0 153.6L700.0 153.2L702.0 152.8L704.0 152.4L706.0 152.0L706.0 152.0L708.0 151.6L710.0 151.2L712.0 150.8L714.0 150.4L716.0 150.0L716.0 150.0L718.0 149.6L720.0 149.2L722.0 148.8L724.0 148.4L726.0 148.0Z"/><path fill="#a70b44" fill-rule="evenodd" d="M674.0 165.9L676.0 165.3L678.0 165.2L680.0 165.1L682.0 164.9L684.0 164.8L686.0 164.7L688.0 164.5L690.0 164.4L692.0 164.3L694.0 164.2L696.0 164.0L698.0 164.6L700.0 165.2L702.0 165.8L702.7 166.0L704.0 166.4L706.0 167.0L708.0 167.6L709.3 168.0L710.0 168.2L712.0 168.8L714.0 169.4L716.0 170.0L718.0 169.8L720.0 169.6L722.0 169.4L724.0 169.2L726.0 169.0L728.0 168.8L730.0 168.6L732.0 168.4L734.0 168.2L736.0 168.0L736.0 170.0L736.0 172.0L736.0 174.0L736.0 176.0L736.0 178.0L736.0 180.0L736.0 182.0L736.0 184.0L736.0 185.1L734.0 185.4L732.0 185.8L730.8 186.0L730.0 186.3L728.0 186.6L726.0 187.0L724.0 187.4L722.0 187.8L720.8 188.0L720.0 188.3L718.0 188.6L716.0 189.0L714.0 188.5L712.0 188.0L712.0 188.0L710.0 187.5L708.0 187.0L706.0 186.5L704.0 186.0L704.0 186.0L702.0 185.5L700.0 185.0L698.0 184.5L696.0 184.1L694.0 184.4L692.0 184.6L690.0 184.9L688.0 185.2L686.0 185.5L684.0 185.8L682.5 186.0L682.0 186.2L680.0 186.4L678.0 186.7L676.0 187.0L674.0 187.5L672.1 188.0L672.0 188.1L670.0 188.6L668.0 189.1L666.0 189.6L664.3 190.0L664.0 190.2L662.0 190.6L660.0 191.1L658.0 191.6L656.5 192.0L656.0 192.3L654.0 193.3L652.3 194.0L652.0 194.3L650.0 195.2L648.4 196.0L648.0 196.3L646.0 197.2L644.3 198.0L644.0 198.2L642.0 199.2L640.4 200.0L640.0 200.3L638.0 201.2L637.1 202.0L636.0 203.3L635.4 204.0L634.0 205.6L633.6 206.0L632.0 207.8L631.8 208.0L630.1 210.0L630.0 210.1L628.3 212.0L628.0 212.5L626.5 214.0L626.0 214.3L624.0 214.7L622.0 215.2L620.0 215.8L618.9 216.0L618.0 216.3L616.0 216.8L614.0 217.3L612.0 217.9L611.3 218.0L610.0 218.4L608.0 218.9L606.0 219.4L604.0 220.0L603.8 220.0L602.0 220.4L600.0 220.6L598.0 220.8L596.0 221.1L594.0 221.3L592.0 221.5L590.0 221.8L588.0 222.0L588.0 222.0L588.0 222.0L586.0 221.4L584.0 220.8L582.0 220.3L581.6 220.0L580.0 219.6L578.0 219.0L576.0 218.5L575.0 218.0L574.0 217.8L572.0 217.2L570.0 216.6L568.0 216.1L566.0 216.6L564.0 217.2L562.0 217.8L561.0 218.0L560.0 218.5L558.0 219.0L556.0 219.6L554.4 220.0L554.0 220.3L552.0 220.8L550.0 221.4L548.0 222.0L548.0 222.0L546.0 223.0L544.0 223.9L543.8 224.0L542.0 225.0L540.0 225.9L539.8 226.0L538.0 227.0L536.0 227.9L535.8 228.0L534.0 229.0L532.0 230.0L532.0 230.0L530.0 231.8L529.8 232.0L528.0 233.9L527.8 234.0L526.0 235.9L525.9 236.0L524.0 237.9L523.9 238.0L522.0 239.9L521.8 240.0L520.0 241.9L519.9 242.0L518.0 243.9L517.9 244.0L516.0 245.9L515.8 246.0L514.0 247.9L513.9 248.0L512.0 249.9L511.9 250.0L510.0 251.0L508.0 252.0L507.9 252.0L506.0 253.0L504.0 254.0L504.0 254.0L502.0 255.8L501.8 256.0L500.0 257.8L499.8 258.0L498.0 259.9L497.9 260.0L496.0 261.8L495.8 262.0L494.0 263.8L493.7 264.0L492.1 266.0L494.0 266.8L496.0 267.4L498.0 268.0L498.0 268.0L500.0 268.6L502.0 269.3L503.7 270.0L502.0 270.5L500.0 271.0L498.0 271.4L496.0 271.9L494.0 271.5L492.0 271.0L490.0 270.5L488.0 270.0L486.0 270.7L484.0 271.3L482.0 272.0L482.0 272.0L480.0 272.7L478.0 273.3L476.0 274.0L476.0 274.0L474.0 275.2L472.7 276.0L472.0 276.5L470.0 277.7L469.5 278.0L468.0 279.0L466.3 280.0L466.0 280.2L464.0 281.5L463.1 282.0L462.0 282.7L460.0 284.0L459.9 284.0L458.0 284.9L456.0 285.8L455.5 286.0L454.0 286.8L452.0 287.8L451.3 288.0L450.0 288.7L448.0 289.6L447.0 290.0L446.0 290.6L444.0 291.3L442.0 291.9L441.4 292.0L440.0 292.6L438.0 293.1L436.0 293.8L434.7 294.0L434.0 294.4L432.0 294.6L430.0 295.0L428.0 295.4L426.0 295.8L424.9 296.0L424.0 296.4L422.0 296.9L420.0 297.6L418.3 298.0L418.0 298.2L416.0 298.8L414.0 299.4L412.0 300.0L412.0 300.0L410.0 301.8L409.8 302.0L408.0 303.8L407.8 304.0L406.0 305.9L405.9 306.0L404.0 307.8L403.8 308.0L402.0 309.8L401.8 310.0L400.0 311.9L399.9 312.0L398.0 314.0L398.0 314.0L397.0 316.0L396.0 317.9L396.0 318.0L395.0 320.0L394.0 322.0L394.0 322.0L393.7 324.0L393.4 326.0L393.0 328.0L392.7 330.0L392.4 332.0L392.1 334.0L392.0 334.3L391.9 336.0L391.8 338.0L391.6 340.0L391.5 342.0L391.4 344.0L391.3 346.0L391.2 348.0L391.1 350.0L391.7 352.0L392.0 353.5L392.3 354.0L392.9 356.0L393.5 358.0L394.0 359.8L394.2 360.0L394.8 362.0L395.4 364.0L396.0 366.0L396.0 366.0L397.2 368.0L398.0 369.4L398.4 370.0L399.6 372.0L400.0 372.8L400.8 374.0L401.9 376.0L402.0 376.1L403.2 378.0L404.0 379.4L404.4 380.0L405.6 382.0L406.0 382.7L406.8 384.0L408.0 386.0L408.0 387.6L408.0 388.0L408.0 390.0L408.0 392.0L408.0 394.0L408.0 396.0L408.0 398.0L408.0 399.4L408.0 400.0L408.0 402.0L408.0 404.0L406.2 406.0L406.0 406.2L404.3 408.0L404.0 408.3L402.5 410.0L402.0 410.5L400.6 412.0L400.0 412.6L398.8 414.0L398.0 414.8L396.9 416.0L396.0 417.0L395.1 418.0L394.0 419.1L393.2 420.0L392.0 421.3L391.4 422.0L390.0 423.5L389.5 424.0L388.0 425.6L387.6 426.0L386.0 427.8L385.8 428.0L384.0 430.0L384.0 430.0L382.2 432.0L382.0 432.2L380.5 434.0L380.0 434.5L378.8 436.0L378.0 436.8L377.0 438.0L376.0 439.1L375.3 440.0L374.0 441.4L373.5 442.0L372.0 443.7L371.7 444.0L370.0 445.9L369.9 446.0L368.0 447.6L367.5 448.0L366.0 449.2L365.0 450.0L364.0 450.8L362.5 452.0L362.0 452.4L360.0 454.0L360.0 454.0L358.0 455.7L357.6 456.0L356.0 457.3L355.1 458.0L354.0 458.9L352.7 460.0L352.0 460.6L350.1 462.0L350.0 462.1L348.0 463.8L347.7 464.0L346.0 465.4L345.1 466.0L344.0 466.9L342.6 468.0L342.0 468.5L340.0 470.0L340.0 470.0L338.0 471.6L337.0 472.0L336.0 472.4L334.0 473.2L332.0 473.8L330.0 472.6L329.0 472.0L328.0 471.5L326.0 470.5L325.5 470.0L324.0 468.0L324.0 468.0L322.5 466.0L322.0 465.4L320.9 464.0L320.0 462.8L319.6 462.0L318.0 460.9L317.1 460.0L316.0 459.4L315.1 460.0L314.0 461.0L313.1 462.0L312.0 463.0L311.1 464.0L310.0 465.1L309.1 466.0L308.0 467.1L307.1 468.0L306.0 469.0L305.3 470.0L304.2 472.0L304.0 472.2L303.0 474.0L302.0 475.6L301.8 476.0L300.7 478.0L300.0 479.1L299.5 480.0L298.3 482.0L298.0 482.4L297.2 484.0L296.0 485.8L295.9 486.0L294.8 488.0L294.0 489.4L293.8 490.0L292.8 492.0L292.0 493.4L291.8 494.0L290.8 496.0L290.0 497.5L289.8 498.0L288.8 500.0L288.0 501.4L287.8 502.0L286.8 504.0L286.0 505.4L285.8 506.0L284.5 508.0L284.0 508.7L283.3 510.0L282.0 511.9L282.0 512.0L280.8 514.0L280.0 515.2L279.5 516.0L278.3 518.0L278.0 518.3L277.0 520.0L276.0 521.5L275.7 522.0L274.6 524.0L274.0 524.8L273.3 526.0L272.0 527.8L271.9 528.0L270.8 530.0L270.0 531.1L269.5 532.0L268.2 534.0L268.0 534.3L267.0 536.0L266.0 537.5L265.7 538.0L264.5 540.0L264.0 540.7L263.3 542.0L262.0 543.8L261.9 544.0L260.8 546.0L260.0 547.1L259.5 548.0L258.2 550.0L258.0 550.2L257.0 552.0L256.0 553.5L255.7 554.0L254.5 556.0L254.0 556.7L253.2 558.0L252.0 560.0L252.0 560.0L251.3 562.0L250.6 564.0L250.0 565.4L249.9 566.0L249.1 568.0L248.5 570.0L248.0 570.9L247.8 572.0L247.0 574.0L246.4 576.0L246.0 576.6L245.6 578.0L244.8 580.0L244.2 582.0L244.0 582.3L243.4 584.0L242.7 586.0L242.1 588.0L242.4 590.0L242.6 592.0L242.9 594.0L243.2 596.0L243.5 598.0L243.7 600.0L244.0 601.9L244.1 602.0L244.4 604.0L244.6 606.0L244.9 608.0L245.2 610.0L245.5 612.0L245.7 614.0L246.0 615.9L246.1 616.0L246.0 616.0L244.0 616.0L242.0 616.0L240.0 616.0L238.0 616.0L236.0 616.0L234.0 616.0L232.0 616.0L230.0 616.0L228.0 616.0L226.1 616.0L226.5 614.0L226.9 612.0L227.3 610.0L227.7 608.0L228.0 606.5L228.2 606.0L228.6 604.0L229.0 602.0L229.4 600.0L229.9 598.0L230.0 597.2L230.3 596.0L230.7 594.0L231.2 592.0L231.6 590.0L232.0 588.0L232.0 588.0L232.9 586.0L233.8 584.0L234.0 583.5L234.7 582.0L235.6 580.0L236.0 579.0L236.4 578.0L237.3 576.0L238.0 574.5L238.2 574.0L239.1 572.0L240.0 570.0L240.0 570.0L240.9 568.0L241.8 566.0L242.0 565.5L242.7 564.0L243.5 562.0L244.0 561.0L244.4 560.0L245.3 558.0L246.0 556.5L246.2 556.0L247.1 554.0L248.0 552.0L248.0 552.0L249.3 550.0L250.0 548.9L250.6 548.0L251.9 546.0L252.0 545.9L253.2 544.0L254.0 542.8L254.5 542.0L255.8 540.0L256.0 539.8L257.1 538.0L258.0 536.7L258.4 536.0L259.7 534.0L260.0 533.6L261.0 532.0L262.0 530.6L262.4 530.0L263.7 528.0L264.0 527.5L265.0 526.0L266.0 524.4L266.3 524.0L267.6 522.0L268.0 521.3L268.9 520.0L270.0 518.3L270.2 518.0L271.5 516.0L272.0 515.2L272.8 514.0L274.0 512.2L274.1 512.0L275.4 510.0L276.0 509.1L276.7 508.0L278.0 506.0L278.0 506.0L279.2 504.0L280.0 502.7L280.4 502.0L281.7 500.0L282.0 499.5L282.9 498.0L284.0 496.2L284.1 496.0L285.3 494.0L286.0 492.9L286.5 492.0L287.8 490.0L288.0 489.6L289.0 488.0L290.0 486.4L290.2 486.0L291.4 484.0L292.0 483.0L292.6 482.0L293.8 480.0L294.0 479.6L294.7 478.0L295.6 476.0L296.0 475.3L296.6 474.0L297.5 472.0L298.0 471.0L298.4 470.0L299.4 468.0L300.0 466.6L300.3 466.0L301.2 464.0L302.0 462.6L302.3 462.0L303.4 460.0L304.0 459.0L304.6 458.0L305.7 456.0L306.0 455.4L306.8 454.0L307.9 452.0L308.0 451.8L309.1 450.0L310.0 448.2L310.2 448.0L311.3 446.0L312.0 444.7L312.4 444.0L313.5 442.0L314.0 441.1L314.6 440.0L315.8 438.0L316.0 437.4L317.1 436.0L318.0 435.6L320.0 435.1L322.0 434.5L323.4 434.0L324.0 433.8L326.0 433.2L328.0 432.6L329.9 432.0L330.0 432.0L331.6 430.0L332.0 429.6L333.3 428.0L334.0 427.1L334.9 426.0L336.0 424.6L336.5 424.0L338.0 422.1L338.1 422.0L339.8 420.0L340.0 419.7L341.4 418.0L342.0 417.3L343.1 416.0L344.0 414.9L344.7 414.0L346.0 412.4L346.3 412.0L348.0 410.0L348.0 410.0L349.1 408.0L350.0 406.5L350.3 406.0L351.4 404.0L352.0 403.0L352.6 402.0L353.7 400.0L354.0 399.5L354.9 398.0L356.0 396.0L356.0 395.9L356.3 394.0L356.7 392.0L357.0 390.0L357.3 388.0L357.7 386.0L358.0 384.0L357.5 382.0L357.0 380.0L356.5 378.0L356.1 376.0L356.5 374.0L357.0 372.0L357.5 370.0L358.0 368.0L358.0 368.0L358.5 366.0L359.0 364.0L359.5 362.0L360.0 360.0L360.0 360.0L361.7 358.0L362.0 357.6L363.6 356.0L364.0 355.4L365.4 354.0L366.0 353.3L367.2 352.0L368.0 351.1L369.0 350.0L370.0 348.1L370.1 348.0L371.2 346.0L372.0 344.6L372.3 344.0L373.5 342.0L374.0 341.0L374.6 340.0L375.7 338.0L376.0 337.4L376.8 336.0L377.9 334.0L378.0 333.8L379.0 332.0L379.9 330.0L380.0 329.7L380.7 328.0L381.6 326.0L382.0 325.0L382.4 324.0L383.3 322.0L384.0 320.3L384.1 320.0L385.0 318.0L386.0 316.8L386.7 316.0L388.0 314.4L388.3 314.0L390.0 312.0L390.0 312.0L391.7 310.0L392.0 309.6L393.3 308.0L394.0 307.2L395.0 306.0L396.0 305.2L397.5 304.0L398.0 303.6L400.0 302.0L400.0 302.0L402.0 300.4L402.5 300.0L404.0 298.8L405.1 298.0L406.0 297.5L408.0 296.5L409.0 296.0L410.0 295.5L412.0 294.5L413.0 294.0L414.0 293.5L416.0 292.8L418.0 292.5L420.0 292.2L420.8 292.0L422.0 291.9L424.0 291.5L426.0 291.2L428.0 290.6L429.7 290.0L430.0 289.9L432.0 289.1L434.0 288.4L435.0 288.0L436.0 287.5L438.0 286.5L439.1 286.0L440.0 285.5L442.0 284.5L443.1 284.0L444.0 283.5L446.0 282.3L446.5 282.0L448.0 280.8L449.3 280.0L450.0 279.4L452.0 278.0L452.0 278.0L453.5 276.0L454.0 275.2L454.9 274.0L456.0 272.4L456.3 272.0L457.8 270.0L458.0 269.6L459.2 268.0L460.0 266.8L460.6 266.0L462.0 264.0L462.0 264.0L463.8 262.0L464.0 261.7L465.4 260.0L466.0 259.3L467.2 258.0L468.0 257.0L468.9 256.0L470.0 254.7L470.6 254.0L472.0 252.4L472.3 252.0L474.0 250.0L474.0 250.0L475.6 248.0L476.0 247.5L477.2 246.0L478.0 245.0L478.8 244.0L480.0 242.5L480.4 242.0L482.0 240.0L482.0 240.0L483.7 238.0L484.0 237.7L485.4 236.0L486.0 235.3L487.1 234.0L488.0 233.0L488.9 232.0L490.0 230.7L490.6 230.0L492.0 228.3L492.3 228.0L494.0 226.0L494.0 226.0L496.0 224.5L496.6 224.0L498.0 223.0L499.3 222.0L500.0 221.4L502.0 220.1L503.0 222.0L504.0 223.9L506.0 223.1L508.0 222.0L508.1 222.0L510.0 221.0L512.0 220.0L512.0 220.0L514.0 219.0L516.0 218.0L516.0 218.0L518.0 217.0L520.0 216.0L520.0 216.0L522.0 215.6L524.0 215.1L526.0 214.7L528.0 214.2L528.9 214.0L530.0 213.8L532.0 213.3L534.0 212.9L536.0 212.5L538.0 212.0L538.0 212.0L540.0 211.7L542.0 211.4L544.0 211.2L546.0 210.9L548.0 210.6L550.0 210.3L552.0 210.0L552.0 210.0L554.0 209.8L556.0 209.5L558.0 209.3L560.0 209.0L562.0 208.8L564.0 208.5L566.0 208.3L568.0 208.0L570.0 208.5L572.0 209.0L574.0 209.5L576.0 209.9L576.3 210.0L578.0 210.4L580.0 210.8L582.0 210.1L582.6 210.0L584.0 209.6L586.0 209.1L588.0 208.5L590.0 208.0L590.0 208.0L592.0 207.5L594.0 206.9L596.0 206.4L597.5 206.0L598.0 205.9L600.0 205.3L602.0 204.8L603.7 204.0L604.0 203.7L605.6 202.0L606.0 201.7L607.6 200.0L608.0 199.7L609.6 198.0L610.0 197.6L612.0 196.2L612.5 196.0L614.0 195.4L616.0 194.6L617.3 194.0L618.0 193.7L620.0 192.9L622.0 192.0L622.0 192.0L624.0 191.2L626.0 190.4L626.9 190.0L628.0 189.5L630.0 188.7L631.1 188.0L632.0 187.4L634.0 186.2L634.4 186.0L636.0 185.0L637.6 184.0L638.0 183.8L640.0 182.5L640.9 182.0L642.0 181.3L644.0 180.1L644.2 180.0L646.0 178.9L647.4 178.0L648.0 177.6L650.0 176.4L650.8 176.0L652.0 175.4L654.0 174.4L654.8 174.0L656.0 173.4L658.0 172.4L658.8 172.0L660.0 171.4L662.0 170.4L662.8 170.0L664.0 169.4L666.0 168.4L667.2 168.0L668.0 167.8L670.0 167.2L672.0 166.5L673.7 166.0Z"/><path fill="#9e0142" fill-rule="evenodd" d="M684.0 185.8L686.0 185.5L688.0 185.2L690.0 184.9L692.0 184.6L694.0 184.4L696.0 184.1L698.0 184.5L700.0 185.0L702.0 185.5L704.0 186.0L704.0 186.0L706.0 186.5L708.0 187.0L710.0 187.5L712.0 188.0L712.0 188.0L714.0 188.5L716.0 189.0L718.0 188.6L720.0 188.3L720.8 188.0L722.0 187.8L724.0 187.4L726.0 187.0L728.0 186.6L730.0 186.3L730.8 186.0L732.0 185.8L734.0 185.4L736.0 185.1L736.0 186.0L736.0 188.0L736.0 190.0L736.0 192.0L736.0 194.0L736.0 196.0L736.0 198.0L736.0 200.0L736.0 202.0L736.0 204.0L736.0 206.0L736.0 208.0L736.0 210.0L736.0 212.0L736.0 214.0L736.0 216.0L736.0 218.0L736.0 220.0L736.0 222.0L736.0 224.0L736.0 226.0L736.0 228.0L736.0 230.0L736.0 232.0L736.0 234.0L736.0 236.0L736.0 238.0L736.0 240.0L736.0 242.0L736.0 244.0L736.0 246.0L736.0 248.0L736.0 250.0L736.0 252.0L736.0 254.0L736.0 256.0L736.0 258.0L736.0 260.0L736.0 262.0L736.0 264.0L736.0 266.0L736.0 268.0L736.0 270.0L736.0 272.0L736.0 274.0L736.0 276.0L736.0 278.0L736.0 280.0L736.0 282.0L736.0 284.0L736.0 286.0L736.0 288.0L736.0 290.0L736.0 292.0L736.0 294.0L736.0 296.0L736.0 298.0L736.0 300.0L736.0 302.0L736.0 304.0L736.0 306.0L736.0 308.0L736.0 310.0L736.0 312.0L736.0 314.0L736.0 316.0L736.0 318.0L736.0 320.0L736.0 322.0L736.0 324.0L736.0 326.0L736.0 328.0L736.0 330.0L736.0 332.0L736.0 334.0L736.0 336.0L736.0 338.0L736.0 340.0L736.0 342.0L736.0 344.0L736.0 346.0L736.0 348.0L736.0 350.0L736.0 352.0L736.0 354.0L736.0 356.0L736.0 358.0L736.0 360.0L736.0 362.0L736.0 364.0L736.0 366.0L736.0 368.0L736.0 370.0L736.0 372.0L736.0 374.0L736.0 376.0L736.0 378.0L736.0 380.0L736.0 382.0L736.0 384.0L736.0 386.0L736.0 388.0L736.0 390.0L736.0 392.0L736.0 394.0L736.0 396.0L736.0 398.0L736.0 400.0L736.0 402.0L736.0 404.0L736.0 406.0L736.0 408.0L736.0 410.0L736.0 412.0L736.0 414.0L736.0 416.0L736.0 418.0L736.0 420.0L736.0 422.0L736.0 424.0L736.0 426.0L736.0 428.0L736.0 430.0L736.0 432.0L736.0 434.0L736.0 436.0L736.0 438.0L736.0 440.0L736.0 442.0L736.0 444.0L736.0 446.0L736.0 448.0L736.0 450.0L736.0 452.0L736.0 454.0L736.0 456.0L736.0 458.0L736.0 460.0L736.0 462.0L736.0 464.0L736.0 466.0L736.0 468.0L736.0 470.0L736.0 472.0L736.0 474.0L736.0 476.0L736.0 478.0L736.0 480.0L736.0 482.0L736.0 484.0L736.0 486.0L736.0 488.0L736.0 490.0L736.0 492.0L736.0 494.0L736.0 496.0L736.0 498.0L736.0 500.0L736.0 502.0L736.0 504.0L736.0 506.0L736.0 508.0L736.0 510.0L736.0 512.0L736.0 514.0L736.0 516.0L736.0 518.0L736.0 520.0L736.0 522.0L736.0 524.0L736.0 526.0L736.0 528.0L736.0 530.0L736.0 532.0L736.0 534.0L736.0 536.0L736.0 538.0L736.0 540.0L736.0 542.0L736.0 544.0L736.0 546.0L736.0 548.0L736.0 550.0L736.0 552.0L736.0 554.0L736.0 556.0L736.0 558.0L736.0 560.0L736.0 562.0L736.0 564.0L736.0 566.0L736.0 568.0L736.0 570.0L736.0 572.0L736.0 574.0L736.0 576.0L736.0 578.0L736.0 580.0L736.0 582.0L736.0 584.0L736.0 586.0L736.0 588.0L736.0 590.0L736.0 592.0L736.0 594.0L736.0 596.0L736.0 598.0L736.0 600.0L736.0 602.0L736.0 604.0L736.0 606.0L736.0 608.0L736.0 610.0L736.0 612.0L736.0 614.0L736.0 616.0L734.0 616.0L732.0 616.0L730.0 616.0L728.0 616.0L726.0 616.0L724.0 616.0L722.0 616.0L720.0 616.0L718.0 616.0L716.0 616.0L714.0 616.0L712.0 616.0L710.0 616.0L708.0 616.0L706.0 616.0L704.0 616.0L702.0 616.0L700.0 616.0L698.0 616.0L696.0 616.0L694.0 616.0L692.0 616.0L690.0 616.0L688.0 616.0L686.0 616.0L684.0 616.0L682.0 616.0L680.0 616.0L678.0 616.0L676.0 616.0L674.0 616.0L672.0 616.0L670.0 616.0L668.0 616.0L666.0 616.0L664.0 616.0L662.0 616.0L660.0 616.0L658.0 616.0L656.0 616.0L654.0 616.0L652.0 616.0L650.0 616.0L648.0 616.0L646.0 616.0L644.0 616.0L642.0 616.0L640.0 616.0L638.0 616.0L636.0 616.0L634.0 616.0L632.0 616.0L630.0 616.0L628.0 616.0L626.0 616.0L624.0 616.0L622.0 616.0L620.0 616.0L618.0 616.0L616.0 616.0L614.0 616.0L612.0 616.0L610.0 616.0L608.0 616.0L606.0 616.0L604.0 616.0L602.0 616.0L600.0 616.0L598.0 616.0L596.0 616.0L594.0 616.0L592.0 616.0L590.0 616.0L588.0 616.0L586.0 616.0L584.0 616.0L582.0 616.0L580.0 616.0L578.0 616.0L576.0 616.0L574.0 616.0L572.0 616.0L570.0 616.0L568.0 616.0L566.0 616.0L564.0 616.0L562.0 616.0L560.0 616.0L558.0 616.0L556.0 616.0L554.0 616.0L552.0 616.0L550.0 616.0L548.0 616.0L546.0 616.0L544.0 616.0L542.0 616.0L540.0 616.0L538.0 616.0L536.0 616.0L534.0 616.0L532.0 616.0L530.0 616.0L528.0 616.0L526.0 616.0L524.0 616.0L522.0 616.0L520.0 616.0L518.0 616.0L516.0 616.0L514.0 616.0L512.0 616.0L510.0 616.0L508.0 616.0L506.0 616.0L504.0 616.0L502.0 616.0L500.0 616.0L498.0 616.0L496.0 616.0L494.0 616.0L492.0 616.0L490.0 616.0L488.0 616.0L486.0 616.0L484.0 616.0L482.0 616.0L480.0 616.0L478.0 616.0L476.0 616.0L474.0 616.0L472.0 616.0L470.0 616.0L468.0 616.0L466.0 616.0L464.0 616.0L462.0 616.0L460.0 616.0L458.0 616.0L456.0 616.0L454.0 616.0L452.0 616.0L450.0 616.0L448.0 616.0L446.0 616.0L444.0 616.0L442.0 616.0L440.0 616.0L438.0 616.0L436.0 616.0L434.0 616.0L432.0 616.0L430.0 616.0L428.0 616.0L426.0 616.0L424.0 616.0L422.0 616.0L420.0 616.0L418.0 616.0L416.0 616.0L414.0 616.0L412.0 616.0L410.0 616.0L408.0 616.0L406.0 616.0L404.0 616.0L402.0 616.0L400.0 616.0L398.0 616.0L396.0 616.0L394.0 616.0L392.0 616.0L390.0 616.0L388.0 616.0L386.0 616.0L384.0 616.0L382.0 616.0L380.0 616.0L378.0 616.0L376.0 616.0L374.0 616.0L372.0 616.0L370.0 616.0L368.0 616.0L366.0 616.0L364.0 616.0L362.0 616.0L360.0 616.0L358.0 616.0L356.0 616.0L354.0 616.0L352.0 616.0L350.0 616.0L348.0 616.0L346.0 616.0L344.0 616.0L342.0 616.0L340.0 616.0L338.0 616.0L336.0 616.0L334.0 616.0L332.0 616.0L330.0 616.0L328.0 616.0L326.0 616.0L324.0 616.0L322.0 616.0L320.0 616.0L318.0 616.0L316.0 616.0L314.0 616.0L312.0 616.0L310.0 616.0L308.0 616.0L306.0 616.0L304.0 616.0L302.0 616.0L300.0 616.0L298.0 616.0L296.0 616.0L294.0 616.0L292.0 616.0L290.0 616.0L288.0 616.0L286.0 616.0L284.0 616.0L282.0 616.0L280.0 616.0L278.0 616.0L276.0 616.0L274.0 616.0L272.0 616.0L270.0 616.0L268.0 616.0L266.0 616.0L264.0 616.0L262.0 616.0L260.0 616.0L258.0 616.0L256.0 616.0L254.0 616.0L252.0 616.0L250.0 616.0L248.0 616.0L246.1 616.0L246.0 615.9L245.7 614.0L245.5 612.0L245.2 610.0L244.9 608.0L244.6 606.0L244.4 604.0L244.1 602.0L244.0 601.9L243.7 600.0L243.5 598.0L243.2 596.0L242.9 594.0L242.6 592.0L242.4 590.0L242.1 588.0L242.7 586.0L243.4 584.0L244.0 582.3L244.2 582.0L244.8 580.0L245.6 578.0L246.0 576.6L246.4 576.0L247.0 574.0L247.8 572.0L248.0 570.9L248.5 570.0L249.1 568.0L249.9 566.0L250.0 565.4L250.6 564.0L251.3 562.0L252.0 560.0L252.0 560.0L253.2 558.0L254.0 556.7L254.5 556.0L255.7 554.0L256.0 553.5L257.0 552.0L258.0 550.2L258.2 550.0L259.5 548.0L260.0 547.1L260.8 546.0L261.9 544.0L262.0 543.8L263.3 542.0L264.0 540.7L264.5 540.0L265.7 538.0L266.0 537.5L267.0 536.0L268.0 534.3L268.2 534.0L269.5 532.0L270.0 531.1L270.8 530.0L271.9 528.0L272.0 527.8L273.3 526.0L274.0 524.8L274.6 524.0L275.7 522.0L276.0 521.5L277.0 520.0L278.0 518.3L278.3 518.0L279.5 516.0L280.0 515.2L280.8 514.0L282.0 512.0L282.0 511.9L283.3 510.0L284.0 508.7L284.5 508.0L285.8 506.0L286.0 505.4L286.8 504.0L287.8 502.0L288.0 501.4L288.8 500.0L289.8 498.0L290.0 497.5L290.8 496.0L291.8 494.0L292.0 493.4L292.8 492.0L293.8 490.0L294.0 489.4L294.8 488.0L295.9 486.0L296.0 485.8L297.2 484.0L298.0 482.4L298.3 482.0L299.5 480.0L300.0 479.1L300.7 478.0L301.8 476.0L302.0 475.6L303.0 474.0L304.0 472.2L304.2 472.0L305.3 470.0L306.0 469.0L307.1 468.0L308.0 467.1L309.1 466.0L310.0 465.1L311.1 464.0L312.0 463.0L313.1 462.0L314.0 461.0L315.1 460.0L316.0 459.4L317.1 460.0L318.0 460.9L319.6 462.0L320.0 462.8L320.9 464.0L322.0 465.4L322.5 466.0L324.0 468.0L324.0 468.0L325.5 470.0L326.0 470.5L328.0 471.5L329.0 472.0L330.0 472.6L332.0 473.8L334.0 473.2L336.0 472.4L337.0 472.0L338.0 471.6L340.0 470.0L340.0 470.0L342.0 468.5L342.6 468.0L344.0 466.9L345.1 466.0L346.0 465.4L347.7 464.0L348.0 463.8L350.0 462.1L350.1 462.0L352.0 460.6L352.7 460.0L354.0 458.9L355.1 458.0L356.0 457.3L357.6 456.0L358.0 455.7L360.0 454.0L360.0 454.0L362.0 452.4L362.5 452.0L364.0 450.8L365.0 450.0L366.0 449.2L367.5 448.0L368.0 447.6L369.9 446.0L370.0 445.9L371.7 444.0L372.0 443.7L373.5 442.0L374.0 441.4L375.3 440.0L376.0 439.1L377.0 438.0L378.0 436.8L378.8 436.0L380.0 434.5L380.5 434.0L382.0 432.2L382.2 432.0L384.0 430.0L384.0 430.0L385.8 428.0L386.0 427.8L387.6 426.0L388.0 425.6L389.5 424.0L390.0 423.5L391.4 422.0L392.0 421.3L393.2 420.0L394.0 419.1L395.1 418.0L396.0 417.0L396.9 416.0L398.0 414.8L398.8 414.0L400.0 412.6L400.6 412.0L402.0 410.5L402.5 410.0L404.0 408.3L404.3 408.0L406.0 406.2L406.2 406.0L408.0 404.0L408.0 402.0L408.0 400.0L408.0 399.4L408.0 398.0L408.0 396.0L408.0 394.0L408.0 392.0L408.0 390.0L408.0 388.0L408.0 387.6L408.0 386.0L406.8 384.0L406.0 382.7L405.6 382.0L404.4 380.0L404.0 379.4L403.2 378.0L402.0 376.1L401.9 376.0L400.8 374.0L400.0 372.8L399.6 372.0L398.4 370.0L398.0 369.4L397.2 368.0L396.0 366.0L396.0 366.0L395.4 364.0L394.8 362.0L394.2 360.0L394.0 359.8L393.5 358.0L392.9 356.0L392.3 354.0L392.0 353.5L391.7 352.0L391.1 350.0L391.2 348.0L391.3 346.0L391.4 344.0L391.5 342.0L391.6 340.0L391.8 338.0L391.9 336.0L392.0 334.3L392.1 334.0L392.4 332.0L392.7 330.0L393.0 328.0L393.4 326.0L393.7 324.0L394.0 322.0L394.0 322.0L395.0 320.0L396.0 318.0L396.0 317.9L397.0 316.0L398.0 314.0L398.0 314.0L399.9 312.0L400.0 311.9L401.8 310.0L402.0 309.8L403.8 308.0L404.0 307.8L405.9 306.0L406.0 305.9L407.8 304.0L408.0 303.8L409.8 302.0L410.0 301.8L412.0 300.0L412.0 300.0L414.0 299.4L416.0 298.8L418.0 298.2L418.3 298.0L420.0 297.6L422.0 296.9L424.0 296.4L424.9 296.0L426.0 295.8L428.0 295.4L430.0 295.0L432.0 294.6L434.0 294.4L434.7 294.0L436.0 293.8L438.0 293.1L440.0 292.6L441.4 292.0L442.0 291.9L444.0 291.3L446.0 290.6L447.0 290.0L448.0 289.6L450.0 288.7L451.3 288.0L452.0 287.8L454.0 286.8L455.5 286.0L456.0 285.8L458.0 284.9L459.9 284.0L460.0 284.0L462.0 282.7L463.1 282.0L464.0 281.5L466.0 280.2L466.3 280.0L468.0 279.0L469.5 278.0L470.0 277.7L472.0 276.5L472.7 276.0L474.0 275.2L476.0 274.0L476.0 274.0L478.0 273.3L480.0 272.7L482.0 272.0L482.0 272.0L484.0 271.3L486.0 270.7L488.0 270.0L490.0 270.5L492.0 271.0L494.0 271.5L496.0 271.9L498.0 271.4L500.0 271.0L502.0 270.5L503.7 270.0L502.0 269.3L500.0 268.6L498.0 268.0L498.0 268.0L496.0 267.4L494.0 266.8L492.1 266.0L493.7 264.0L494.0 263.8L495.8 262.0L496.0 261.8L497.9 260.0L498.0 259.9L499.8 258.0L500.0 257.8L501.8 256.0L502.0 255.8L504.0 254.0L504.0 254.0L506.0 253.0L507.9 252.0L508.0 252.0L510.0 251.0L511.9 250.0L512.0 249.9L513.9 248.0L514.0 247.9L515.8 246.0L516.0 245.9L517.9 244.0L518.0 243.9L519.9 242.0L520.0 241.9L521.8 240.0L522.0 239.9L523.9 238.0L524.0 237.9L525.9 236.0L526.0 235.9L527.8 234.0L528.0 233.9L529.8 232.0L530.0 231.8L532.0 230.0L532.0 230.0L534.0 229.0L535.8 228.0L536.0 227.9L538.0 227.0L539.8 226.0L540.0 225.9L542.0 225.0L543.8 224.0L544.0 223.9L546.0 223.0L548.0 222.0L548.0 222.0L550.0 221.4L552.0 220.8L554.0 220.3L554.4 220.0L556.0 219.6L558.0 219.0L560.0 218.5L561.0 218.0L562.0 217.8L564.0 217.2L566.0 216.6L568.0 216.1L570.0 216.6L572.0 217.2L574.0 217.8L575.0 218.0L576.0 218.5L578.0 219.0L580.0 219.6L581.6 220.0L582.0 220.3L584.0 220.8L586.0 221.4L588.0 222.0L588.0 222.0L588.0 222.0L590.0 221.8L592.0 221.5L594.0 221.3L596.0 221.1L598.0 220.8L600.0 220.6L602.0 220.4L603.8 220.0L604.0 220.0L606.0 219.4L608.0 218.9L610.0 218.4L611.3 218.0L612.0 217.9L614.0 217.3L616.0 216.8L618.0 216.3L618.9 216.0L620.0 215.8L622.0 215.2L624.0 214.7L626.0 214.3L626.5 214.0L628.0 212.5L628.3 212.0L630.0 210.1L630.1 210.0L631.8 208.0L632.0 207.8L633.6 206.0L634.0 205.6L635.4 204.0L636.0 203.3L637.1 202.0L638.0 201.2L640.0 200.3L640.4 200.0L642.0 199.2L644.0 198.2L644.3 198.0L646.0 197.2L648.0 196.3L648.4 196.0L650.0 195.2L652.0 194.3L652.3 194.0L654.0 193.3L656.0 192.3L656.5 192.0L658.0 191.6L660.0 191.1L662.0 190.6L664.0 190.2L664.3 190.0L666.0 189.6L668.0 189.1L670.0 188.6L672.0 188.1L672.1 188.0L674.0 187.5L676.0 187.0L678.0 186.7L680.0 186.4L682.0 186.2L682.5 186.0Z"/></g>
<g fill="none" stroke="#d0d0d0" stroke-width="1.5"><path d="M108.0 58.0L110.0 59.2L111.1 60.0L112.0 60.4L114.0 61.7L114.4 62.0L116.0 62.9L117.6 64.0L118.0 64.2L120.0 65.3L121.0 66.0L122.0 66.6L124.0 67.9L124.2 68.0L126.0 69.1L126.7 70.0L128.0 72.0L128.0 72.0L129.6 74.0L130.0 74.6L131.1 76.0L132.0 77.3L132.5 78.0L134.0 80.0L134.0 80.0L136.0 81.2L137.4 82.0L138.0 82.3L140.0 83.4L140.9 84.0L142.0 84.6L144.0 85.7L144.4 86.0L146.0 86.9L148.0 88.0L148.0 88.0L150.0 88.5L152.0 89.1L154.0 89.6L154.9 90.0L156.0 90.2L158.0 90.8L160.0 91.3L162.0 91.8L162.2 92.0L164.0 92.4L166.0 93.0L168.0 93.1L170.0 93.3L172.0 93.5L174.0 93.5L175.6 94.0L176.0 94.0L176.1 94.0L177.4 92.0L177.8 90.0L176.6 88.0L176.0 87.6L174.0 86.2L173.6 86.0L172.0 84.8L170.6 84.0L170.0 83.4L168.2 82.0L170.0 81.4L172.0 81.1L174.0 81.4L176.0 81.8L177.1 82.0L178.0 82.1L180.0 82.3L182.0 82.5L184.0 82.7L186.0 82.8L187.5 84.0L188.0 84.4L188.7 86.0L190.0 87.8L192.0 87.7L194.0 87.6L196.0 87.7L198.0 87.8L200.0 87.6L202.0 87.2L204.0 86.9L206.0 86.5L208.0 86.1L209.3 86.0L210.0 85.7L212.0 85.4L214.0 85.1L216.0 84.7L218.0 84.3L220.0 84.0L220.0 84.0L221.5 82.0L222.0 81.0L222.7 80.0L224.0 78.1L225.1 78.0L226.0 77.8L228.0 77.7L230.0 77.6L232.0 77.5L234.0 77.4L236.0 77.4L238.0 77.4L240.0 77.5L242.0 77.5L244.0 77.6L246.0 77.7L248.0 77.9L248.0 78.0L250.0 78.5L252.0 79.1L254.0 79.5L254.9 80.0L256.0 80.2L258.0 80.7L260.0 81.3L262.0 81.8L262.3 82.0L264.0 82.4L266.0 82.9L268.0 83.4L270.0 83.2L272.0 82.9L274.0 82.6L276.0 82.3L278.0 82.0L278.0 82.0L280.0 81.0L282.0 80.1L282.3 80.0L284.0 79.1L286.0 78.1L286.4 78.0L288.0 77.1L290.0 76.2L290.6 76.0L292.0 75.2L294.0 74.2L294.8 74.0L296.0 72.3L296.2 72.0L296.0 70.1L294.0 71.5L293.6 70.0L294.0 69.8L296.0 70.0L296.0 70.0L298.0 70.4L300.0 70.7L302.0 70.9L304.0 71.1L306.0 71.3L308.0 71.5L310.0 71.7L312.0 71.8L312.5 72.0L314.0 73.5L314.2 74.0L315.5 76.0L314.0 76.4L312.0 77.1L310.0 77.4L308.0 76.9L307.6 78.0L308.0 78.4L310.0 78.2L312.0 78.2L314.0 78.2L316.0 78.1L317.5 78.0L318.0 77.5L320.0 77.6L322.0 77.6L324.0 77.5L326.0 77.5L328.0 77.4L330.0 77.3L332.0 77.3L334.0 76.7L335.6 76.0L336.0 75.6L338.0 74.7L339.5 74.0L340.0 73.5L342.0 73.0L344.0 72.4L345.5 72.0L346.0 71.6L348.0 71.3L350.0 70.5L351.5 70.0L352.0 69.6L354.0 68.8L356.0 68.0L356.1 68.0L358.0 67.2L360.0 66.3L361.1 66.0L362.0 65.4L364.0 64.6L366.0 64.0L366.0 63.9L368.0 64.0L370.0 63.7L372.0 63.7L374.0 63.6L376.0 63.6L378.0 63.6L380.0 63.4L380.9 64.0L382.0 64.6L384.0 66.0L384.0 66.0L386.0 66.6L388.0 67.1L390.0 67.7L391.7 68.0L392.0 68.1L394.0 69.3L394.5 70.0L396.0 71.1L396.9 72.0L396.2 74.0L396.0 74.6L395.2 76.0L394.3 78.0L394.0 78.4L392.0 79.6L391.3 80.0L390.0 80.7L388.0 81.8L387.8 82.0L386.0 82.9L384.6 84.0L384.0 84.4L382.2 86.0L382.0 86.1L380.0 87.8L379.8 88.0L378.0 89.5L377.5 90.0L376.0 91.8L375.9 92.0L375.0 94.0L374.1 96.0L374.0 96.0L372.7 98.0L374.0 99.0L376.0 100.0L376.0 100.0L378.0 100.8L380.0 100.8L382.0 100.8L384.0 100.8L386.0 100.8L388.0 100.8L390.0 100.4L391.5 100.0L392.0 99.5L394.0 98.9L396.0 98.2L396.9 98.0L398.0 97.4L400.0 96.7L401.0 96.0L402.0 95.4L402.5 96.0L402.0 96.7L401.0 98.0L400.0 99.1L399.5 100.0L398.0 101.2L397.7 102.0L398.0 102.3L399.0 104.0L400.0 104.9L402.0 105.1L404.0 104.9L406.0 104.8L408.0 104.6L410.0 104.5L411.7 104.0L412.0 103.8L414.0 103.0L416.0 102.2L416.8 102.0L418.0 101.4L420.0 100.6L421.7 100.0L422.0 99.7L424.0 99.1L426.0 98.3L427.1 98.0L428.0 97.5L430.0 96.8L432.0 96.0L432.3 96.0L434.0 95.3L436.0 94.8L438.0 94.2L438.9 94.0L440.0 93.5L442.0 93.0L444.0 92.4L445.0 92.0L445.4 90.0L445.8 88.0L446.0 87.6L446.3 86.0L446.7 84.0L447.1 82.0L447.5 80.0L448.0 78.3L448.1 78.0L450.0 76.6L450.9 76.0L452.0 75.2L453.9 74.0L454.0 73.9L456.0 72.4L456.7 72.0L458.0 71.0L460.0 70.5L462.0 70.1L462.5 70.0L464.0 69.5L466.0 69.1L468.0 68.7L470.0 68.2L471.2 68.0L472.0 67.6L474.0 67.2L476.0 66.8L478.0 66.3L479.7 66.0L480.0 65.8L482.0 65.4L484.0 64.9L486.0 64.5L487.9 64.0L488.0 64.0L489.0 62.0L490.0 60.1L490.0 60.0L491.0 58.0L491.9 56.0"/><path d="M108.0 456.7L108.8 458.0L110.0 459.8L112.0 459.0L114.0 458.0L114.1 458.0L116.0 457.0L118.0 456.0L118.0 456.0L118.8 454.0L119.5 452.0L120.0 450.9L120.2 450.0L121.0 448.0L121.7 446.0L122.0 445.5L122.5 444.0L123.3 442.0L124.0 440.1L124.0 440.0L125.2 438.0L126.0 436.8L126.4 436.0L127.6 434.0L128.0 433.5L128.8 432.0L130.0 430.2L130.1 430.0L131.2 428.0L132.0 426.8L132.4 426.0L133.6 424.0L134.0 423.5L134.8 422.0L136.0 420.1L136.1 420.0L137.5 418.0L138.0 417.5L139.0 416.0L140.0 414.8L140.5 414.0L142.0 412.1L142.1 412.0L143.5 410.0L144.0 409.5L145.0 408.0L146.0 406.8L146.5 406.0L148.0 404.0L148.0 404.0L148.6 402.0L149.2 400.0L149.8 398.0L150.0 397.8L150.5 396.0L151.1 394.0L151.6 392.0L152.0 391.5L152.3 390.0L152.9 388.0L152.6 386.0L152.3 384.0L152.0 382.1L151.9 382.0L151.6 380.0L151.3 378.0L150.8 376.0L150.0 375.5L148.0 374.7L146.6 374.0L146.0 373.8L144.0 372.9L142.1 372.0L142.0 372.0L140.0 371.0L138.2 370.0L138.0 369.9L136.0 369.0L134.2 368.0L134.0 367.9L132.0 367.0L130.1 366.0L130.0 365.7L129.6 364.0L129.3 362.0L129.0 360.0L128.6 358.0L128.3 356.0L128.0 354.1L128.0 354.0L127.6 352.0L127.3 350.0L127.0 348.0L127.1 346.0L127.3 344.0L127.5 342.0L127.7 340.0L127.8 338.0L128.0 336.6L130.0 336.0L130.0 336.0L132.0 336.0L134.0 334.7L135.0 334.0L136.0 333.4L138.0 332.0L138.1 332.0L140.0 330.7L141.0 330.0L142.0 329.4L144.0 328.0L144.0 328.0L146.0 326.1L146.1 326.0L148.0 324.2L148.1 324.0L150.0 322.2L150.1 322.0L152.0 320.1L152.1 320.0L154.0 318.1L154.1 318.0L156.0 316.1L156.1 316.0L158.0 314.2L158.1 314.0L160.0 312.2L160.1 312.0L162.0 310.1L162.1 310.0L164.0 308.1L164.0 308.0L165.7 306.0L166.0 305.7L167.3 304.0L168.0 303.2L169.0 302.0L170.0 300.8L170.6 300.0L172.0 298.5L172.4 298.0L174.0 296.1L174.0 296.0L175.5 294.0L176.0 293.4L177.0 292.0L178.0 290.7L178.5 290.0L180.0 288.1L180.0 288.0L181.5 286.0L182.0 285.4L183.0 284.0L184.0 282.7L184.5 282.0L186.0 280.1L186.1 280.0L188.0 278.4L188.4 278.0L190.0 276.7L190.8 276.0L192.0 275.0L193.2 274.0L194.0 273.3L195.7 272.0L196.0 271.8L198.0 270.0L198.0 270.0L198.3 268.0L198.7 266.0L199.0 264.0L199.3 262.0L199.7 260.0L200.0 258.3L202.0 258.3L204.0 258.6L206.0 258.8L208.0 259.1L210.0 259.4L212.0 259.6L214.0 259.8L214.7 258.0L215.3 256.0L216.0 254.0L216.0 254.0L216.7 252.0L217.3 250.0L218.0 248.1L218.0 248.0L218.8 246.0L219.6 244.0L220.0 243.1L220.4 242.0L221.2 240.0L222.0 238.1L222.0 238.0L222.8 236.0L223.6 234.0L224.0 233.2L226.0 232.5L228.0 232.0L228.0 232.0L230.0 231.5L232.0 231.0L234.0 230.5L236.0 230.0L236.0 230.0L238.0 229.5L240.0 229.0L242.0 228.5L244.0 228.0L244.0 228.0L246.0 227.5L248.0 227.0L249.8 226.0L250.0 225.8L252.0 224.6L253.1 224.0L254.0 223.4L256.0 222.2L256.4 222.0L258.0 221.0L260.0 220.0L260.1 220.0L262.0 219.0L264.0 218.0L264.1 218.0L266.0 217.0L268.0 216.0L268.1 216.0L270.0 215.6L272.0 215.2L274.0 214.8L276.0 214.4L278.0 214.0L280.0 215.0L281.9 216.0L282.0 216.1L282.9 218.0L284.0 219.8L286.0 219.6L288.0 219.4L290.0 219.2L292.0 218.4L292.5 218.0L294.0 216.7L295.0 216.0L296.0 215.2L297.9 214.0L298.0 213.9L300.0 212.3L300.5 212.0L302.0 210.8L303.0 210.0L304.0 209.0L304.9 208.0L306.0 206.8L306.7 206.0L308.0 204.6L308.5 204.0L310.0 202.5L310.4 202.0L312.0 200.3L312.3 200.0L314.0 198.1L314.1 198.0L316.0 196.0L316.0 195.9L317.7 194.0L318.0 193.7L319.4 192.0L320.0 191.4L321.3 190.0L322.0 189.1L323.0 188.0L324.0 187.2L325.4 186.0L326.0 185.4L327.8 184.0L328.0 183.8L330.0 182.1L330.0 182.0L331.5 180.0L332.0 179.3L332.9 178.0L334.0 176.5L334.3 176.0L335.8 174.0L336.0 173.8L337.1 172.0L338.0 170.9L338.7 170.0L339.5 168.0L338.0 167.8L336.1 168.0L336.0 168.0L335.4 168.0L334.0 168.0L333.3 168.0L332.0 168.1L330.0 169.7L329.6 168.0L330.0 167.6L331.5 166.0L332.0 165.5L333.4 164.0L334.0 163.4L335.2 162.0L336.0 161.2L337.0 160.0L338.0 159.2L339.1 160.0L340.0 160.9L340.8 162.0L342.0 162.8L343.2 162.0L344.0 161.5L345.7 160.0L346.0 159.7L348.0 158.1L348.2 158.0L350.0 156.3L350.5 156.0L352.0 154.7L352.8 154.0L354.0 153.1L356.0 153.6L356.8 154.0L358.0 154.3L360.0 154.9L362.0 154.0L362.1 154.0L364.0 153.0L366.0 152.1L366.2 152.0L368.0 151.0L370.0 150.0L370.1 150.0L372.0 149.0L374.0 148.1L374.1 148.0L376.0 147.0L378.0 146.0L378.1 146.0L380.0 145.0L382.0 144.0L382.1 144.0L384.0 143.0L386.0 142.0L386.1 142.0L388.0 141.0L390.0 140.0L390.0 140.0L392.0 139.4L394.0 138.8L396.0 138.1L398.0 138.1L400.0 138.5L402.0 138.7L404.0 139.0L406.0 139.6L406.2 140.0L406.4 142.0L406.7 144.0L407.0 146.0L407.7 148.0L408.0 148.1L408.7 148.0L410.0 147.4L412.0 147.3L414.0 147.0L416.0 146.8L418.0 146.1L418.3 146.0L420.0 145.1L422.0 144.1L422.3 144.0L424.0 143.0L426.0 142.1L426.2 142.0L428.0 141.0L430.0 140.0L430.1 140.0L432.0 139.2L434.0 138.4L435.3 138.0L436.0 137.5L438.0 136.8L440.0 136.0L440.2 136.0L442.0 135.2L444.0 134.4L444.9 134.0L446.0 132.9L446.7 132.0L448.0 130.5L448.4 130.0L450.0 128.0L448.4 126.0L448.0 125.4L446.8 124.0L446.0 123.1L444.0 123.2L442.0 123.4L440.0 123.6L438.0 123.8L436.4 124.0L436.0 124.1L434.0 124.3L432.0 124.5L430.0 124.7L428.0 124.9L426.0 125.1L424.0 125.3L422.0 125.5L420.0 125.7L418.0 125.5L416.0 125.2L414.0 125.0L412.0 124.7L410.0 124.7L408.8 124.0L408.7 122.0L408.4 120.0L408.4 118.0L408.0 117.4L407.8 116.0L407.9 114.0L408.0 113.9L410.0 113.0L411.1 112.0L412.0 111.5L413.9 110.0L414.0 109.9L416.0 108.7L416.8 108.0L418.0 107.3L419.6 106.0L420.0 105.8L422.0 105.3L424.0 104.8L426.0 104.4L427.0 104.0L428.0 103.9L430.0 103.3L432.0 102.9L434.0 102.4L435.0 102.0L436.0 101.9L438.0 101.4L440.0 100.9L442.0 100.4L443.0 100.0L444.0 99.9L446.0 99.5L448.0 99.4L450.0 99.2L452.0 99.0L454.0 98.7L456.0 98.3L457.3 98.0L458.0 97.9L460.0 97.6L462.0 97.2L464.0 96.8L466.0 96.5L468.0 96.1L468.4 96.0L470.0 95.7L472.0 95.4L474.0 95.1L476.0 95.8L476.5 96.0L478.0 96.6L480.0 97.4L481.4 98.0L482.0 98.2L484.0 98.9L486.0 98.4L487.6 98.0L488.0 97.8L490.0 97.3L492.0 96.7L494.0 96.1L494.4 96.0L496.0 95.5L498.0 94.9L500.0 94.3L501.3 94.0L502.0 93.7L504.0 93.2L506.0 92.6L508.0 92.0L508.0 92.0L510.0 90.1L510.2 90.0L512.0 88.2L512.2 88.0L514.0 86.1L514.1 86.0L516.0 84.1L516.1 84.0L518.0 82.1L518.2 82.0L520.0 80.1L520.1 80.0L522.0 78.0L522.0 78.0L523.6 76.0L524.0 75.4L525.0 74.0L526.0 72.7L526.6 72.0L528.0 70.1L528.3 70.0L530.0 69.6L532.0 69.3L534.0 69.0L536.0 68.6L538.0 68.3L539.9 68.0L540.0 67.9L540.1 68.0L542.0 68.2L544.0 68.5L546.0 68.7L548.0 69.0L550.0 69.2L552.0 69.3L553.8 70.0L554.0 70.0L554.2 70.0L554.1 68.0L554.0 67.9L552.0 66.7L551.1 66.0L550.0 64.9L548.7 64.0L548.0 63.3L546.4 62.0L546.0 61.4L544.1 60.0L546.0 58.2L546.1 58.0L547.9 56.0"/><path d="M108.0 496.1L110.0 496.7L112.0 497.3L113.9 498.0L114.0 498.2L114.4 500.0L114.7 502.0L115.1 504.0L115.5 506.0L115.9 508.0L116.0 508.7L116.3 510.0L116.0 511.5L116.0 512.0L116.0 513.0L117.0 512.0L118.0 511.9L118.4 510.0L119.2 508.0L120.0 506.1L120.0 506.0L121.2 504.0L122.0 502.6L122.3 502.0L123.4 500.0L124.0 499.1L124.6 498.0L125.7 496.0L126.0 495.6L126.9 494.0L128.0 492.0L128.0 492.0L128.9 490.0L129.7 488.0L130.0 487.5L130.6 486.0L131.5 484.0L132.0 483.0L132.4 482.0L133.3 480.0L134.0 478.4L134.1 478.0L135.0 476.0L135.7 474.0L136.0 473.4L136.5 472.0L137.2 470.0L138.0 468.0L138.0 468.0L139.0 466.0L140.0 464.0L140.0 464.0L141.0 462.0L142.0 460.0L142.0 460.0L143.0 458.0L144.0 456.0L144.0 456.0L145.0 454.0L146.0 452.0L146.0 452.0L147.2 450.0L148.0 448.7L148.4 448.0L149.6 446.0L150.0 445.3L150.8 444.0L152.0 442.0L152.0 442.0L153.2 440.0L154.0 438.7L154.4 438.0L155.6 436.0L156.0 435.3L156.8 434.0L158.0 432.0L158.0 431.9L158.3 430.0L158.7 428.0L159.0 426.0L159.3 424.0L159.7 422.0L160.0 420.0L160.0 420.0L161.3 418.0L162.0 417.0L162.7 416.0L164.0 414.0L164.0 414.0L165.3 412.0L166.0 411.0L166.7 410.0L168.0 408.0L168.0 408.0L170.0 406.0L170.0 406.0L172.0 404.0L172.0 404.0L174.0 402.0L174.0 402.0L176.0 400.0L176.0 400.0L178.0 398.0L178.0 398.0L180.0 396.0L180.0 396.0L182.0 394.0L182.0 394.0L184.0 392.1L184.1 392.0L186.0 390.1L186.1 390.0L188.0 388.0L188.0 388.0L190.0 386.1L190.1 386.0L192.0 384.1L192.1 384.0L194.0 382.1L194.1 382.0L196.0 380.0L196.0 380.0L198.0 378.1L198.1 378.0L200.0 376.1L200.1 376.0L202.0 374.1L202.1 374.0L204.0 372.0L204.0 372.0L204.8 370.0L205.5 368.0L206.0 366.8L206.2 366.0L207.0 364.0L207.7 362.0L208.0 361.5L208.5 360.0L209.3 358.0L210.0 356.0L210.0 356.0L210.4 354.0L210.8 352.0L211.2 350.0L211.6 348.0L212.0 346.1L212.0 346.0L213.0 344.0L214.0 342.1L214.0 342.0L215.0 340.0L216.0 338.1L216.0 338.0L217.0 336.0L217.8 334.0L218.0 333.7L218.7 332.0L219.5 330.0L220.0 328.9L220.3 328.0L221.2 326.0L222.0 324.0L222.0 324.0L223.1 322.0L224.0 320.6L224.3 320.0L225.4 318.0L226.0 317.0L226.6 316.0L227.7 314.0L228.0 313.6L228.9 312.0L230.0 310.0L229.5 308.0L229.0 306.0L228.5 304.0L228.0 302.0L228.0 302.0L227.0 300.0L226.0 298.0L226.0 298.0L225.0 296.0L224.0 294.0L225.1 292.0L226.0 290.5L226.3 290.0L227.4 288.0L228.0 287.0L228.6 286.0L229.7 284.0L230.0 283.5L230.8 282.0L232.0 280.0L232.0 280.0L233.7 278.0L234.0 277.6L235.4 276.0L236.0 275.3L237.1 274.0L238.0 273.0L238.9 272.0L240.0 270.7L240.6 270.0L242.0 268.3L242.3 268.0L244.0 266.0L244.0 266.0L246.0 265.0L248.0 264.0L248.0 264.0L250.0 263.0L252.0 262.0L252.0 262.0L254.0 261.0L256.0 260.0L256.0 260.0L258.0 259.0L260.0 258.0L260.0 258.0L262.0 257.0L264.0 256.0L264.1 256.0L266.0 255.0L268.0 254.0L268.0 254.0L270.0 252.3L270.4 252.0L272.0 250.6L272.7 250.0L274.0 248.9L275.1 248.0L276.0 247.2L277.5 246.0L278.0 245.5L279.9 244.0L280.0 243.9L282.0 242.2L282.2 242.0L284.0 240.5L284.5 240.0L286.0 238.8L286.9 238.0L288.0 237.0L289.2 236.0L290.0 235.4L291.6 234.0L292.0 233.7L294.0 232.0L294.0 232.0L296.0 230.3L296.3 230.0L298.0 228.6L298.6 228.0L300.0 226.9L301.0 226.0L302.0 225.1L303.1 224.0L304.0 223.2L305.2 222.0L306.0 221.3L307.4 220.0L308.0 219.4L309.5 218.0L310.0 217.5L311.6 216.0L312.0 215.6L313.7 214.0L314.0 213.8L315.9 212.0L316.0 211.9L318.0 210.0L318.0 210.0L320.0 208.6L320.8 208.0L322.0 207.1L323.6 206.0L324.0 205.7L326.0 204.3L326.4 204.0L328.0 202.9L329.2 202.0L330.0 201.4L332.0 200.0L332.0 200.0L333.9 198.0L334.0 197.9L335.7 196.0L336.0 195.7L337.5 194.0L338.0 193.5L339.3 192.0L340.0 191.3L341.2 190.0L342.0 189.1L343.0 188.0L344.0 186.8L344.6 186.0L346.0 184.3L346.2 184.0L347.9 182.0L348.0 181.8L349.4 180.0L350.0 179.3L351.0 178.0L352.0 176.8L352.6 176.0L354.0 174.3L354.2 174.0L356.0 172.4L356.7 172.0L358.0 171.2L360.0 170.0L360.0 170.0L362.0 168.8L363.3 168.0L364.0 167.6L366.0 166.4L366.7 166.0L368.0 165.2L369.9 164.0L370.0 164.0L372.0 162.8L373.3 162.0L374.0 161.6L376.0 160.4L376.6 160.0L378.0 159.2L380.0 158.0L382.0 159.0L384.0 160.0L384.0 160.1L384.6 162.0L385.1 164.0L385.6 166.0L386.0 166.7L388.0 167.0L390.0 167.0L392.0 167.0L394.0 167.0L396.0 166.7L398.0 166.1L398.7 166.0L400.0 165.6L402.0 165.0L404.0 164.5L405.8 164.0L406.0 163.9L408.0 163.4L410.0 162.8L412.0 162.2L413.0 162.0L414.0 161.7L416.0 161.1L418.0 160.6L420.0 160.0L420.0 160.0L422.0 158.5L422.7 158.0L424.0 157.0L425.4 156.0L426.0 155.5L428.0 154.0L428.0 154.0L430.0 153.3L432.0 152.6L433.7 152.0L434.0 151.9L436.0 151.2L438.0 150.5L439.4 150.0L440.0 149.8L442.0 149.1L444.0 148.4L445.2 148.0L446.0 147.7L448.0 147.0L449.7 146.0L450.0 145.8L452.0 144.6L453.0 144.0L454.0 143.4L456.0 142.2L456.4 142.0L458.0 141.0L459.7 140.0L460.0 139.8L462.0 138.6L463.0 138.0L464.0 137.4L466.0 136.2L466.4 136.0L468.0 135.0L469.0 134.0L470.0 132.9L470.8 132.0L472.0 130.8L472.7 130.0L474.0 128.7L474.6 128.0L476.0 126.6L476.5 126.0L478.0 124.5L478.4 124.0L480.0 122.3L480.3 122.0L482.0 120.2L482.2 120.0L484.0 118.1L484.1 118.0L486.0 116.3L486.4 116.0L488.0 114.6L488.7 114.0L490.0 112.9L491.0 112.0L492.0 111.1L493.3 110.0L494.0 109.4L495.7 108.0L496.0 107.7L498.0 106.0L498.0 106.0L500.0 104.6L500.8 104.0L502.0 103.2L503.7 102.0L504.0 101.8L506.0 100.4L506.5 100.0L508.0 99.0L509.4 98.0L510.0 97.6L512.0 96.2L512.2 96.0L514.0 94.8L515.1 94.0L516.0 93.4L518.0 92.0L518.0 92.0L520.0 91.0L521.9 90.0L522.0 90.0L524.0 89.0L526.0 88.0L526.0 88.0L528.0 87.0L530.0 86.0L530.0 86.0L532.0 85.0L534.0 84.0L534.0 84.0L536.0 83.0L538.0 82.0L538.0 82.0L540.0 81.0L542.0 80.0L542.0 80.0L544.0 79.0L546.0 78.0L546.0 78.0L548.0 77.0L550.0 76.0L550.0 76.0L552.0 75.0L553.9 74.0L554.0 74.0L556.0 73.0L558.0 72.0L558.0 72.0L560.0 71.2L562.0 70.4L563.1 70.0L564.0 69.6L566.0 68.8L568.0 68.0L568.1 68.0L570.0 67.2L572.0 66.4L573.1 66.0L574.0 65.6L576.0 64.8L578.0 64.0L578.1 64.0L580.0 63.2L582.0 62.4L583.2 62.0L584.0 61.5L586.0 60.8L588.0 60.0L588.0 60.0L590.0 59.0L592.0 58.0L592.1 58.0L594.0 57.0L595.9 56.0"/><path d="M108.0 546.0L110.0 544.1L110.1 544.0L112.0 542.1L112.1 542.0L114.0 540.1L114.1 540.0L116.0 538.1L116.1 538.0L118.0 536.0L118.0 536.0L119.4 534.0L120.0 533.3L120.8 532.0L122.0 530.4L122.3 530.0L123.7 528.0L124.0 527.6L125.1 526.0L126.0 524.8L126.6 524.0L128.0 522.0L128.0 522.0L129.5 520.0L130.0 519.4L131.1 518.0L132.0 516.8L132.6 516.0L134.0 514.2L134.2 514.0L135.7 512.0L136.0 511.6L137.2 510.0L138.0 509.0L138.8 508.0L140.0 506.4L140.3 506.0L141.9 504.0L142.0 503.8L143.4 502.0L144.0 501.2L144.9 500.0L146.0 498.6L146.5 498.0L148.0 496.0L148.0 496.0L149.4 494.0L150.0 493.2L150.8 492.0L152.0 490.3L152.2 490.0L153.6 488.0L154.0 487.4L155.0 486.0L156.0 484.6L156.4 484.0L157.8 482.0L158.0 481.7L159.2 480.0L160.0 478.9L160.6 478.0L162.0 476.0L162.0 476.0L164.0 474.4L164.5 474.0L166.0 472.8L167.0 472.0L168.0 471.2L169.5 470.0L170.0 469.6L172.0 468.0L172.0 468.0L173.2 466.0L174.0 464.7L174.4 464.0L175.6 462.0L176.0 461.4L176.8 460.0L178.0 458.1L178.1 458.0L179.2 456.0L180.0 454.7L180.4 454.0L181.6 452.0L182.0 451.4L182.8 450.0L184.0 448.0L184.0 448.0L184.9 446.0L185.7 444.0L186.0 443.5L186.6 442.0L187.5 440.0L188.0 439.0L188.4 438.0L189.3 436.0L190.0 434.4L190.1 434.0L191.0 432.0L191.9 430.0L192.0 429.8L192.8 428.0L193.6 426.0L194.0 425.2L194.5 424.0L195.4 422.0L196.0 420.6L196.2 420.0L197.1 418.0L198.0 416.0L198.0 416.0L198.9 414.0L199.7 412.0L200.0 411.5L200.6 410.0L201.5 408.0L202.0 406.9L202.4 406.0L203.2 404.0L204.0 402.3L204.1 402.0L205.0 400.0L205.9 398.0L206.0 397.7L206.7 396.0L207.6 394.0L208.0 393.2L208.5 392.0L209.4 390.0L210.0 388.6L210.2 388.0L211.1 386.0L212.0 384.0L212.0 384.0L213.4 382.0L214.0 381.2L214.9 380.0L216.0 378.4L216.3 378.0L217.7 376.0L218.0 375.6L219.1 374.0L220.0 372.8L220.6 372.0L222.0 370.0L222.0 370.0L223.4 368.0L224.0 367.2L224.9 366.0L226.0 364.4L226.3 364.0L227.7 362.0L228.0 361.6L229.1 360.0L230.0 358.8L230.6 358.0L232.0 356.0L232.0 356.0L233.2 354.0L234.0 352.7L234.4 352.0L235.6 350.0L236.0 349.4L236.8 348.0L238.0 346.1L238.0 346.0L239.2 344.0L240.0 342.7L240.4 342.0L241.6 340.0L242.0 339.4L242.8 338.0L244.0 336.0L244.0 336.0L245.0 334.0L246.0 332.0L246.0 332.0L247.0 330.0L248.0 328.0L248.0 328.0L249.0 326.0L250.0 324.0L250.0 324.0L251.1 322.0L252.0 320.3L252.1 320.0L253.2 318.0L254.0 316.5L254.3 316.0L255.3 314.0L256.0 312.8L256.4 312.0L257.5 310.0L258.0 309.1L258.7 308.0L260.0 306.3L260.2 306.0L261.7 304.0L262.0 303.6L263.2 302.0L264.0 300.9L264.6 300.0L266.0 298.2L266.1 298.0L267.6 296.0L268.0 295.5L269.0 294.0L270.0 292.8L270.5 292.0L272.0 290.0L272.0 290.0L272.4 288.0L272.8 286.0L273.2 284.0L273.7 282.0L274.0 280.5L274.1 280.0L274.5 278.0L274.9 276.0L275.3 274.0L275.7 272.0L276.0 270.8L276.2 270.0L276.6 268.0L277.0 266.0L278.0 264.7L278.6 264.0L280.0 262.2L280.2 262.0L281.8 260.0L282.0 259.7L283.4 258.0L284.0 257.3L285.0 256.0L286.0 254.8L286.6 254.0L288.0 252.2L288.2 252.0L289.8 250.0L290.0 249.7L291.4 248.0L292.0 247.2L293.0 246.0L294.0 245.1L295.2 244.0L296.0 243.3L297.4 242.0L298.0 241.5L299.7 240.0L300.0 239.7L301.9 238.0L302.0 237.9L304.0 236.1L304.1 236.0L306.0 234.3L306.3 234.0L308.0 232.4L308.5 232.0L310.0 230.6L310.7 230.0L312.0 228.7L312.8 228.0L314.0 226.9L315.1 226.0L316.0 225.3L317.9 224.0L318.0 223.9L320.0 222.5L320.8 222.0L322.0 221.2L323.7 220.0L324.0 219.8L326.0 218.4L326.6 218.0L328.0 217.0L329.0 216.0L330.0 215.0L331.0 214.0L332.0 213.0L333.0 212.0L334.0 211.0L335.0 210.0L336.0 209.0L337.0 208.0L338.0 207.0L338.8 206.0L340.0 204.5L340.4 204.0L342.0 202.0L342.0 202.0L343.4 200.0L344.0 199.0L344.6 198.0L345.8 196.0L346.0 195.7L347.1 194.0L348.0 192.4L348.3 192.0L349.5 190.0L350.0 189.1L350.7 188.0L352.0 186.4L352.4 186.0L354.0 184.5L354.6 184.0L356.0 182.7L356.7 182.0L358.0 180.9L358.8 180.0L360.0 178.9L362.0 179.7L362.9 180.0L364.0 180.8L366.0 180.8L368.0 180.4L369.8 180.0L370.0 180.0L372.0 179.6L374.0 179.2L376.0 178.8L378.0 178.4L380.0 178.0L380.1 178.0L382.0 177.6L384.0 177.2L386.0 177.0L388.0 176.8L390.0 176.7L392.0 176.5L394.0 176.3L396.0 176.2L397.9 176.0L398.0 176.0L400.0 175.2L402.0 174.4L403.0 174.0L404.0 173.6L406.0 172.8L408.0 172.0L408.0 172.0L410.0 171.0L412.0 170.0L412.0 170.0L414.0 169.0L416.0 168.0L416.0 168.0L418.0 167.0L420.0 166.0L420.3 166.0L422.0 165.9L424.0 165.4L426.0 164.7L428.0 164.0L428.0 164.0L430.0 163.6L432.0 163.2L434.0 162.8L436.0 162.4L438.0 162.0L438.0 162.0L440.0 161.6L442.0 161.2L444.0 160.8L446.0 160.4L448.0 160.0L448.0 160.0L450.0 159.1L452.0 158.2L452.5 158.0L454.0 157.3L456.0 156.4L456.9 156.0L458.0 155.5L460.0 154.6L461.4 154.0L462.0 153.7L464.0 152.8L465.8 152.0L466.0 151.9L468.0 151.0L470.0 150.9L472.0 150.8L474.0 150.7L476.0 150.5L478.0 150.4L480.0 150.3L482.0 150.2L484.0 150.1L485.8 150.0L486.0 150.0L488.0 148.8L489.5 148.0L490.0 147.6L492.0 146.4L492.8 146.0L494.0 145.2L496.0 144.0L496.0 144.0L497.3 142.0L498.0 140.9L498.6 140.0L499.9 138.0L500.0 137.9L501.1 136.0L502.0 134.7L502.4 134.0L503.7 132.0L504.0 131.6L504.9 130.0L506.0 128.5L506.2 128.0L507.5 126.0L508.0 125.3L508.7 124.0L510.0 122.0L509.0 120.0L508.0 118.1L506.0 119.1L504.2 120.0L504.0 120.2L502.0 121.3L500.6 122.0L500.0 122.4L498.0 123.4L496.9 124.0L496.0 124.5L494.0 125.6L493.3 126.0L492.0 126.7L490.0 127.7L489.6 128.0L488.0 129.2L486.7 128.0L487.3 126.0L488.0 124.0L488.0 124.0L490.0 122.7L491.2 122.0L492.0 121.6L494.0 120.4L494.5 120.0L496.0 119.2L497.7 118.0L498.0 117.9L500.0 116.8L501.2 116.0L502.0 115.6L504.0 114.4L504.5 114.0L506.0 113.2L507.9 112.0L508.0 112.0L510.0 111.0L511.8 110.0L512.0 109.9L514.0 109.0L515.9 108.0L516.0 108.0L518.0 107.0L519.9 106.0L520.0 106.0L522.0 105.0L523.9 104.0L524.0 104.0L526.0 103.0L528.0 102.0L528.0 102.0L530.0 101.0L531.9 100.0L532.0 100.0L534.0 99.0L535.9 98.0L536.0 98.0L538.0 97.0L539.9 96.0L540.0 96.0L541.9 94.0L542.0 93.9L543.9 92.0L544.0 91.9L545.9 90.0L546.0 89.9L548.0 88.0L548.0 88.0L550.0 86.8L551.3 86.0L552.0 85.6L554.0 84.4L554.6 84.0L556.0 83.2L557.9 82.0L558.0 81.9L560.0 80.8L561.2 80.0L562.0 79.6L564.0 78.4L564.6 78.0L566.0 77.2L567.9 76.0L568.0 76.0L570.0 75.0L571.8 74.0L572.0 73.9L574.0 73.0L575.9 72.0L576.0 71.9L578.0 70.8L580.0 70.1L582.0 70.8L583.7 70.0L582.0 69.0L580.0 70.0L578.0 69.8L576.2 68.0L578.0 67.6L580.0 67.2L582.0 67.0L583.9 68.0L584.0 68.5L585.0 68.0L586.0 66.8L586.2 66.0L588.0 65.8L590.0 65.2L592.0 64.8L594.0 64.4L595.9 64.0L596.0 64.0L598.0 63.2L600.0 62.4L601.0 62.0L602.0 61.6L604.0 60.8L606.0 60.0L606.0 60.0L608.0 58.7L609.1 58.0L610.0 57.4L611.9 56.0M125.9 616.0L125.0 614.0L124.1 612.0L124.0 611.8L123.0 610.0L122.1 608.0L122.0 607.8L121.0 606.0L120.1 604.0L120.0 603.8L119.0 602.0L118.1 600.0L118.0 599.8L117.0 598.0L116.0 596.0L116.0 595.7L115.7 594.0L115.6 592.0L115.5 590.0L115.3 588.0L115.2 586.0L115.0 584.0L114.9 582.0L114.7 580.0L114.6 578.0L114.4 576.0L114.3 574.0L114.1 572.0L114.0 570.4L113.9 570.0L112.0 569.3L110.0 568.7L108.0 568.1"/><path d="M188.0 616.0L189.3 614.0L190.0 613.2L190.7 612.0L192.0 610.1L192.0 610.0L193.3 608.0L194.0 607.2L194.7 606.0L196.0 604.1L196.0 604.0L196.9 602.0L197.7 600.0L198.0 599.6L198.6 598.0L199.5 596.0L200.0 595.1L200.3 594.0L201.3 592.0L202.0 590.5L202.1 590.0L203.0 588.0L204.0 586.0L204.0 586.0L204.8 584.0L205.5 582.0L206.0 581.4L206.5 580.0L207.2 578.0L208.0 577.0L208.2 576.0L209.4 574.0L208.0 573.7L207.7 574.0L206.9 576.0L206.0 576.7L205.0 578.0L204.0 579.4L203.4 580.0L202.0 581.8L201.8 582.0L200.2 584.0L200.0 584.2L198.5 586.0L198.0 586.7L196.9 588.0L196.0 589.2L195.2 590.0L194.0 591.6L193.6 592.0L192.0 594.0L192.0 594.0L190.0 594.7L188.0 595.3L186.0 596.0L186.0 596.0L184.0 596.7L182.0 597.3L180.0 598.0L180.0 598.0L178.0 598.7L176.0 599.3L174.0 600.0L172.0 599.7L170.0 599.4L168.0 599.1L166.0 598.8L164.0 598.5L162.0 598.1L160.9 598.0L160.0 597.8L158.0 597.5L156.0 597.2L154.0 596.9L152.0 596.6L150.0 596.3L148.2 596.0L148.0 595.9L147.1 594.0L146.4 592.0L146.0 591.4L145.5 590.0L144.7 588.0L144.0 586.6L143.8 586.0L143.0 584.0L142.2 582.0L142.0 581.8L141.3 580.0L140.5 578.0L140.0 577.0L139.7 576.0L138.8 574.0L138.1 572.0L138.2 570.0L138.3 568.0L138.4 566.0L138.4 564.0L138.5 562.0L138.6 560.0L138.7 558.0L138.7 556.0L138.8 554.0L138.9 552.0L139.0 550.0L139.1 548.0L139.2 546.0L139.2 544.0L139.3 542.0L139.4 540.0L139.5 538.0L139.6 536.0L139.7 534.0L139.8 532.0L139.8 530.0L139.9 528.0L140.0 526.9L142.0 526.6L144.0 527.1L146.0 527.6L148.0 527.9L148.9 526.0L149.9 524.0L150.0 523.8L151.0 522.0L151.9 520.0L152.0 519.8L153.0 518.0L154.0 516.0L154.0 515.9L155.4 514.0L156.0 513.1L156.8 512.0L158.0 510.2L158.1 510.0L159.6 508.0L160.0 507.3L161.0 506.0L162.0 504.5L162.4 504.0L163.8 502.0L164.0 501.6L165.2 500.0L166.0 498.8L166.6 498.0L168.0 496.0L168.0 495.9L169.4 494.0L170.0 493.1L170.8 492.0L172.0 490.2L172.1 490.0L173.6 488.0L174.0 487.3L175.0 486.0L176.0 484.5L176.4 484.0L177.8 482.0L178.0 481.6L179.2 480.0L180.0 478.8L180.6 478.0L182.0 476.0L182.0 475.9L183.0 474.0L183.9 472.0L184.0 471.8L185.0 470.0L186.0 468.0L186.0 467.9L187.0 466.0L187.9 464.0L188.0 463.8L189.0 462.0L189.9 460.0L190.0 459.8L191.0 458.0L192.0 456.0L192.0 455.9L193.0 454.0L193.9 452.0L194.0 451.8L195.0 450.0L196.0 448.0L196.0 447.9L197.3 446.0L198.0 444.9L198.7 444.0L200.0 442.0L200.0 441.9L201.3 440.0L202.0 438.9L202.7 438.0L204.0 436.0L204.0 435.9L205.3 434.0L206.0 432.9L206.7 432.0L208.0 430.0L208.0 429.9L209.3 428.0L210.0 426.9L210.7 426.0L212.0 424.0L212.0 423.9L213.0 422.0L214.0 420.0L214.0 419.9L215.0 418.0L216.0 416.0L216.0 415.9L217.0 414.0L218.0 412.0L218.0 411.9L219.0 410.0L220.0 408.0L220.0 407.9L221.0 406.0L222.0 404.0L222.0 403.9L223.0 402.0L224.0 400.0L224.0 399.9L225.0 398.0L226.0 396.0L226.0 395.9L227.0 394.0L228.0 392.0L228.0 392.0L229.3 390.0L230.0 389.0L230.7 388.0L232.0 386.0L232.0 385.9L233.3 384.0L234.0 383.0L234.7 382.0L236.0 380.0L236.0 379.9L237.3 378.0L238.0 377.0L238.7 376.0L240.0 374.0L240.0 373.9L241.3 372.0L242.0 371.0L242.7 370.0L244.0 368.0L244.0 367.9L245.3 366.0L246.0 365.0L246.7 364.0L248.0 362.0L248.0 362.0L249.4 360.0L250.0 358.9L250.5 358.0L251.5 356.0L252.0 355.0L252.5 354.0L253.5 352.0L254.0 351.0L254.5 350.0L255.5 348.0L256.0 346.9L256.5 346.0L257.5 344.0L258.0 342.9L258.4 342.0L260.0 340.5L261.3 340.0L262.0 339.7L264.0 338.9L265.9 338.0L266.0 337.9L266.7 336.0L267.3 334.0L268.0 332.0L268.0 332.0L268.7 330.0L269.3 328.0L270.0 326.0L270.0 326.0L271.1 324.0L272.0 322.3L272.2 322.0L273.3 320.0L274.0 318.7L274.4 318.0L275.4 316.0L276.0 315.0L276.7 314.0L278.0 312.3L278.2 312.0L279.7 310.0L280.0 309.7L281.2 308.0L282.0 307.0L282.7 306.0L284.0 304.4L284.3 304.0L285.5 302.0L286.0 300.8L286.4 300.0L287.3 298.0L288.0 296.5L288.2 296.0L289.2 294.0L290.0 292.2L290.1 292.0L291.0 290.0L291.4 288.0L291.8 286.0L292.0 285.2L292.3 284.0L292.7 282.0L293.1 280.0L293.5 278.0L294.0 276.0L294.0 275.7L294.4 274.0L294.8 272.0L295.3 270.0L296.0 268.2L296.1 268.0L296.8 266.0L297.5 264.0L298.0 262.5L298.2 262.0L298.9 260.0L299.6 258.0L300.0 256.7L300.3 256.0L301.1 254.0L302.0 253.0L303.2 252.0L304.0 251.3L305.4 250.0L306.0 249.5L307.7 248.0L308.0 247.7L310.0 246.1L310.1 246.0L311.0 244.0L310.6 242.0L310.3 240.0L310.1 238.0L312.0 237.0L313.9 236.0L314.0 236.0L316.0 235.0L318.0 235.0L320.0 235.0L322.0 234.9L324.0 235.0L325.9 234.0L326.0 233.9L328.0 232.1L328.2 232.0L330.0 230.4L330.4 230.0L332.0 228.7L332.8 228.0L334.0 226.9L335.1 226.0L336.0 225.2L337.4 224.0L338.0 223.5L339.7 222.0L340.0 221.8L342.0 220.8L343.7 220.0L344.0 219.8L346.0 218.9L348.0 218.0L348.0 218.0L350.0 217.1L352.0 216.2L352.4 216.0L354.0 215.2L356.0 214.2L356.5 214.0L358.0 213.1L360.0 212.1L360.2 212.0L362.0 211.0L363.9 210.0L364.0 209.9L366.0 208.8L367.6 208.0L368.0 207.8L370.0 206.7L371.5 206.0L372.0 205.7L374.0 205.3L376.0 204.8L378.0 204.3L379.9 204.0L380.0 204.0L381.8 202.0L382.0 201.8L383.4 200.0L384.0 199.2L385.0 198.0L386.0 196.8L386.7 196.0L388.0 194.4L388.3 194.0L390.0 192.0L390.0 192.0L391.8 190.0L392.0 189.8L394.0 188.1L394.2 188.0L396.0 186.4L396.6 186.0L398.0 184.5L399.8 184.0L398.6 182.0L400.0 181.9L402.0 181.7L404.0 181.8L405.8 182.0L406.0 182.0L406.1 182.0L408.0 181.5L410.0 181.2L412.0 180.6L414.0 180.0L414.8 180.0L416.0 178.9L416.5 178.0L418.0 177.8L420.0 176.5L421.0 176.0L422.0 175.5L424.0 174.4L424.6 174.0L426.0 173.1L427.8 172.0L428.0 171.9L430.0 170.6L430.9 170.0L432.0 169.2L433.4 168.0L434.0 167.6L436.0 166.0L438.0 166.2L440.0 166.4L442.0 166.5L444.0 166.7L446.0 166.9L448.0 167.0L450.0 166.5L452.0 166.0L452.0 166.0L454.0 165.5L456.0 165.0L458.0 164.5L460.0 164.0L460.0 164.0L462.0 163.5L464.0 163.0L466.0 162.5L468.0 162.0L470.0 162.0L472.0 162.0L474.0 162.0L476.0 162.0L478.0 162.0L480.0 162.0L482.0 162.0L484.0 162.0L486.0 162.0L488.0 162.0L490.0 162.6L492.0 163.2L494.0 163.8L494.7 164.0L496.0 164.4L498.0 165.0L500.0 165.6L501.3 166.0L502.0 166.2L504.0 166.8L506.0 167.4L508.0 168.0L508.0 168.0L510.0 168.7L512.0 169.4L513.5 170.0L514.0 170.1L516.0 170.9L518.0 171.5L519.0 172.0L520.0 172.3L522.0 173.0L524.0 173.5L525.0 174.0L526.0 174.2L528.0 174.8L530.0 175.4L532.0 175.9L533.2 174.0L534.0 172.6L534.3 172.0L535.4 170.0L536.0 169.0L536.6 168.0L537.7 166.0L538.0 165.6L538.9 164.0L540.0 162.0L539.2 160.0L538.5 158.0L538.0 156.5L537.7 156.0L537.0 154.0L536.2 152.0L536.0 151.3L535.5 150.0L534.7 148.0L534.3 146.0L536.0 145.6L538.0 145.2L540.0 144.8L542.0 144.5L543.7 144.0L542.0 142.2L541.8 142.0L540.0 140.8L539.0 140.0L538.0 139.2L536.5 138.0L536.0 137.7L534.1 136.0L535.6 134.0L536.0 133.4L537.2 132.0L538.0 131.0L538.8 130.0L540.0 128.5L540.4 128.0L542.0 126.0L542.0 126.0L544.0 124.5L544.6 124.0L546.0 123.0L547.3 122.0L548.0 121.5L550.0 120.0L550.0 120.0L552.0 118.5L552.6 118.0L554.0 117.0L555.3 116.0L556.0 115.5L558.0 114.0L558.0 114.0L560.0 113.0L562.0 112.0L562.0 112.0L564.0 111.0L566.0 110.0L566.0 110.0L568.0 109.0L570.0 108.0L570.0 108.0L572.0 107.0L573.9 106.0L574.0 105.9L576.0 104.4L577.2 104.0L578.0 103.4L579.5 102.0L580.0 101.9L580.9 102.0L582.0 102.1L583.3 102.0L583.1 100.0L584.0 99.9L584.7 100.0L586.0 100.5L587.9 100.0L588.0 98.4L588.0 98.0L590.0 97.0L592.0 96.0L592.0 96.0L594.0 95.0L596.0 94.0L596.0 94.0L598.0 92.4L598.5 92.0L600.0 90.8L601.0 90.0L602.0 89.2L603.5 88.0L604.0 87.6L605.9 86.0L606.0 86.0L608.0 84.4L608.5 84.0L610.0 82.8L611.0 82.0L612.0 81.2L613.5 80.0L614.0 79.6L616.0 78.0L616.0 78.0L618.0 77.4L620.0 76.8L622.0 76.1L622.3 76.0L624.0 75.5L626.0 74.9L628.0 74.3L628.8 74.0L630.0 73.6L632.0 73.0L634.0 73.1L636.0 73.2L638.0 73.4L640.0 73.5L642.0 73.6L644.0 73.7L646.0 73.9L647.6 74.0L648.0 74.0L650.0 75.5L650.6 76.0L652.0 77.0L653.3 78.0L654.0 78.5L655.9 80.0L656.0 80.1L656.8 82.0L657.6 84.0L658.0 85.1L658.4 86.0L659.2 88.0L660.0 90.0L660.0 90.0L662.0 91.5L662.5 92.0L664.0 92.9L666.0 92.8L668.0 92.7L670.0 92.6L672.0 92.5L674.0 92.4L676.0 92.2L678.0 92.1L679.7 92.0L680.0 91.8L682.0 91.7L684.0 91.6L686.0 91.5L688.0 91.4L690.0 91.3L692.0 91.2L694.0 91.1L696.0 91.0L698.0 91.1L700.0 91.2L702.0 91.3L704.0 91.4L706.0 91.5L708.0 91.6L710.0 91.7L712.0 92.0L712.0 92.0L714.0 92.5L716.0 93.1L718.0 93.6L718.7 94.0L720.0 94.2L722.0 94.8L724.0 95.4L726.0 95.8L726.8 94.0L727.6 92.0L728.0 91.0L728.4 90.0L729.2 88.0L730.0 86.0L729.3 84.0L728.6 82.0L728.0 80.0L728.0 80.0L727.3 78.0L726.7 76.0L726.0 74.0L726.0 74.0L725.3 72.0L724.7 70.0L724.0 68.0L724.7 66.0L725.4 64.0L726.0 62.0L726.0 62.0L726.7 60.0L727.4 58.0L728.0 56.0L728.0 56.0M402.0 183.3L400.3 184.0L402.0 184.1L403.2 184.0Z"/><path d="M210.0 616.0L210.4 614.0L210.9 612.0L211.3 610.0L211.7 608.0L212.0 606.7L212.1 606.0L212.6 604.0L213.0 602.0L213.4 600.0L213.9 598.0L214.0 597.4L214.3 596.0L214.7 594.0L215.1 592.0L215.6 590.0L216.0 588.0L216.0 588.0L216.8 586.0L217.7 584.0L218.0 583.3L218.5 582.0L219.4 580.0L220.0 578.6L220.2 578.0L221.1 576.0L221.9 574.0L222.0 573.9L222.8 572.0L223.6 570.0L224.0 569.2L224.5 568.0L225.3 566.0L226.0 564.5L226.2 564.0L227.0 562.0L227.9 560.0L228.0 559.8L228.7 558.0L229.5 556.0L230.0 555.1L230.4 554.0L231.2 552.0L232.0 550.3L232.1 550.0L232.9 548.0L233.7 546.0L234.0 545.6L234.6 544.0L235.4 542.0L236.0 540.9L236.3 540.0L237.2 538.0L238.0 536.1L238.0 536.0L239.3 534.0L240.0 532.9L240.5 532.0L241.8 530.0L242.0 529.8L243.0 528.0L244.0 526.6L244.3 526.0L245.6 524.0L246.0 523.4L246.8 522.0L248.0 520.3L248.2 520.0L249.3 518.0L250.0 517.0L250.6 516.0L251.9 514.0L252.0 513.9L253.1 512.0L254.0 510.7L254.4 510.0L255.7 508.0L256.0 507.6L256.9 506.0L258.0 504.1L258.0 504.0L259.0 502.0L260.0 500.2L260.1 500.0L261.1 498.0L262.0 496.3L262.1 496.0L263.1 494.0L264.0 492.4L264.2 492.0L265.2 490.0L266.0 488.6L266.3 488.0L267.3 486.0L268.0 484.8L268.3 484.0L269.4 482.0L270.0 480.9L270.4 480.0L271.5 478.0L272.0 477.3L272.6 476.0L273.8 474.0L274.0 473.7L274.9 472.0L276.0 470.1L276.1 470.0L277.1 468.0L278.0 466.5L278.2 466.0L279.3 464.0L280.0 462.9L280.4 462.0L281.5 460.0L282.0 459.3L282.6 458.0L283.7 456.0L284.0 455.7L284.8 454.0L286.0 452.1L286.0 452.0L287.0 450.0L288.0 448.4L288.2 448.0L289.2 446.0L290.0 444.7L290.3 444.0L291.4 442.0L292.0 441.1L292.5 440.0L293.6 438.0L294.0 437.5L294.6 436.0L295.1 434.0L295.5 432.0L295.9 430.0L296.0 429.8L296.3 428.0L296.7 426.0L297.2 424.0L297.5 422.0L298.0 420.2L298.0 420.0L299.4 418.0L300.0 417.3L300.8 416.0L302.0 414.5L302.3 414.0L303.8 412.0L304.0 411.7L305.1 410.0L306.0 408.9L306.6 408.0L308.0 406.1L308.1 406.0L309.5 404.0L310.0 403.3L310.9 402.0L312.0 400.5L312.3 400.0L313.8 398.0L314.0 397.8L315.1 396.0L316.0 394.9L316.6 394.0L318.0 392.1L318.1 392.0L320.0 390.0L320.0 390.0L321.7 388.0L322.0 387.7L323.4 386.0L324.0 385.4L325.2 384.0L326.0 383.2L327.0 382.0L328.0 381.0L328.8 380.0L330.0 378.7L330.6 378.0L332.0 376.6L332.5 376.0L334.0 374.3L334.3 374.0L336.0 372.1L336.1 372.0L337.8 370.0L338.0 369.8L339.4 368.0L340.0 367.4L341.1 366.0L342.0 365.0L342.8 364.0L344.0 362.7L344.6 362.0L346.0 360.4L346.3 360.0L348.0 358.0L348.0 358.0L348.4 356.0L348.9 354.0L349.3 352.0L350.0 350.4L350.0 350.0L350.0 349.7L348.0 349.9L347.8 350.0L346.0 351.0L344.0 352.0L344.0 352.0L342.0 353.9L341.9 354.0L340.0 355.9L339.9 356.0L338.0 358.0L337.9 358.0L336.0 360.0L336.0 360.0L334.0 362.0L334.0 362.0L332.0 364.0L332.0 364.0L330.0 366.0L330.0 366.0L328.0 368.0L328.0 368.0L326.0 369.4L325.1 370.0L324.0 370.8L322.3 372.0L322.0 372.2L320.0 373.6L319.4 374.0L318.0 375.0L316.6 376.0L316.0 376.4L314.0 377.8L313.7 378.0L312.0 379.2L310.9 380.0L310.0 380.6L308.0 382.0L308.0 382.0L306.0 382.7L304.0 383.4L302.4 384.0L302.0 384.1L300.0 384.9L298.0 385.6L296.9 386.0L296.0 386.3L294.0 387.0L292.0 387.7L291.3 388.0L290.0 388.4L288.0 389.1L286.0 389.8L285.7 390.0L284.0 390.6L282.0 391.3L280.1 392.0L280.0 392.0L278.0 393.1L276.5 394.0L276.0 394.2L274.0 395.3L272.9 396.0L272.0 396.4L270.0 397.5L269.3 398.0L268.0 398.6L266.0 399.7L265.7 400.0L264.0 400.9L262.0 402.0L260.0 401.3L258.0 400.7L256.1 400.0L257.3 398.0L258.0 396.8L258.7 396.0L260.0 394.0L260.0 393.9L261.3 392.0L262.0 390.9L262.7 390.0L263.9 388.0L264.0 387.9L265.3 386.0L266.0 384.9L266.7 384.0L268.0 382.0L268.0 381.9L268.8 380.0L269.7 378.0L270.0 376.9L270.5 376.0L271.3 374.0L272.0 372.1L272.1 372.0L272.9 370.0L273.8 368.0L274.0 367.1L274.6 366.0L275.4 364.0L276.0 362.2L276.2 362.0L277.0 360.0L277.8 358.0L278.0 357.1L278.6 356.0L279.2 354.0L280.0 352.0L280.0 351.8L280.7 350.0L281.5 348.0L282.0 346.5L282.3 346.0L283.0 344.0L284.0 342.3L284.2 342.0L285.5 340.0L286.0 339.1L286.8 338.0L288.0 336.0L288.0 335.9L289.3 334.0L290.0 332.8L290.6 332.0L291.8 330.0L292.0 329.6L293.1 328.0L294.0 326.5L294.3 326.0L295.6 324.0L296.0 323.4L297.0 322.0L298.0 320.4L298.3 320.0L299.7 318.0L300.0 317.4L301.0 316.0L302.0 314.4L302.3 314.0L303.6 312.0L304.0 311.4L305.0 310.0L305.9 308.0L306.0 307.7L306.8 306.0L307.7 304.0L308.0 303.2L308.6 302.0L309.5 300.0L310.0 298.7L310.4 298.0L311.3 296.0L312.0 294.3L312.2 294.0L313.1 292.0L314.0 290.0L314.0 290.0L314.7 288.0L315.4 286.0L316.0 284.3L316.2 284.0L316.8 282.0L317.6 280.0L318.0 278.7L318.3 278.0L319.0 276.0L319.7 274.0L320.0 273.1L320.5 272.0L321.1 270.0L321.9 268.0L322.0 267.5L322.6 266.0L323.3 264.0L324.0 262.0L324.0 262.0L324.4 260.0L324.7 258.0L325.0 256.0L325.3 254.0L325.7 252.0L326.0 250.0L326.0 250.0L326.4 248.0L326.7 246.0L327.1 244.0L328.0 243.0L329.1 242.0L330.0 241.1L331.1 240.0L332.0 239.2L333.2 238.0L334.0 237.3L335.3 236.0L336.0 235.4L337.4 234.0L338.0 233.5L339.5 232.0L340.0 231.5L341.6 230.0L342.0 229.6L344.0 228.6L345.6 228.0L346.0 227.9L348.0 227.1L350.0 226.4L350.8 226.0L352.0 225.6L354.0 224.8L356.0 224.0L356.0 224.0L358.0 223.3L360.0 222.5L361.3 222.0L362.0 221.8L364.0 220.7L365.1 220.0L366.0 219.6L368.0 218.4L368.6 218.0L370.0 217.3L372.0 216.1L372.1 216.0L374.0 215.0L375.6 214.0L376.0 213.8L378.0 212.7L378.9 212.0L380.0 211.3L381.7 210.0L382.0 209.9L384.0 208.6L384.8 208.0L386.0 207.2L387.6 206.0L388.0 205.7L390.0 204.4L390.5 204.0L392.0 203.0L393.4 202.0L394.0 201.6L396.0 200.2L396.2 200.0L398.0 198.7L398.9 198.0L400.0 197.2L401.5 196.0L402.0 195.6L404.0 194.0L404.0 194.0L406.0 192.5L406.6 192.0L408.0 191.0L409.6 190.0L410.0 189.8L412.0 188.6L412.9 188.0L414.0 187.4L416.0 186.2L416.2 186.0L418.0 185.0L419.9 184.0L420.0 184.0L422.0 183.0L423.9 182.0L424.0 181.9L426.0 181.0L428.0 180.0L428.0 180.0L430.0 179.8L432.0 179.6L434.0 179.4L436.0 179.2L438.0 179.0L440.0 179.7L441.0 180.0L442.0 180.3L444.0 181.0L446.0 181.8L448.0 181.6L450.0 180.4L450.6 180.0L452.0 179.2L454.0 178.1L454.2 178.0L456.0 177.0L457.2 176.0L458.0 175.3L459.5 174.0L460.0 173.6L462.0 172.0L464.0 173.0L466.0 174.0L466.0 174.0L468.0 175.2L468.6 176.0L469.6 178.0L470.0 179.6L470.5 180.0L472.0 180.4L472.3 180.0L473.2 178.0L474.0 177.4L474.9 176.0L476.0 175.1L476.8 174.0L478.0 173.3L478.6 174.0L479.5 176.0L480.0 177.0L480.5 178.0L481.2 180.0L481.5 182.0L481.9 184.0L482.0 184.6L482.3 186.0L482.6 188.0L483.1 190.0L484.0 190.8L485.4 192.0L486.0 192.4L488.0 194.0L489.5 192.0L490.0 190.9L490.7 190.0L492.0 188.1L494.0 188.2L496.0 188.5L498.0 188.7L500.0 189.0L502.0 189.2L504.0 189.5L506.0 189.7L508.0 190.0L510.0 190.0L512.0 190.0L514.0 190.0L516.0 190.0L518.0 190.0L520.0 190.0L522.0 190.0L524.0 190.0L526.0 190.0L528.0 190.0L530.0 189.3L532.0 188.7L534.0 188.0L534.0 188.0L536.0 187.3L538.0 186.7L540.0 186.0L540.0 186.0L542.0 185.7L544.0 185.5L546.0 185.2L548.0 185.0L550.0 184.7L552.0 184.5L554.0 184.2L555.9 184.0L556.0 184.0L558.0 183.8L560.0 183.6L562.0 183.5L564.0 183.3L566.0 183.1L568.0 183.0L570.0 182.8L572.0 182.6L574.0 182.5L576.0 182.3L578.0 182.1L579.8 182.0L580.0 181.9L582.0 181.4L584.0 180.9L586.0 180.3L587.5 180.0L588.0 179.7L590.0 179.3L592.0 178.7L594.0 178.2L594.7 178.0L596.0 177.1L597.2 176.0L598.0 175.1L599.3 174.0L599.9 172.0L599.1 170.0L598.7 168.0L598.1 166.0L598.0 164.9L597.5 164.0L597.2 162.0L596.0 160.1L595.1 160.0L594.0 159.9L592.0 159.2L590.0 158.7L588.0 158.1L587.5 158.0L586.0 157.6L584.0 157.0L582.0 156.4L580.0 156.2L579.8 156.0L579.5 154.0L579.8 152.0L578.0 150.6L576.1 150.0L576.0 150.0L574.0 149.3L572.0 148.6L570.0 148.0L570.0 148.0L568.0 147.2L566.0 146.8L565.3 146.0L565.5 144.0L565.4 142.0L565.6 140.0L566.0 139.7L568.0 139.1L570.0 138.3L570.5 138.0L572.0 137.5L574.0 136.7L575.6 136.0L576.0 135.9L578.0 135.1L580.0 134.4L580.6 134.0L582.0 133.4L584.0 132.3L584.4 132.0L586.0 131.2L588.0 130.0L588.0 130.0L590.0 129.0L591.6 128.0L592.0 127.8L594.0 126.7L595.2 126.0L596.0 125.5L598.0 124.0L598.0 124.0L600.0 122.6L602.0 122.1L602.2 122.0L604.0 121.6L606.0 121.1L608.0 120.6L610.0 120.0L610.1 120.0L612.0 119.5L614.0 119.0L616.0 118.4L617.2 118.0L618.0 117.8L620.0 117.2L622.0 116.6L624.0 116.0L624.0 116.0L626.0 115.4L628.0 114.9L630.0 114.3L630.9 114.0L632.0 113.7L634.0 113.2L636.0 112.6L638.0 112.1L640.0 112.5L642.0 113.0L644.0 113.5L646.0 114.0L646.0 114.0L647.6 116.0L648.0 116.6L649.0 118.0L650.0 119.3L650.5 120.0L652.0 122.0L652.0 122.0L652.8 124.0L653.6 126.0L654.0 127.0L654.4 128.0L655.2 130.0L656.0 132.0L656.0 132.0L657.8 134.0L658.0 134.1L659.8 136.0L660.0 136.1L662.0 138.0L662.1 138.0L664.0 138.2L666.0 138.4L668.0 138.6L670.0 138.9L672.0 139.1L674.0 139.3L676.0 139.5L678.0 139.7L680.0 139.9L682.0 138.1L682.2 138.0L684.0 136.1L684.2 136.0L686.0 134.1L686.1 134.0L688.0 132.0L688.0 132.0L690.0 130.1L690.1 130.0L692.0 128.0L692.0 128.0L694.0 126.0L694.0 126.0L696.0 124.0L696.1 124.0L698.0 123.6L700.0 123.2L702.0 122.8L704.0 122.4L706.0 122.0L706.0 122.0L708.0 121.6L710.0 121.2L712.0 120.8L714.0 120.4L716.0 120.0L718.0 120.7L720.0 121.3L722.0 122.0L722.0 122.0L724.0 122.7L726.0 123.3L728.0 124.0L730.0 123.5L732.0 123.0L734.0 122.5L736.0 122.0"/><path d="M222.0 616.0L222.0 615.9L222.3 614.0L222.6 612.0L222.9 610.0L223.2 608.0L223.5 606.0L223.8 604.0L224.0 602.8L224.1 602.0L224.4 600.0L224.7 598.0L225.0 596.0L225.3 594.0L225.6 592.0L225.9 590.0L226.0 589.4L226.2 588.0L226.5 586.0L226.8 584.0L227.1 582.0L227.4 580.0L227.7 578.0L228.0 576.0L228.0 576.0L228.9 574.0L229.9 572.0L230.0 571.7L230.8 570.0L231.8 568.0L232.0 567.5L232.7 566.0L233.7 564.0L234.0 563.2L234.6 562.0L235.5 560.0L236.0 559.0L236.5 558.0L237.4 556.0L238.0 554.7L238.4 554.0L239.3 552.0L240.0 550.5L240.2 550.0L241.2 548.0L242.0 546.2L242.1 546.0L243.1 544.0L244.0 542.0L244.0 542.0L245.3 540.0L246.0 539.0L246.7 538.0L248.0 536.0L248.0 536.0L249.3 534.0L250.0 533.0L250.7 532.0L252.0 530.0L252.0 530.0L253.3 528.0L254.0 527.0L254.7 526.0L256.0 524.0L256.0 524.0L257.3 522.0L258.0 521.0L258.7 520.0L260.0 518.0L260.0 518.0L261.3 516.0L262.0 515.0L262.7 514.0L264.0 512.0L264.0 512.0L265.3 510.0L266.0 509.0L266.7 508.0L268.0 506.0L268.0 506.0L269.3 504.0L270.0 502.9L270.6 502.0L271.9 500.0L272.0 499.9L273.2 498.0L274.0 496.8L274.5 496.0L275.8 494.0L276.0 493.8L277.1 492.0L278.0 490.7L278.4 490.0L279.8 488.0L280.0 487.6L281.0 486.0L282.0 484.6L282.4 484.0L283.7 482.0L284.0 481.5L284.8 480.0L285.3 478.0L285.8 476.0L286.0 475.2L286.3 474.0L286.8 472.0L287.3 470.0L287.8 468.0L288.0 467.1L288.4 466.0L289.0 464.0L289.7 462.0L290.0 461.0L290.4 460.0L291.7 458.0L292.0 457.5L293.0 456.0L294.0 454.4L294.3 454.0L295.6 452.0L296.0 451.3L296.9 450.0L298.0 448.2L298.1 448.0L299.4 446.0L300.0 445.1L300.7 444.0L302.0 442.0L302.0 441.9L303.2 440.0L304.0 438.8L304.5 438.0L305.8 436.0L306.0 435.7L307.3 434.0L308.0 433.1L308.8 432.0L310.0 430.5L310.4 430.0L311.9 428.0L312.0 427.8L313.4 426.0L314.0 425.2L314.9 424.0L316.0 422.5L316.4 422.0L317.9 420.0L318.0 419.9L319.5 418.0L320.0 417.3L321.0 416.0L322.0 414.6L322.5 414.0L324.0 412.0L324.0 412.0L325.8 410.0L326.0 409.8L327.6 408.0L328.0 407.6L329.5 406.0L330.0 405.4L331.3 404.0L332.0 403.2L333.1 402.0L334.0 401.0L334.9 400.0L336.0 398.8L336.7 398.0L338.0 396.6L338.5 396.0L340.0 394.4L340.4 394.0L342.0 392.2L342.2 392.0L344.0 390.0L344.0 390.0L344.9 388.0L345.8 386.0L346.0 385.6L346.7 384.0L347.6 382.0L348.0 381.3L348.5 380.0L349.4 378.0L350.0 376.9L350.3 376.0L351.2 374.0L352.0 372.5L352.2 372.0L353.1 370.0L354.0 368.0L354.0 368.0L354.7 366.0L355.3 364.0L356.0 362.0L356.0 362.0L356.7 360.0L357.3 358.0L358.0 356.0L358.0 356.0L358.7 354.0L359.3 352.0L360.0 350.0L360.0 350.0L360.8 348.0L361.6 346.0L362.0 345.1L362.4 344.0L363.2 342.0L364.0 340.1L364.0 340.0L364.8 338.0L365.6 336.0L366.0 335.1L366.4 334.0L367.2 332.0L368.0 330.1L368.0 330.0L368.8 328.0L369.6 326.0L370.0 325.2L370.6 324.0L372.0 322.2L372.1 322.0L373.3 320.0L374.0 319.1L374.7 318.0L376.0 316.1L376.1 316.0L377.3 314.0L378.0 313.1L378.7 312.0L380.0 310.1L380.1 310.0L381.7 308.0L382.0 307.7L383.3 306.0L384.0 305.2L385.0 304.0L386.0 302.8L386.6 302.0L388.0 300.5L388.4 300.0L390.0 298.1L390.1 298.0L392.0 296.3L392.4 296.0L394.0 294.5L394.6 294.0L396.0 292.8L397.0 292.0L398.0 290.9L398.7 290.0L400.0 288.1L400.2 288.0L402.0 287.3L404.0 286.7L406.0 286.0L406.0 286.0L408.0 285.2L410.0 285.2L410.8 286.0L412.0 286.4L414.0 287.4L414.8 288.0L416.0 288.3L418.0 289.2L420.0 289.9L422.0 289.3L424.0 288.6L426.0 288.0L426.0 288.0L427.3 286.0L428.0 284.8L428.6 284.0L429.9 282.0L430.0 281.8L431.1 280.0L432.0 279.3L433.9 278.0L433.4 276.0L432.8 274.0L432.2 272.0L432.0 270.7L431.6 270.0L431.1 268.0L430.6 266.0L430.0 264.2L428.0 264.4L426.0 264.8L424.0 265.2L422.0 265.6L420.0 265.9L418.4 264.0L418.0 263.5L416.8 262.0L416.0 261.0L415.2 260.0L414.0 258.4L413.6 258.0L412.0 256.0L410.0 256.8L408.0 257.6L406.9 258.0L406.0 258.4L404.0 259.2L402.0 260.0L402.0 260.0L400.0 261.3L399.1 262.0L398.0 262.7L396.0 264.0L396.0 264.0L394.0 265.3L393.1 266.0L392.0 266.7L390.0 267.9L388.0 267.8L386.0 267.6L384.0 267.4L382.0 267.2L380.0 267.5L379.5 266.0L380.0 265.4L381.2 264.0L382.0 262.7L382.6 262.0L383.9 260.0L384.0 259.8L385.4 258.0L386.0 257.1L386.9 256.0L388.0 254.3L388.2 254.0L389.7 252.0L390.0 251.5L391.1 250.0L392.0 248.7L392.5 248.0L394.0 246.0L394.0 246.0L396.0 245.0L397.8 244.0L398.0 243.9L400.0 243.0L401.8 242.0L402.0 241.9L404.0 241.0L405.1 240.0L406.0 239.2L407.4 238.0L408.0 237.5L409.6 236.0L410.0 235.7L412.0 234.0L412.0 234.0L413.9 232.0L414.0 231.9L416.0 230.0L416.0 229.9L416.4 228.0L416.8 226.0L417.2 224.0L417.6 222.0L418.0 220.0L418.0 220.0L419.0 218.0L420.0 216.0L420.0 215.9L421.0 214.0L422.0 212.0L422.0 212.0L423.7 210.0L424.0 209.7L425.5 208.0L426.0 207.5L427.3 206.0L428.0 205.3L429.0 204.0L430.0 203.1L432.0 202.1L432.2 202.0L434.0 201.3L436.0 200.5L437.0 200.0L438.0 199.7L440.0 198.8L441.9 198.0L442.0 198.0L444.0 196.8L445.3 196.0L446.0 195.7L448.0 194.5L448.7 194.0L450.0 193.3L452.0 192.2L452.2 192.0L454.0 191.1L456.0 190.8L458.0 190.7L460.0 190.5L462.0 190.3L464.0 190.0L466.0 191.8L466.2 192.0L468.0 194.0L466.3 196.0L466.0 196.7L464.5 198.0L464.5 200.0L466.0 201.4L466.3 202.0L468.0 204.0L468.0 204.0L470.0 204.8L472.0 205.7L474.0 205.9L476.0 205.4L478.0 205.0L480.0 204.6L482.0 204.3L482.7 204.0L484.0 203.5L486.0 202.2L486.2 202.0L488.0 201.1L490.0 201.3L492.0 201.6L494.0 201.9L494.8 202.0L496.0 202.2L498.0 202.5L500.0 202.8L502.0 203.1L504.0 203.4L506.0 203.7L508.0 204.0L509.8 204.0L510.0 204.0L511.2 204.0L512.0 204.0L514.0 204.0L516.0 204.0L518.0 204.0L520.0 204.0L522.0 204.0L524.0 204.0L526.0 204.0L528.0 204.0L530.0 203.9L532.0 203.8L534.0 203.8L536.0 203.7L538.0 203.6L540.0 203.6L542.0 203.5L544.0 203.4L546.0 203.3L548.0 203.3L550.0 203.2L552.0 203.1L554.0 203.1L556.0 203.0L558.0 202.5L559.8 202.0L560.0 201.9L562.0 201.4L564.0 200.9L566.0 200.3L567.3 200.0L568.0 199.8L570.0 199.3L572.0 198.7L574.0 198.2L574.8 198.0L576.0 197.6L578.0 197.1L580.0 196.5L581.0 196.0L582.0 195.5L584.0 194.5L585.0 194.0L586.0 193.5L588.0 192.5L588.9 192.0L590.0 191.5L592.0 190.5L592.9 190.0L594.0 189.5L596.0 188.5L596.9 188.0L598.0 187.5L600.0 186.5L600.9 186.0L602.0 185.5L604.0 184.5L605.0 184.0L606.0 183.5L608.0 182.5L609.0 182.0L610.0 181.5L612.0 180.7L614.0 180.2L615.0 180.0L616.0 179.7L618.0 179.2L620.0 178.7L622.0 178.2L622.8 178.0L624.0 177.6L626.0 176.3L626.6 176.0L628.0 175.1L630.0 174.0L630.1 174.0L632.0 172.4L632.2 172.0L633.6 170.0L634.0 169.4L635.0 168.0L636.0 166.6L636.4 166.0L637.8 164.0L638.0 163.7L639.2 162.0L640.0 160.8L640.6 160.0L641.9 158.0L642.0 157.9L644.0 156.4L644.7 156.0L646.0 155.3L648.0 154.1L648.1 154.0L650.0 152.9L651.4 152.0L652.0 151.7L654.0 150.5L654.7 150.0L656.0 149.3L658.0 148.0L660.0 148.2L662.0 148.5L664.0 148.7L666.0 148.9L668.0 149.1L670.0 149.3L672.0 149.6L674.0 149.8L675.9 150.0L676.0 150.0L678.0 150.4L680.0 150.8L682.0 151.2L684.0 151.6L686.0 152.0L686.0 152.0L688.0 152.4L690.0 152.8L692.0 153.2L694.0 153.6L696.0 154.0L698.0 153.6L700.0 153.2L702.0 152.8L704.0 152.4L706.0 152.0L706.0 152.0L708.0 151.6L710.0 151.2L712.0 150.8L714.0 150.4L716.0 150.0L716.0 150.0L718.0 149.6L720.0 149.2L722.0 148.8L724.0 148.4L726.0 148.0L726.0 148.0L728.0 147.6L730.0 147.2L732.0 146.8L734.0 146.4L736.0 146.0"/><path d="M226.1 616.0L226.5 614.0L226.9 612.0L227.3 610.0L227.7 608.0L228.0 606.5L228.2 606.0L228.6 604.0L229.0 602.0L229.4 600.0L229.9 598.0L230.0 597.2L230.3 596.0L230.7 594.0L231.2 592.0L231.6 590.0L232.0 588.0L232.0 588.0L232.9 586.0L233.8 584.0L234.0 583.5L234.7 582.0L235.6 580.0L236.0 579.0L236.4 578.0L237.3 576.0L238.0 574.5L238.2 574.0L239.1 572.0L240.0 570.0L240.0 570.0L240.9 568.0L241.8 566.0L242.0 565.5L242.7 564.0L243.5 562.0L244.0 561.0L244.4 560.0L245.3 558.0L246.0 556.5L246.2 556.0L247.1 554.0L248.0 552.0L248.0 552.0L249.3 550.0L250.0 548.9L250.6 548.0L251.9 546.0L252.0 545.9L253.2 544.0L254.0 542.8L254.5 542.0L255.8 540.0L256.0 539.8L257.1 538.0L258.0 536.7L258.4 536.0L259.7 534.0L260.0 533.6L261.0 532.0L262.0 530.6L262.4 530.0L263.7 528.0L264.0 527.5L265.0 526.0L266.0 524.4L266.3 524.0L267.6 522.0L268.0 521.3L268.9 520.0L270.0 518.3L270.2 518.0L271.5 516.0L272.0 515.2L272.8 514.0L274.0 512.2L274.1 512.0L275.4 510.0L276.0 509.1L276.7 508.0L278.0 506.0L278.0 506.0L279.2 504.0L280.0 502.7L280.4 502.0L281.7 500.0L282.0 499.5L282.9 498.0L284.0 496.2L284.1 496.0L285.3 494.0L286.0 492.9L286.5 492.0L287.8 490.0L288.0 489.6L289.0 488.0L290.0 486.4L290.2 486.0L291.4 484.0L292.0 483.0L292.6 482.0L293.8 480.0L294.0 479.6L294.7 478.0L295.6 476.0L296.0 475.3L296.6 474.0L297.5 472.0L298.0 471.0L298.4 470.0L299.4 468.0L300.0 466.6L300.3 466.0L301.2 464.0L302.0 462.6L302.3 462.0L303.4 460.0L304.0 459.0L304.6 458.0L305.7 456.0L306.0 455.4L306.8 454.0L307.9 452.0L308.0 451.8L309.1 450.0L310.0 448.2L310.2 448.0L311.3 446.0L312.0 444.7L312.4 444.0L313.5 442.0L314.0 441.1L314.6 440.0L315.8 438.0L316.0 437.4L317.1 436.0L318.0 435.6L320.0 435.1L322.0 434.5L323.4 434.0L324.0 433.8L326.0 433.2L328.0 432.6L329.9 432.0L330.0 432.0L331.6 430.0L332.0 429.6L333.3 428.0L334.0 427.1L334.9 426.0L336.0 424.6L336.5 424.0L338.0 422.1L338.1 422.0L339.8 420.0L340.0 419.7L341.4 418.0L342.0 417.3L343.1 416.0L344.0 414.9L344.7 414.0L346.0 412.4L346.3 412.0L348.0 410.0L348.0 410.0L349.1 408.0L350.0 406.5L350.3 406.0L351.4 404.0L352.0 403.0L352.6 402.0L353.7 400.0L354.0 399.5L354.9 398.0L356.0 396.0L356.0 395.9L356.3 394.0L356.7 392.0L357.0 390.0L357.3 388.0L357.7 386.0L358.0 384.0L357.5 382.0L357.0 380.0L356.5 378.0L356.1 376.0L356.5 374.0L357.0 372.0L357.5 370.0L358.0 368.0L358.0 368.0L358.5 366.0L359.0 364.0L359.5 362.0L360.0 360.0L360.0 360.0L361.7 358.0L362.0 357.6L363.6 356.0L364.0 355.4L365.4 354.0L366.0 353.3L367.2 352.0L368.0 351.1L369.0 350.0L370.0 348.1L370.1 348.0L371.2 346.0L372.0 344.6L372.3 344.0L373.5 342.0L374.0 341.0L374.6 340.0L375.7 338.0L376.0 337.4L376.8 336.0L377.9 334.0L378.0 333.8L379.0 332.0L379.9 330.0L380.0 329.7L380.7 328.0L381.6 326.0L382.0 325.0L382.4 324.0L383.3 322.0L384.0 320.3L384.1 320.0L385.0 318.0L386.0 316.8L386.7 316.0L388.0 314.4L388.3 314.0L390.0 312.0L390.0 312.0L391.7 310.0L392.0 309.6L393.3 308.0L394.0 307.2L395.0 306.0L396.0 305.2L397.5 304.0L398.0 303.6L400.0 302.0L400.0 302.0L402.0 300.4L402.5 300.0L404.0 298.8L405.1 298.0L406.0 297.5L408.0 296.5L409.0 296.0L410.0 295.5L412.0 294.5L413.0 294.0L414.0 293.5L416.0 292.8L418.0 292.5L420.0 292.2L420.8 292.0L422.0 291.9L424.0 291.5L426.0 291.2L428.0 290.6L429.7 290.0L430.0 289.9L432.0 289.1L434.0 288.4L435.0 288.0L436.0 287.5L438.0 286.5L439.1 286.0L440.0 285.5L442.0 284.5L443.1 284.0L444.0 283.5L446.0 282.3L446.5 282.0L448.0 280.8L449.3 280.0L450.0 279.4L452.0 278.0L452.0 278.0L453.5 276.0L454.0 275.2L454.9 274.0L456.0 272.4L456.3 272.0L457.8 270.0L458.0 269.6L459.2 268.0L460.0 266.8L460.6 266.0L462.0 264.0L462.0 264.0L463.8 262.0L464.0 261.7L465.4 260.0L466.0 259.3L467.2 258.0L468.0 257.0L468.9 256.0L470.0 254.7L470.6 254.0L472.0 252.4L472.3 252.0L474.0 250.0L474.0 250.0L475.6 248.0L476.0 247.5L477.2 246.0L478.0 245.0L478.8 244.0L480.0 242.5L480.4 242.0L482.0 240.0L482.0 240.0L483.7 238.0L484.0 237.7L485.4 236.0L486.0 235.3L487.1 234.0L488.0 233.0L488.9 232.0L490.0 230.7L490.6 230.0L492.0 228.3L492.3 228.0L494.0 226.0L494.0 226.0L496.0 224.5L496.6 224.0L498.0 223.0L499.3 222.0L500.0 221.4L502.0 220.1L503.0 222.0L504.0 223.9L506.0 223.1L508.0 222.0L508.1 222.0L510.0 221.0L512.0 220.0L512.0 220.0L514.0 219.0L516.0 218.0L516.0 218.0L518.0 217.0L520.0 216.0L520.0 216.0L522.0 215.6L524.0 215.1L526.0 214.7L528.0 214.2L528.9 214.0L530.0 213.8L532.0 213.3L534.0 212.9L536.0 212.5L538.0 212.0L538.0 212.0L540.0 211.7L542.0 211.4L544.0 211.2L546.0 210.9L548.0 210.6L550.0 210.3L552.0 210.0L552.0 210.0L554.0 209.8L556.0 209.5L558.0 209.3L560.0 209.0L562.0 208.8L564.0 208.5L566.0 208.3L568.0 208.0L570.0 208.5L572.0 209.0L574.0 209.5L576.0 209.9L576.3 210.0L578.0 210.4L580.0 210.8L582.0 210.1L582.6 210.0L584.0 209.6L586.0 209.1L588.0 208.5L590.0 208.0L590.0 208.0L592.0 207.5L594.0 206.9L596.0 206.4L597.5 206.0L598.0 205.9L600.0 205.3L602.0 204.8L603.7 204.0L604.0 203.7L605.6 202.0L606.0 201.7L607.6 200.0L608.0 199.7L609.6 198.0L610.0 197.6L612.0 196.2L612.5 196.0L614.0 195.4L616.0 194.6L617.3 194.0L618.0 193.7L620.0 192.9L622.0 192.0L622.0 192.0L624.0 191.2L626.0 190.4L626.9 190.0L628.0 189.5L630.0 188.7L631.1 188.0L632.0 187.4L634.0 186.2L634.4 186.0L636.0 185.0L637.6 184.0L638.0 183.8L640.0 182.5L640.9 182.0L642.0 181.3L644.0 180.1L644.2 180.0L646.0 178.9L647.4 178.0L648.0 177.6L650.0 176.4L650.8 176.0L652.0 175.4L654.0 174.4L654.8 174.0L656.0 173.4L658.0 172.4L658.8 172.0L660.0 171.4L662.0 170.4L662.8 170.0L664.0 169.4L666.0 168.4L667.2 168.0L668.0 167.8L670.0 167.2L672.0 166.5L673.7 166.0L674.0 165.9L676.0 165.3L678.0 165.2L680.0 165.1L682.0 164.9L684.0 164.8L686.0 164.7L688.0 164.5L690.0 164.4L692.0 164.3L694.0 164.2L696.0 164.0L698.0 164.6L700.0 165.2L702.0 165.8L702.7 166.0L704.0 166.4L706.0 167.0L708.0 167.6L709.3 168.0L710.0 168.2L712.0 168.8L714.0 169.4L716.0 170.0L718.0 169.8L720.0 169.6L722.0 169.4L724.0 169.2L726.0 169.0L728.0 168.8L730.0 168.6L732.0 168.4L734.0 168.2L736.0 168.0"/><path d="M246.1 616.0L246.0 615.9L245.7 614.0L245.5 612.0L245.2 610.0L244.9 608.0L244.6 606.0L244.4 604.0L244.1 602.0L244.0 601.9L243.7 600.0L243.5 598.0L243.2 596.0L242.9 594.0L242.6 592.0L242.4 590.0L242.1 588.0L242.7 586.0L243.4 584.0L244.0 582.3L244.2 582.0L244.8 580.0L245.6 578.0L246.0 576.6L246.4 576.0L247.0 574.0L247.8 572.0L248.0 570.9L248.5 570.0L249.1 568.0L249.9 566.0L250.0 565.4L250.6 564.0L251.3 562.0L252.0 560.0L252.0 560.0L253.2 558.0L254.0 556.7L254.5 556.0L255.7 554.0L256.0 553.5L257.0 552.0L258.0 550.2L258.2 550.0L259.5 548.0L260.0 547.1L260.8 546.0L261.9 544.0L262.0 543.8L263.3 542.0L264.0 540.7L264.5 540.0L265.7 538.0L266.0 537.5L267.0 536.0L268.0 534.3L268.2 534.0L269.5 532.0L270.0 531.1L270.8 530.0L271.9 528.0L272.0 527.8L273.3 526.0L274.0 524.8L274.6 524.0L275.7 522.0L276.0 521.5L277.0 520.0L278.0 518.3L278.3 518.0L279.5 516.0L280.0 515.2L280.8 514.0L282.0 512.0L282.0 511.9L283.3 510.0L284.0 508.7L284.5 508.0L285.8 506.0L286.0 505.4L286.8 504.0L287.8 502.0L288.0 501.4L288.8 500.0L289.8 498.0L290.0 497.5L290.8 496.0L291.8 494.0L292.0 493.4L292.8 492.0L293.8 490.0L294.0 489.4L294.8 488.0L295.9 486.0L296.0 485.8L297.2 484.0L298.0 482.4L298.3 482.0L299.5 480.0L300.0 479.1L300.7 478.0L301.8 476.0L302.0 475.6L303.0 474.0L304.0 472.2L304.2 472.0L305.3 470.0L306.0 469.0L307.1 468.0L308.0 467.1L309.1 466.0L310.0 465.1L311.1 464.0L312.0 463.0L313.1 462.0L314.0 461.0L315.1 460.0L316.0 459.4L317.1 460.0L318.0 460.9L319.6 462.0L320.0 462.8L320.9 464.0L322.0 465.4L322.5 466.0L324.0 468.0L324.0 468.0L325.5 470.0L326.0 470.5L328.0 471.5L329.0 472.0L330.0 472.6L332.0 473.8L334.0 473.2L336.0 472.4L337.0 472.0L338.0 471.6L340.0 470.0L340.0 470.0L342.0 468.5L342.6 468.0L344.0 466.9L345.1 466.0L346.0 465.4L347.7 464.0L348.0 463.8L350.0 462.1L350.1 462.0L352.0 460.6L352.7 460.0L354.0 458.9L355.1 458.0L356.0 457.3L357.6 456.0L358.0 455.7L360.0 454.0L360.0 454.0L362.0 452.4L362.5 452.0L364.0 450.8L365.0 450.0L366.0 449.2L367.5 448.0L368.0 447.6L369.9 446.0L370.0 445.9L371.7 444.0L372.0 443.7L373.5 442.0L374.0 441.4L375.3 440.0L376.0 439.1L377.0 438.0L378.0 436.8L378.8 436.0L380.0 434.5L380.5 434.0L382.0 432.2L382.2 432.0L384.0 430.0L384.0 430.0L385.8 428.0L386.0 427.8L387.6 426.0L388.0 425.6L389.5 424.0L390.0 423.5L391.4 422.0L392.0 421.3L393.2 420.0L394.0 419.1L395.1 418.0L396.0 417.0L396.9 416.0L398.0 414.8L398.8 414.0L400.0 412.6L400.6 412.0L402.0 410.5L402.5 410.0L404.0 408.3L404.3 408.0L406.0 406.2L406.2 406.0L408.0 404.0L408.0 402.0L408.0 400.0L408.0 399.4L408.0 398.0L408.0 396.0L408.0 394.0L408.0 392.0L408.0 390.0L408.0 388.0L408.0 387.6L408.0 386.0L406.8 384.0L406.0 382.7L405.6 382.0L404.4 380.0L404.0 379.4L403.2 378.0L402.0 376.1L401.9 376.0L400.8 374.0L400.0 372.8L399.6 372.0L398.4 370.0L398.0 369.4L397.2 368.0L396.0 366.0L396.0 366.0L395.4 364.0L394.8 362.0L394.2 360.0L394.0 359.8L393.5 358.0L392.9 356.0L392.3 354.0L392.0 353.5L391.7 352.0L391.1 350.0L391.2 348.0L391.3 346.0L391.4 344.0L391.5 342.0L391.6 340.0L391.8 338.0L391.9 336.0L392.0 334.3L392.1 334.0L392.4 332.0L392.7 330.0L393.0 328.0L393.4 326.0L393.7 324.0L394.0 322.0L394.0 322.0L395.0 320.0L396.0 318.0L396.0 317.9L397.0 316.0L398.0 314.0L398.0 314.0L399.9 312.0L400.0 311.9L401.8 310.0L402.0 309.8L403.8 308.0L404.0 307.8L405.9 306.0L406.0 305.9L407.8 304.0L408.0 303.8L409.8 302.0L410.0 301.8L412.0 300.0L412.0 300.0L414.0 299.4L416.0 298.8L418.0 298.2L418.3 298.0L420.0 297.6L422.0 296.9L424.0 296.4L424.9 296.0L426.0 295.8L428.0 295.4L430.0 295.0L432.0 294.6L434.0 294.4L434.7 294.0L436.0 293.8L438.0 293.1L440.0 292.6L441.4 292.0L442.0 291.9L444.0 291.3L446.0 290.6L447.0 290.0L448.0 289.6L450.0 288.7L451.3 288.0L452.0 287.8L454.0 286.8L455.5 286.0L456.0 285.8L458.0 284.9L459.9 284.0L460.0 284.0L462.0 282.7L463.1 282.0L464.0 281.5L466.0 280.2L466.3 280.0L468.0 279.0L469.5 278.0L470.0 277.7L472.0 276.5L472.7 276.0L474.0 275.2L476.0 274.0L476.0 274.0L478.0 273.3L480.0 272.7L482.0 272.0L482.0 272.0L484.0 271.3L486.0 270.7L488.0 270.0L490.0 270.5L492.0 271.0L494.0 271.5L496.0 271.9L498.0 271.4L500.0 271.0L502.0 270.5L503.7 270.0L502.0 269.3L500.0 268.6L498.0 268.0L498.0 268.0L496.0 267.4L494.0 266.8L492.1 266.0L493.7 264.0L494.0 263.8L495.8 262.0L496.0 261.8L497.9 260.0L498.0 259.9L499.8 258.0L500.0 257.8L501.8 256.0L502.0 255.8L504.0 254.0L504.0 254.0L506.0 253.0L507.9 252.0L508.0 252.0L510.0 251.0L511.9 250.0L512.0 249.9L513.9 248.0L514.0 247.9L515.8 246.0L516.0 245.9L517.9 244.0L518.0 243.9L519.9 242.0L520.0 241.9L521.8 240.0L522.0 239.9L523.9 238.0L524.0 237.9L525.9 236.0L526.0 235.9L527.8 234.0L528.0 233.9L529.8 232.0L530.0 231.8L532.0 230.0L532.0 230.0L534.0 229.0L535.8 228.0L536.0 227.9L538.0 227.0L539.8 226.0L540.0 225.9L542.0 225.0L543.8 224.0L544.0 223.9L546.0 223.0L548.0 222.0L548.0 222.0L550.0 221.4L552.0 220.8L554.0 220.3L554.4 220.0L556.0 219.6L558.0 219.0L560.0 218.5L561.0 218.0L562.0 217.8L564.0 217.2L566.0 216.6L568.0 216.1L570.0 216.6L572.0 217.2L574.0 217.8L575.0 218.0L576.0 218.5L578.0 219.0L580.0 219.6L581.6 220.0L582.0 220.3L584.0 220.8L586.0 221.4L588.0 222.0L588.0 222.0L588.0 222.0L590.0 221.8L592.0 221.5L594.0 221.3L596.0 221.1L598.0 220.8L600.0 220.6L602.0 220.4L603.8 220.0L604.0 220.0L606.0 219.4L608.0 218.9L610.0 218.4L611.3 218.0L612.0 217.9L614.0 217.3L616.0 216.8L618.0 216.3L618.9 216.0L620.0 215.8L622.0 215.2L624.0 214.7L626.0 214.3L626.5 214.0L628.0 212.5L628.3 212.0L630.0 210.1L630.1 210.0L631.8 208.0L632.0 207.8L633.6 206.0L634.0 205.6L635.4 204.0L636.0 203.3L637.1 202.0L638.0 201.2L640.0 200.3L640.4 200.0L642.0 199.2L644.0 198.2L644.3 198.0L646.0 197.2L648.0 196.3L648.4 196.0L650.0 195.2L652.0 194.3L652.3 194.0L654.0 193.3L656.0 192.3L656.5 192.0L658.0 191.6L660.0 191.1L662.0 190.6L664.0 190.2L664.3 190.0L666.0 189.6L668.0 189.1L670.0 188.6L672.0 188.1L672.1 188.0L674.0 187.5L676.0 187.0L678.0 186.7L680.0 186.4L682.0 186.2L682.5 186.0L684.0 185.8L686.0 185.5L688.0 185.2L690.0 184.9L692.0 184.6L694.0 184.4L696.0 184.1L698.0 184.5L700.0 185.0L702.0 185.5L704.0 186.0L704.0 186.0L706.0 186.5L708.0 187.0L710.0 187.5L712.0 188.0L712.0 188.0L714.0 188.5L716.0 189.0L718.0 188.6L720.0 188.3L720.8 188.0L722.0 187.8L724.0 187.4L726.0 187.0L728.0 186.6L730.0 186.3L730.8 186.0L732.0 185.8L734.0 185.4L736.0 185.1"/></g>
<g><path fill="#fdc171" d="M174.0 62.0 L188.0 58.0 L248.0 58.0 L220.0 64.0 L198.0 65.0 Z"/><path fill="#f7814c" d="M220.5 108.5 L233.0 103.5 L248.0 106.0 L255.5 112.0 L250.5 120.0 L238.0 120.0 L225.5 116.0 Z"/><path fill="#f7814c" d="M264.0 138.5 L273.0 123.5 L293.0 120.5 L300.5 128.5 L308.0 131.0 L310.5 138.5 L305.5 151.0 L293.0 148.5 L278.0 146.0 L265.5 143.5 Z"/><path fill="#f7814c" d="M129.0 140.0 L134.0 137.0 L140.0 140.0 L136.0 145.0 L130.0 144.0 Z"/><path fill="#fdaf62" d="M178.0 181.0 L180.5 161.0 L193.0 146.0 L213.0 133.5 L233.0 140.0 L230.5 146.0 L210.5 156.0 L203.0 166.0 L218.0 163.5 L221.5 167.0 L213.0 186.0 L210.5 196.0 L203.0 197.0 L198.0 188.5 L183.0 183.5 Z"/><path fill="#fdaf62" d="M230.5 188.5 L238.0 166.0 L245.5 163.5 L250.5 172.0 L268.0 171.0 L283.0 166.0 L280.5 178.5 L268.0 188.5 L248.0 196.0 L233.0 196.0 Z"/><path fill="#fdaf62" d="M108.0 228.0 L116.0 224.0 L124.0 233.0 L119.0 240.0 L128.0 247.0 L141.0 238.0 L155.0 250.0 L151.0 260.0 L140.0 268.0 L140.0 280.0 L132.0 282.0 L126.0 274.0 L116.0 271.0 L108.0 270.0 Z"/><path fill="#f7814c" d="M300.0 96.0 L295.0 93.0 L316.0 88.0 L336.0 82.0 L340.0 86.0 L330.0 95.0 L346.7 100.2 L354.2 92.1 L365.4 89.0 L370.3 90.8 L365.4 98.3 L357.9 105.8 L346.7 112.0 L333.0 118.2 L318.0 110.0 L307.0 101.0 Z"/><path fill="#e85b48" d="M276.0 444.0 L284.0 420.0 L298.0 411.0 L294.0 424.0 L280.0 446.0 Z"/><path fill="#cd364d" d="M423.0 226.0 L430.0 221.0 L440.0 222.0 L442.0 229.0 L432.0 232.0 L424.0 231.0 Z"/><path fill="#f36b43" d="M504.0 154.0 L512.0 156.0 L520.0 166.0 L516.0 170.0 L506.0 166.0 Z"/><path fill="#ba2049" d="M620.0 150.0 L626.0 140.0 L636.0 134.0 L646.0 140.0 L648.0 148.0 L640.0 154.0 L626.0 154.0 Z"/><path fill="#cd364d" d="M472.0 226.7 L469.3 209.3 L481.3 206.7 L489.3 204.7 L500.0 205.3 L501.3 210.7 L492.0 216.0 L481.3 218.7 L476.0 224.0 Z"/><path fill="#e85b48" d="M548.0 176.0 L552.0 188.0 L558.0 197.0 L566.0 196.0 L571.0 186.0 L570.0 174.0 L560.0 172.0 Z"/><path fill="#e85b48" d="M580.5 174.0 L582.0 186.0 L587.0 192.0 L590.0 184.0 L590.0 173.0 Z"/></g>
<g fill="none" stroke="#d0d0d0" stroke-width="1.5"><path d="M174.0 62.0 L188.0 58.0 L248.0 58.0 L220.0 64.0 L198.0 65.0 Z"/><path d="M220.5 108.5 L233.0 103.5 L248.0 106.0 L255.5 112.0 L250.5 120.0 L238.0 120.0 L225.5 116.0 Z"/><path d="M264.0 138.5 L273.0 123.5 L293.0 120.5 L300.5 128.5 L308.0 131.0 L310.5 138.5 L305.5 151.0 L293.0 148.5 L278.0 146.0 L265.5 143.5 Z"/><path d="M129.0 140.0 L134.0 137.0 L140.0 140.0 L136.0 145.0 L130.0 144.0 Z"/><path d="M178.0 181.0 L180.5 161.0 L193.0 146.0 L213.0 133.5 L233.0 140.0 L230.5 146.0 L210.5 156.0 L203.0 166.0 L218.0 163.5 L221.5 167.0 L213.0 186.0 L210.5 196.0 L203.0 197.0 L198.0 188.5 L183.0 183.5 Z"/><path d="M230.5 188.5 L238.0 166.0 L245.5 163.5 L250.5 172.0 L268.0 171.0 L283.0 166.0 L280.5 178.5 L268.0 188.5 L248.0 196.0 L233.0 196.0 Z"/><path d="M108.0 228.0 L116.0 224.0 L124.0 233.0 L119.0 240.0 L128.0 247.0 L141.0 238.0 L155.0 250.0 L151.0 260.0 L140.0 268.0 L140.0 280.0 L132.0 282.0 L126.0 274.0 L116.0 271.0 L108.0 270.0 Z"/><path d="M300.0 96.0 L295.0 93.0 L316.0 88.0 L336.0 82.0 L340.0 86.0 L330.0 95.0 L346.7 100.2 L354.2 92.1 L365.4 89.0 L370.3 90.8 L365.4 98.3 L357.9 105.8 L346.7 112.0 L333.0 118.2 L318.0 110.0 L307.0 101.0 Z"/><path d="M276.0 444.0 L284.0 420.0 L298.0 411.0 L294.0 424.0 L280.0 446.0 Z"/><path d="M423.0 226.0 L430.0 221.0 L440.0 222.0 L442.0 229.0 L432.0 232.0 L424.0 231.0 Z"/><path d="M504.0 154.0 L512.0 156.0 L520.0 166.0 L516.0 170.0 L506.0 166.0 Z"/><path d="M620.0 150.0 L626.0 140.0 L636.0 134.0 L646.0 140.0 L648.0 148.0 L640.0 154.0 L626.0 154.0 Z"/><path d="M472.0 226.7 L469.3 209.3 L481.3 206.7 L489.3 204.7 L500.0 205.3 L501.3 210.7 L492.0 216.0 L481.3 218.7 L476.0 224.0 Z"/><path d="M548.0 176.0 L552.0 188.0 L558.0 197.0 L566.0 196.0 L571.0 186.0 L570.0 174.0 L560.0 172.0 Z"/><path d="M580.5 174.0 L582.0 186.0 L587.0 192.0 L590.0 184.0 L590.0 173.0 Z"/></g>
<g>
<ellipse cx="283.5" cy="598.5" rx="2.6" ry="3.3" fill="none" stroke="#d2d2d2" stroke-width="1.2"/>
<path d="M684 90 L688 76 L700 71 L716 70 L724 76 L727 88 L716 84 L704 88 L694 94 L689 101 Z" fill="#6a3232" fill-opacity="0.55"/>
<path d="M684.6 105 L690.3 88.6 L696 84 L705.1 81.7 L712 76 L718 76" fill="none" stroke="#cfc4c4" stroke-width="5.5" stroke-linecap="round"/>
<path d="M685.5 103 L690.8 89.5 L696.5 85 L705.5 82.5 L712.5 77" fill="none" stroke="#f4f0f0" stroke-width="2.2" stroke-linecap="round"/>
<path d="M683.4 103 L692 102.5 L696 106 L690 108 L684 107 Z" fill="#ddd5d5"/>
<path d="M665.1 130.9 L664 119.4 L667.4 111.4 L673.1 110.3 L678.9 113.7 L677.7 119.4 L672 128.6 Z" fill="#8a6c6c"/>
<path d="M667 126 L667 118 L671 114 L675 116 L672 124 Z" fill="#c9bcbc"/>
<path d="M689 64 L718 64" stroke="#6a3030" stroke-width="2"/>
<path d="M687 121 L700 124 L702 129 L690 127 Z" fill="#6a3030" fill-opacity="0.8"/>
<path d="M690 115 L697 119" stroke="#6a3030" stroke-width="2"/>
</g>
<g fill="#cccccc"><path d="M512.6 616.0 L512.6 604.7 L518.2 597.1 L520.0 591.4 L533.3 593.3 L542.8 593.3 L552.2 587.7 L557.9 580.1 L563.6 577.3 L576.8 582.0 L571.1 597.1 L561.7 604.7 L554.1 608.4 L554.1 616.0 Z"/><path d="M596.0 616.0 L598.0 606.0 L606.0 601.0 L616.0 604.0 L624.0 610.0 L628.0 616.0 Z"/><path d="M601.0 576.0 L605.0 569.0 L611.0 568.0 L608.0 575.0 Z"/><path d="M540.0 532.0 L547.0 531.0 L548.0 539.0 L541.0 540.0 Z"/><path d="M690.0 616.0 L690.0 608.0 L698.6 607.0 L698.6 616.0 Z"/><path d="M703.6 607.0 L709.3 607.0 L709.3 613.6 L703.6 613.6 Z"/><path d="M600.0 409.0 L604.0 401.0 L612.0 398.0 L621.0 397.0 L619.0 403.0 L608.0 407.0 Z"/><path d="M578.7 449.0 L578.7 440.0 L590.0 436.4 L600.0 438.0 L607.0 439.0 L604.0 446.0 L592.0 447.0 Z"/><path d="M598.0 427.0 L606.0 427.0 L612.0 432.0 L619.6 434.0 L616.0 436.4 L604.0 436.0 Z"/><path d="M491.0 310.0 L498.0 307.0 L508.0 302.0 L514.0 300.0 L520.0 302.0 L518.0 310.0 L508.0 313.0 L500.0 316.0 L494.0 313.0 Z"/><path d="M548.0 286.0 L560.0 286.0 L559.0 291.0 L549.0 291.0 Z"/><path d="M657.8 192.7 L668.4 190.0 L682.7 190.9 L700.4 187.3 L718.2 189.1 L735.0 190.0 L735.0 217.6 L727.1 208.7 L700.4 206.9 L682.7 205.1 L670.2 201.6 L659.6 199.8 Z"/><path d="M626.0 300.0 L630.0 292.0 L638.0 293.0 L642.0 300.0 L640.0 310.0 L632.0 308.0 Z"/><path d="M670.0 304.0 L671.0 294.0 L676.0 290.0 L680.0 296.0 L680.0 304.0 Z"/><path d="M657.0 316.0 L659.0 309.0 L665.0 310.0 L665.0 316.0 Z"/><path d="M582.0 234.0 L590.0 232.0 L602.0 234.0 L600.0 238.0 L584.0 238.0 Z"/><path d="M468.0 196.7 L476.9 194.9 L485.8 196.7 L484.0 202.9 L473.3 203.8 L469.8 208.2 L467.1 205.6 Z"/><path d="M487.6 196.0 L495.0 193.0 L503.6 195.0 L502.0 201.0 L490.0 201.0 Z"/><path d="M516.9 188.0 L522.0 186.9 L528.4 190.0 L528.4 201.1 L518.0 200.0 Z"/><path d="M450.2 237.6 L451.1 228.7 L457.3 223.3 L466.2 221.6 L469.8 226.9 L462.7 230.4 L459.1 237.6 Z"/><path d="M548.4 290.7 L553.8 280.9 L563.6 277.3 L560.0 281.8 L558.2 290.7 Z"/><path d="M567.1 275.6 L568.0 271.1 L574.2 267.1 L578.7 269.3 L573.3 273.8 L570.7 275.6 Z"/><path d="M467.0 197.7 L490.0 194.0 L515.0 192.5 L530.0 191.8 L530.0 201.7 L515.0 202.0 L492.0 203.5 L467.0 205.6 Z"/></g>
<g fill="none" stroke="#000" stroke-linejoin="round"><rect x="545.0" y="345.0" width="4" height="4" stroke-width="1.3" transform="rotate(45 547.0 347.0)"/><rect x="594.0" y="384.0" width="4" height="4" stroke-width="1.3" transform="rotate(45 596.0 386.0)"/><rect x="633.0" y="383.0" width="4" height="4" stroke-width="1.3" transform="rotate(45 635.0 385.0)"/><rect x="641.0" y="383.0" width="4" height="4" stroke-width="1.3" transform="rotate(45 643.0 385.0)"/><rect x="494.0" y="454.0" width="4" height="4" stroke-width="1.3" transform="rotate(45 496.0 456.0)"/><rect x="513.0" y="455.0" width="4" height="4" stroke-width="1.3" transform="rotate(45 515.0 457.0)"/><rect x="476.0" y="311.0" width="4" height="4" stroke-width="1.3" transform="rotate(45 478.0 313.0)"/><rect x="452.0" y="332.0" width="4" height="4" stroke-width="1.3" transform="rotate(45 454.0 334.0)"/><rect x="458.0" y="331.0" width="4" height="4" stroke-width="1.3" transform="rotate(45 460.0 333.0)"/><rect x="464.0" y="333.0" width="4" height="4" stroke-width="1.3" transform="rotate(45 466.0 335.0)"/><rect x="470.0" y="332.0" width="4" height="4" stroke-width="1.3" transform="rotate(45 472.0 334.0)"/><rect x="503.0" y="328.0" width="4" height="4" stroke-width="1.3" transform="rotate(45 505.0 330.0)"/><rect x="541.0" y="303.0" width="4" height="4" stroke-width="1.3" transform="rotate(45 543.0 305.0)"/><rect x="543.0" y="326.0" width="4" height="4" stroke-width="1.3" transform="rotate(45 545.0 328.0)"/><rect x="513.0" y="354.0" width="4" height="4" stroke-width="1.3" transform="rotate(45 515.0 356.0)"/><rect x="504.0" y="361.0" width="4" height="4" stroke-width="1.3" transform="rotate(45 506.0 363.0)"/><rect x="510.0" y="366.0" width="4" height="4" stroke-width="1.3" transform="rotate(45 512.0 368.0)"/><rect x="436.0" y="381.0" width="4" height="4" stroke-width="1.3" transform="rotate(45 438.0 383.0)"/><rect x="594.0" y="240.0" width="4" height="4" stroke-width="1.3" transform="rotate(45 596.0 242.0)"/><rect x="678.0" y="276.0" width="4" height="4" stroke-width="1.3" transform="rotate(45 680.0 278.0)"/><rect x="656.0" y="325.0" width="4" height="4" stroke-width="1.3" transform="rotate(45 658.0 327.0)"/><rect x="662.0" y="327.0" width="4" height="4" stroke-width="1.3" transform="rotate(45 664.0 329.0)"/><rect x="620.0" y="332.0" width="4" height="4" stroke-width="1.3" transform="rotate(45 622.0 334.0)"/><rect x="718.0" y="227.0" width="4" height="4" stroke-width="1.3" transform="rotate(45 720.0 229.0)"/><rect x="694.0" y="218.0" width="4" height="4" stroke-width="1.3" transform="rotate(45 696.0 220.0)"/><rect x="392.0" y="298.0" width="4" height="4" stroke-width="1.3" transform="rotate(45 394.0 300.0)"/><rect x="405.0" y="360.0" width="4" height="4" stroke-width="1.3" transform="rotate(45 407.0 362.0)"/><rect x="418.0" y="247.0" width="4" height="4" stroke-width="1.3" transform="rotate(45 420.0 249.0)"/><rect x="400.0" y="416.0" width="4" height="4" stroke-width="1.3" transform="rotate(45 402.0 418.0)"/><rect x="506.0" y="348.0" width="4" height="4" stroke-width="1.3" transform="rotate(45 508.0 350.0)"/><rect x="514.0" y="347.0" width="4" height="4" stroke-width="1.3" transform="rotate(45 516.0 349.0)"/><path stroke-width="1.5" d="M108.0 96.5 L118.0 99.8 L145.5 96.0 L183.0 93.5 L233.0 87.0 L273.0 85.0 L308.0 80.0 L320.0 79.3 L333.0 76.0 L348.0 71.7 L366.7 71.3 L380.0 68.0 L389.0 66.0 L402.7 61.0 L418.9 57.2 L421.0 56.0"/><path stroke-width="1.5" d="M108.0 183.5 L113.0 188.5 L123.0 186.0 L145.5 183.5 L173.0 184.0 L203.0 190.0 L210.5 194.8 L233.0 190.0 L258.0 188.5 L264.0 190.0 L281.0 179.5 L295.0 177.0 L308.0 182.5 L308.0 192.0 L315.0 196.0 L316.0 199.0 L310.0 208.0 L304.0 216.0 L299.0 226.0 L294.0 238.0 L298.0 251.0 L300.0 258.0 L300.0 269.0 L295.0 277.0 L288.0 284.0 L282.0 290.0 L270.0 304.0 L262.0 314.0 L257.0 322.0 L256.0 334.0 L250.0 340.0 L248.0 342.0 L246.0 364.0 L234.0 388.0"/><path stroke-width="1.5" d="M192.0 448.0 L170.0 476.0 L154.0 496.0 L130.0 520.0 L116.0 532.0 L110.0 514.0 L108.0 510.0"/><path stroke-width="1.5" d="M168.0 616.0 L192.0 604.0 L212.0 564.0 L238.0 530.0 L259.0 506.0 L281.3 486.0 L292.4 478.8 L299.1 478.8 L308.0 482.7 L311.3 488.2 L320.0 506.0 L318.0 530.0 L334.0 546.0 L358.0 568.0 L388.0 590.0 L408.0 600.0 L428.0 608.0 L448.0 616.0"/><path stroke-width="1.5" d="M428.0 440.0 L412.0 448.0 L398.0 444.0 L378.0 446.0 L384.0 432.0 L384.0 410.0 L384.0 388.0 L370.0 388.0 L358.0 378.0 L362.0 362.0 L367.0 349.0 L375.0 340.0 L379.0 330.0 L382.0 315.0 L386.0 300.0 L390.0 290.0 L388.0 276.0 L384.0 244.0 L385.8 244.9 L384.7 233.8 L390.2 226.0 L384.7 221.6 L386.9 213.8 L378.0 214.9 L376.9 206.0 L371.0 200.0 L373.0 191.0 L384.0 186.0 L391.0 187.0 L396.0 184.0 L403.0 178.0 L404.0 176.0 L407.0 178.0 L406.0 184.0 L418.0 169.0 L431.0 168.5 L436.0 172.0 L438.0 176.0 L458.0 176.0 L462.0 175.0 L470.0 175.0 L478.0 174.0 L487.9 174.4 L514.6 179.1 L527.0 180.0 L549.0 177.5 L571.7 179.4 L587.4 177.8 L596.8 177.8 L603.1 181.0 L614.1 181.0 L622.0 177.8 L631.4 171.5 L634.5 165.3 L637.7 154.3 L637.7 138.6 L642.4 135.4 L640.8 130.7 L642.7 122.9 L641.0 115.1 L641.0 105.8 L641.0 96.4 L642.7 87.1 L647.3 94.9 L653.5 102.7 L655.0 98.0 L652.0 90.2 L647.3 84.0 L639.5 77.8 L636.4 73.1 L641.0 65.3 L638.0 56.0"/><path stroke-width="2.2" d="M629.4 65.0 L634.9 71.6"/><path stroke-width="1.5" d="M500.0 402.0 L494.0 396.0 L492.0 376.0 L492.0 366.0 L488.0 356.0 L492.0 338.0 L498.0 328.0 L500.0 320.0 L508.0 316.0 L518.0 314.0 L528.0 308.0 L536.0 300.0 L548.0 292.0 L558.0 288.0 L576.0 276.0 L592.0 274.0 L596.0 264.0 L606.0 260.0 L608.0 252.0 L616.0 248.0 L618.0 244.0 L628.0 244.0 L636.0 248.0 L644.0 240.0"/><path stroke-width="1.5" d="M736.0 260.0 L722.0 280.0 L716.0 292.0 L700.0 314.0 L688.0 336.0 L692.0 346.0 L708.0 366.0 L684.0 384.0 L676.0 412.0 L656.0 416.0 L640.0 432.0 L628.0 452.0 L604.0 456.0 L580.0 452.0 L544.0 456.0 L520.0 472.0 L504.0 486.0 L488.0 476.0 L476.0 464.0 L472.0 452.0 L460.0 444.0 L444.0 438.0 L428.0 440.0"/><path stroke-width="1.5" d="M546.7 447.1 L555.6 441.8 L573.3 429.3 L582.2 427.6 L594.7 424.0 L600.0 423.1 L603.6 427.6"/><path stroke-width="1.5" d="M512.9 476.0 L523.6 468.4 L536.0 466.7 L544.9 457.8 L555.6 456.0 L582.2 456.0 L603.6 456.9 L628.0 454.0 L664.0 452.0"/><path stroke-width="1.5" d="M480.0 500.0 L510.0 494.0 L514.0 508.0 L532.0 522.0 L568.0 522.0 L600.0 518.0 L604.0 522.0 L644.0 523.0 L668.0 502.0 L688.0 488.0 L708.0 484.0 L732.0 468.0 L736.0 464.0"/><path stroke-width="1.5" d="M384.0 616.0 L390.0 606.0 L408.0 598.0 L428.0 591.0 L452.0 576.0 L472.0 548.0 L484.0 524.0 L488.0 504.0 L494.0 496.0"/><path stroke-width="1.5" d="M688.0 218.0 L704.0 222.0 L720.0 228.0 L736.0 228.0"/><path stroke-width="1.5" d="M647.4 256.3 L651.7 249.1 L657.4 247.7 L664.6 246.3 L674.6 247.7 L678.9 250.6 L671.7 253.4 L664.6 254.9 L657.4 253.4 L650.3 257.7 L647.4 256.3"/><path stroke-width="1.5" d="M644.0 240.0 L650.3 234.9 L658.9 229.1 L668.9 229.1 L676.0 233.4 L687.4 239.1 L691.7 237.7 L697.4 240.6"/><path stroke-width="1.5" d="M504.0 352.0 L512.0 346.0 L522.0 348.0 L520.0 358.0 L510.0 366.0 L504.0 362.0 L504.0 352.0"/><path stroke-width="1.5" d="M600.0 302.0 L604.0 298.0 L608.0 300.0 L606.0 306.0 L601.0 306.0 L600.0 302.0"/><path stroke-width="1.5" d="M428.0 386.0 L436.0 384.0 L440.0 392.0 L434.0 400.0 L428.0 398.0"/><path stroke-width="1.5" d="M472.0 270.0 L478.0 268.0 L481.0 274.0 L476.0 276.0"/><path stroke-width="1.5" d="M550.2 280.0 L555.6 273.8 L562.7 270.2 L568.0 266.7 L567.1 261.3 L573.3 260.4 L581.3 261.3 L575.1 264.0 L571.6 267.6"/></g>
<g fill="none" stroke="#000" stroke-width="1.2"><path d="M186.9 40.0 L135.1 640.0"/><path d="M348.8 40.0 L332.7 640.0"/><path d="M510.5 40.0 L529.9 640.0"/><path d="M672.9 40.0 L727.9 640.0"/><path d="M90.0 97.4 L107.2 99.4 L124.4 101.3 L141.5 103.1 L158.7 104.7 L175.9 106.3 L193.1 107.8 L210.3 109.1 L227.4 110.4 L244.6 111.5 L261.8 112.6 L279.0 113.5 L296.2 114.3 L313.3 115.0 L330.5 115.6 L347.7 116.2 L364.9 116.6 L382.1 116.9 L399.2 117.1 L416.4 117.1 L433.6 117.1 L450.8 117.0 L467.9 116.8 L485.1 116.5 L502.3 116.0 L519.5 115.5 L536.7 114.8 L553.8 114.1 L571.0 113.2 L588.2 112.3 L605.4 111.2 L622.6 110.0 L639.7 108.7 L656.9 107.4 L674.1 105.9 L691.3 104.3 L708.5 102.6 L725.6 100.8 L742.8 98.8 L760.0 96.8"/><path d="M90.0 309.1 L107.2 310.9 L124.4 312.7 L141.5 314.3 L158.7 315.9 L175.9 317.3 L193.1 318.7 L210.3 320.0 L227.4 321.1 L244.6 322.2 L261.8 323.1 L279.0 324.0 L296.2 324.8 L313.3 325.4 L330.5 326.0 L347.7 326.5 L364.9 326.9 L382.1 327.1 L399.2 327.3 L416.4 327.4 L433.6 327.4 L450.8 327.3 L467.9 327.1 L485.1 326.8 L502.3 326.4 L519.5 325.9 L536.7 325.3 L553.8 324.6 L571.0 323.8 L588.2 322.9 L605.4 321.9 L622.6 320.8 L639.7 319.6 L656.9 318.3 L674.1 316.9 L691.3 315.4 L708.5 313.9 L725.6 312.2 L742.8 310.4 L760.0 308.5"/><path d="M90.0 518.7 L107.2 520.4 L124.4 522.1 L141.5 523.6 L158.7 525.1 L175.9 526.4 L193.1 527.7 L210.3 528.9 L227.4 530.0 L244.6 530.9 L261.8 531.9 L279.0 532.7 L296.2 533.4 L313.3 534.0 L330.5 534.5 L347.7 535.0 L364.9 535.3 L382.1 535.6 L399.2 535.8 L416.4 535.8 L433.6 535.8 L450.8 535.7 L467.9 535.5 L485.1 535.2 L502.3 534.9 L519.5 534.4 L536.7 533.8 L553.8 533.2 L571.0 532.4 L588.2 531.6 L605.4 530.7 L622.6 529.6 L639.7 528.5 L656.9 527.3 L674.1 526.0 L691.3 524.6 L708.5 523.2 L725.6 521.6 L742.8 519.9 L760.0 518.2"/></g>
<rect x="734.0" y="360" width="1.4" height="256.2" fill="#fff"/><rect x="108.9" y="477" width="1.2" height="139.2" fill="#fff"/>
<text x="212.5" y="418.5" font-size="17" text-anchor="middle" dominant-baseline="central" textLength="57" lengthAdjust="spacingAndGlyphs" transform="rotate(-49.6 212.5 418.5)">1560.0</text>
<text x="528.5" y="424.5" font-size="17" text-anchor="middle" dominant-baseline="central" textLength="57" lengthAdjust="spacingAndGlyphs" transform="rotate(41.6 528.5 424.5)">1560.0</text>
<text x="697.8" y="446.8" font-size="17" text-anchor="middle" dominant-baseline="central" textLength="57" lengthAdjust="spacingAndGlyphs" transform="rotate(-5.3 697.8 446.8)">1560.0</text>
<text x="664.0" y="221.5" font-size="17" text-anchor="middle" dominant-baseline="central" textLength="57" lengthAdjust="spacingAndGlyphs" transform="rotate(38.9 664.0 221.5)">1560.0</text>
<text x="716.8" y="261.3" font-size="17" text-anchor="middle" dominant-baseline="central" textLength="57" lengthAdjust="spacingAndGlyphs" transform="rotate(56.3 716.8 261.3)">1560.0</text>
<text x="260.4" y="593" font-size="17.6" fill="#3c3c3c" textLength="323" lengthAdjust="spacingAndGlyphs">Grey contours: precipitation ≥ 0.5 mm</text>
<path d="M407 345 L436.5 326.5" stroke="#000" stroke-width="4"/><circle cx="422.5" cy="336.2" r="6" fill="#ff0000" stroke="#000" stroke-width="2.6"/>
</g>
<rect x="108.6" y="56.4" width="627.1" height="559.8" fill="none" stroke="#000" stroke-width="1.25"/>
<rect x="750.6" y="132.20" width="20.4" height="14.96" fill="#a70b44"/><rect x="750.6" y="146.76" width="20.4" height="14.96" fill="#ba2049"/><rect x="750.6" y="161.31" width="20.4" height="14.96" fill="#cd364d"/><rect x="750.6" y="175.87" width="20.4" height="14.96" fill="#dc484c"/><rect x="750.6" y="190.43" width="20.4" height="14.96" fill="#e85b48"/><rect x="750.6" y="204.99" width="20.4" height="14.96" fill="#f36b43"/><rect x="750.6" y="219.54" width="20.4" height="14.96" fill="#f7814c"/><rect x="750.6" y="234.10" width="20.4" height="14.96" fill="#fa9857"/><rect x="750.6" y="248.66" width="20.4" height="14.96" fill="#fdaf62"/><rect x="750.6" y="263.21" width="20.4" height="14.96" fill="#fdc171"/><rect x="750.6" y="277.77" width="20.4" height="14.96" fill="#fed27f"/><rect x="750.6" y="292.33" width="20.4" height="14.96" fill="#fee491"/><rect x="750.6" y="306.89" width="20.4" height="14.96" fill="#feefa3"/><rect x="750.6" y="321.44" width="20.4" height="14.96" fill="#fffab6"/><rect x="750.6" y="336.00" width="20.4" height="14.96" fill="#fbfdb8"/><rect x="750.6" y="350.56" width="20.4" height="14.96" fill="#f2faaa"/><rect x="750.6" y="365.11" width="20.4" height="14.96" fill="#e9f69d"/><rect x="750.6" y="379.67" width="20.4" height="14.96" fill="#d8ef9b"/><rect x="750.6" y="394.23" width="20.4" height="14.96" fill="#c1e6a0"/><rect x="750.6" y="408.79" width="20.4" height="14.96" fill="#acdda4"/><rect x="750.6" y="423.34" width="20.4" height="14.96" fill="#94d4a4"/><rect x="750.6" y="437.90" width="20.4" height="14.96" fill="#7ccaa5"/><rect x="750.6" y="452.46" width="20.4" height="14.96" fill="#64c0a6"/><rect x="750.6" y="467.01" width="20.4" height="14.96" fill="#52abae"/><rect x="750.6" y="481.57" width="20.4" height="14.96" fill="#3f97b7"/><rect x="750.6" y="496.13" width="20.4" height="14.96" fill="#3880b9"/><rect x="750.6" y="510.69" width="20.4" height="14.96" fill="#486cb0"/><rect x="750.6" y="525.24" width="20.4" height="14.96" fill="#5758a6"/><path fill="#9e0142" d="M750.6 132.5 L760.8 111.7 L771.0 132.5 Z"/><path fill="#5e4fa2" d="M750.6 539.5 L760.8 560.4 L771.0 539.5 Z"/><path fill="none" stroke="#000" stroke-width="1" d="M750.6 132.2 L760.8 111.7 L771.0 132.2 L771.0 539.8 L760.8 560.4 L750.6 539.8 Z"/><text x="775.0" y="170.9" font-size="29.5" text-anchor="start" fill="#000" textLength="36.0" lengthAdjust="spacingAndGlyphs">18</text><text x="775.0" y="214.6" font-size="29.5" text-anchor="start" fill="#000" textLength="36.0" lengthAdjust="spacingAndGlyphs">15</text><text x="775.0" y="258.3" font-size="29.5" text-anchor="start" fill="#000" textLength="36.0" lengthAdjust="spacingAndGlyphs">12</text><text x="775.0" y="301.9" font-size="29.5" text-anchor="start" fill="#000" textLength="19.0" lengthAdjust="spacingAndGlyphs">9</text><text x="775.0" y="345.6" font-size="29.5" text-anchor="start" fill="#000" textLength="19.0" lengthAdjust="spacingAndGlyphs">6</text><text x="775.0" y="389.3" font-size="29.5" text-anchor="start" fill="#000" textLength="19.0" lengthAdjust="spacingAndGlyphs">3</text><text x="775.0" y="432.9" font-size="29.5" text-anchor="start" fill="#000" textLength="19.0" lengthAdjust="spacingAndGlyphs">0</text><text x="775.0" y="476.6" font-size="29.5" text-anchor="start" fill="#000" textLength="41.0" lengthAdjust="spacingAndGlyphs">−3</text><text x="775.0" y="520.3" font-size="29.5" text-anchor="start" fill="#000" textLength="41.0" lengthAdjust="spacingAndGlyphs">−6</text><path stroke="#000" stroke-width="1" d="M765.0 161.3 L771.0 161.3 M765.0 205.0 L771.0 205.0 M765.0 248.7 L771.0 248.7 M765.0 292.3 L771.0 292.3 M765.0 336.0 L771.0 336.0 M765.0 379.7 L771.0 379.7 M765.0 423.3 L771.0 423.3 M765.0 467.0 L771.0 467.0 M765.0 510.7 L771.0 510.7"/>
<text x="121.6" y="49.3" font-size="25.0" text-anchor="start" fill="#000" textLength="600.0" lengthAdjust="spacingAndGlyphs">Init: 2017-04-30 00:00; Valid: 2017-06-15 09:00</text>
<text x="43.0" y="109.0" font-size="29.5" text-anchor="start" fill="#000" textLength="60.6" lengthAdjust="spacingAndGlyphs">45.0</text>
<text x="43.0" y="319.0" font-size="29.5" text-anchor="start" fill="#000" textLength="60.6" lengthAdjust="spacingAndGlyphs">40.0</text>
<text x="43.8" y="527.8" font-size="29.5" text-anchor="start" fill="#000" textLength="59.8" lengthAdjust="spacingAndGlyphs">35.0</text>
<text x="101.4" y="644.1" font-size="29.5" text-anchor="start" fill="#000" textLength="71.4" lengthAdjust="spacingAndGlyphs">-15.0</text>
<text x="297.7" y="644.1" font-size="29.5" text-anchor="start" fill="#000" textLength="70.8" lengthAdjust="spacingAndGlyphs">-10.0</text>
<text x="502.3" y="644.1" font-size="29.5" text-anchor="start" fill="#000" textLength="53.6" lengthAdjust="spacingAndGlyphs">-5.0</text>
<text x="705.3" y="644.1" font-size="29.5" text-anchor="start" fill="#000" textLength="42.3" lengthAdjust="spacingAndGlyphs">0.0</text>
<text x="302.6" y="679.8" font-size="32.4" text-anchor="start" fill="#000" textLength="241.0" lengthAdjust="spacingAndGlyphs">Longitude (deg)</text>
<text x="30.5" y="443.0" font-size="32.4" text-anchor="start" fill="#000" textLength="214.0" lengthAdjust="spacingAndGlyphs" transform="rotate(-90 30.5 443.0)">Latitude (deg)</text>
<text x="845.6" y="596.0" font-size="32.4" text-anchor="start" fill="#000" textLength="518.0" lengthAdjust="spacingAndGlyphs" transform="rotate(-90 845.6 596.0)">Temperature at 850.0 hPa (deg C)</text>
</svg>
</body></html>
